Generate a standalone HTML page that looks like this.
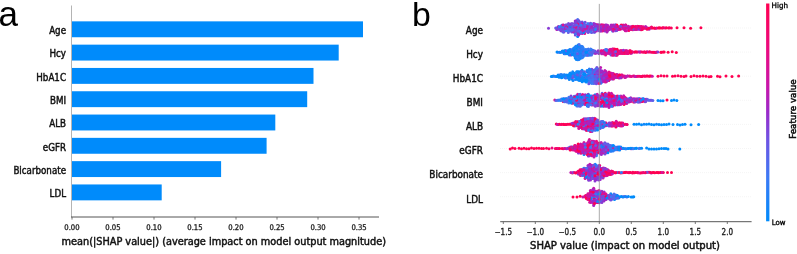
<!DOCTYPE html>
<html lang="en"><head><meta charset="utf-8"><title>SHAP summary plots</title>
<style>
html,body{margin:0;padding:0;background:#fff;}
body{width:797px;height:254px;overflow:hidden;}
svg{display:block;}
</style></head><body>
<svg width="797" height="254" viewBox="0 0 797 254" font-family="DejaVu Sans Condensed, DejaVu Sans, Liberation Sans, sans-serif">
<rect width="797" height="254" fill="#fff"/>
<text x="-1.5" y="26.2" font-size="35" font-family="Liberation Sans, Arial, sans-serif" fill="#000">a</text>
<text x="411.9" y="26.2" font-size="33.8" font-family="Liberation Sans, Arial, sans-serif" fill="#000">b</text>
<g fill="#008bfb">
<rect x="72.0" y="21.35" width="291.0" height="15.90"/>
<rect x="72.0" y="44.65" width="266.7" height="15.90"/>
<rect x="72.0" y="67.95" width="241.5" height="15.90"/>
<rect x="72.0" y="91.25" width="235.2" height="15.90"/>
<rect x="72.0" y="114.55" width="203.3" height="15.90"/>
<rect x="72.0" y="137.85" width="194.6" height="15.90"/>
<rect x="72.0" y="161.15" width="149.1" height="15.90"/>
<rect x="72.0" y="184.45" width="89.7" height="15.90"/>
</g>
<line x1="71.5" y1="5.5" x2="71.5" y2="217" stroke="#b4b4b4" stroke-width="1"/>
<line x1="71" y1="217.0" x2="379" y2="217.0" stroke="#555" stroke-width="1"/>
<line x1="72.0" y1="217.0" x2="72.0" y2="219.6" stroke="#555" stroke-width="0.8"/>
<text x="64.3" y="229.5" font-size="7.80" text-anchor="start" fill="#222" stroke="#222" stroke-width="0.30" textLength="15.3" lengthAdjust="spacingAndGlyphs" >0.00</text>
<line x1="113.0" y1="217.0" x2="113.0" y2="219.6" stroke="#555" stroke-width="0.8"/>
<text x="105.3" y="229.5" font-size="7.80" text-anchor="start" fill="#222" stroke="#222" stroke-width="0.30" textLength="15.3" lengthAdjust="spacingAndGlyphs" >0.05</text>
<line x1="154.0" y1="217.0" x2="154.0" y2="219.6" stroke="#555" stroke-width="0.8"/>
<text x="146.3" y="229.5" font-size="7.80" text-anchor="start" fill="#222" stroke="#222" stroke-width="0.30" textLength="15.3" lengthAdjust="spacingAndGlyphs" >0.10</text>
<line x1="195.0" y1="217.0" x2="195.0" y2="219.6" stroke="#555" stroke-width="0.8"/>
<text x="187.3" y="229.5" font-size="7.80" text-anchor="start" fill="#222" stroke="#222" stroke-width="0.30" textLength="15.3" lengthAdjust="spacingAndGlyphs" >0.15</text>
<line x1="236.0" y1="217.0" x2="236.0" y2="219.6" stroke="#555" stroke-width="0.8"/>
<text x="228.3" y="229.5" font-size="7.80" text-anchor="start" fill="#222" stroke="#222" stroke-width="0.30" textLength="15.3" lengthAdjust="spacingAndGlyphs" >0.20</text>
<line x1="277.0" y1="217.0" x2="277.0" y2="219.6" stroke="#555" stroke-width="0.8"/>
<text x="269.4" y="229.5" font-size="7.80" text-anchor="start" fill="#222" stroke="#222" stroke-width="0.30" textLength="15.3" lengthAdjust="spacingAndGlyphs" >0.25</text>
<line x1="318.0" y1="217.0" x2="318.0" y2="219.6" stroke="#555" stroke-width="0.8"/>
<text x="310.4" y="229.5" font-size="7.80" text-anchor="start" fill="#222" stroke="#222" stroke-width="0.30" textLength="15.3" lengthAdjust="spacingAndGlyphs" >0.30</text>
<line x1="359.0" y1="217.0" x2="359.0" y2="219.6" stroke="#555" stroke-width="0.8"/>
<text x="351.4" y="229.5" font-size="7.80" text-anchor="start" fill="#222" stroke="#222" stroke-width="0.30" textLength="15.3" lengthAdjust="spacingAndGlyphs" >0.35</text>
<text x="66.0" y="34.0" font-size="9.70" text-anchor="end" fill="#111" stroke="#111" stroke-width="0.42" >Age</text>
<text x="66.0" y="57.3" font-size="9.70" text-anchor="end" fill="#111" stroke="#111" stroke-width="0.42" >Hcy</text>
<text x="66.0" y="80.6" font-size="9.70" text-anchor="end" fill="#111" stroke="#111" stroke-width="0.42" >HbA1C</text>
<text x="66.0" y="103.9" font-size="9.70" text-anchor="end" fill="#111" stroke="#111" stroke-width="0.42" >BMI</text>
<text x="66.0" y="127.2" font-size="9.70" text-anchor="end" fill="#111" stroke="#111" stroke-width="0.42" >ALB</text>
<text x="66.0" y="150.5" font-size="9.70" text-anchor="end" fill="#111" stroke="#111" stroke-width="0.42" >eGFR</text>
<text x="66.0" y="173.8" font-size="9.70" text-anchor="end" fill="#111" stroke="#111" stroke-width="0.42" >Bicarbonate</text>
<text x="66.0" y="197.1" font-size="9.70" text-anchor="end" fill="#111" stroke="#111" stroke-width="0.42" >LDL</text>
<text x="61.5" y="244.7" font-size="10.50" text-anchor="start" fill="#111" stroke="#111" stroke-width="0.45" textLength="324.5" lengthAdjust="spacingAndGlyphs" >mean(|SHAP value|) (average impact on model output magnitude)</text>
<line x1="500" y1="28.0" x2="751.5" y2="28.0" stroke="#f2f2f2" stroke-width="0.8" stroke-dasharray="1,1"/>
<line x1="500" y1="52.1" x2="751.5" y2="52.1" stroke="#f2f2f2" stroke-width="0.8" stroke-dasharray="1,1"/>
<line x1="500" y1="76.2" x2="751.5" y2="76.2" stroke="#f2f2f2" stroke-width="0.8" stroke-dasharray="1,1"/>
<line x1="500" y1="100.3" x2="751.5" y2="100.3" stroke="#f2f2f2" stroke-width="0.8" stroke-dasharray="1,1"/>
<line x1="500" y1="124.4" x2="751.5" y2="124.4" stroke="#f2f2f2" stroke-width="0.8" stroke-dasharray="1,1"/>
<line x1="500" y1="148.5" x2="751.5" y2="148.5" stroke="#f2f2f2" stroke-width="0.8" stroke-dasharray="1,1"/>
<line x1="500" y1="172.6" x2="751.5" y2="172.6" stroke="#f2f2f2" stroke-width="0.8" stroke-dasharray="1,1"/>
<line x1="500" y1="196.7" x2="751.5" y2="196.7" stroke="#f2f2f2" stroke-width="0.8" stroke-dasharray="1,1"/>
<text x="483.0" y="33.8" font-size="9.90" text-anchor="end" fill="#111" stroke="#111" stroke-width="0.42" >Age</text>
<text x="483.0" y="57.9" font-size="9.90" text-anchor="end" fill="#111" stroke="#111" stroke-width="0.42" >Hcy</text>
<text x="483.0" y="82.0" font-size="9.90" text-anchor="end" fill="#111" stroke="#111" stroke-width="0.42" >HbA1C</text>
<text x="483.0" y="106.1" font-size="9.90" text-anchor="end" fill="#111" stroke="#111" stroke-width="0.42" >BMI</text>
<text x="483.0" y="130.2" font-size="9.90" text-anchor="end" fill="#111" stroke="#111" stroke-width="0.42" >ALB</text>
<text x="483.0" y="154.3" font-size="9.90" text-anchor="end" fill="#111" stroke="#111" stroke-width="0.42" >eGFR</text>
<text x="483.0" y="178.4" font-size="9.90" text-anchor="end" fill="#111" stroke="#111" stroke-width="0.42" >Bicarbonate</text>
<text x="483.0" y="202.5" font-size="9.90" text-anchor="end" fill="#111" stroke="#111" stroke-width="0.42" >LDL</text>
<g fill="#774bde">
<circle cx="597.3" cy="29.1" r="1.5"/>
<circle cx="582.1" cy="21.9" r="1.5"/>
</g>
<g fill="#2d7ef6">
<circle cx="612.6" cy="31.1" r="1.5"/>
</g>
<g fill="#c019af">
<circle cx="604.2" cy="30.8" r="1.5"/>
</g>
<g fill="#f10872">
<circle cx="602.3" cy="31.0" r="1.5"/>
</g>
<g fill="#774bde">
<circle cx="584.4" cy="30.7" r="1.5"/>
</g>
<g fill="#d81196">
<circle cx="635.5" cy="27.9" r="1.5"/>
<circle cx="636.3" cy="28.1" r="1.5"/>
</g>
<g fill="#5964ea">
<circle cx="582.5" cy="32.5" r="1.5"/>
</g>
<g fill="#ad22bd">
<circle cx="614.8" cy="29.2" r="1.5"/>
</g>
<g fill="#9a2aca">
<circle cx="600.0" cy="26.5" r="1.5"/>
</g>
<g fill="#0f87fa">
<circle cx="578.7" cy="29.2" r="1.5"/>
</g>
<g fill="#774bde">
<circle cx="557.2" cy="27.7" r="1.5"/>
</g>
<g fill="#ad22bd">
<circle cx="608.8" cy="29.7" r="1.5"/>
<circle cx="610.4" cy="26.7" r="1.5"/>
</g>
<g fill="#774bde">
<circle cx="588.2" cy="32.5" r="1.5"/>
</g>
<g fill="#d81196">
<circle cx="620.5" cy="29.2" r="1.5"/>
</g>
<g fill="#6759e5">
<circle cx="591.3" cy="30.6" r="1.5"/>
</g>
<g fill="#2d7ef6">
<circle cx="600.7" cy="26.4" r="1.5"/>
</g>
<g fill="#883bd4">
<circle cx="624.6" cy="29.3" r="1.5"/>
</g>
<g fill="#c019af">
<circle cx="613.3" cy="31.0" r="1.5"/>
</g>
<g fill="#ff0051">
<circle cx="656.9" cy="28.0" r="1.5"/>
</g>
<g fill="#ad22bd">
<circle cx="645.6" cy="26.6" r="1.5"/>
<circle cx="634.6" cy="26.8" r="1.5"/>
</g>
<g fill="#9a2aca">
<circle cx="598.5" cy="26.2" r="1.5"/>
</g>
<g fill="#ad22bd">
<circle cx="606.8" cy="26.2" r="1.5"/>
<circle cx="631.1" cy="26.8" r="1.5"/>
</g>
<g fill="#6759e5">
<circle cx="571.0" cy="30.8" r="1.5"/>
</g>
<g fill="#4a6ff0">
<circle cx="559.6" cy="29.2" r="1.5"/>
</g>
<g fill="#774bde">
<circle cx="568.5" cy="23.4" r="1.5"/>
</g>
<g fill="#4a6ff0">
<circle cx="592.8" cy="28.1" r="1.5"/>
</g>
<g fill="#774bde">
<circle cx="574.4" cy="27.8" r="1.5"/>
</g>
<g fill="#ff0051">
<circle cx="646.9" cy="27.9" r="1.5"/>
</g>
<g fill="#774bde">
<circle cx="587.1" cy="25.0" r="1.5"/>
<circle cx="568.7" cy="28.3" r="1.5"/>
</g>
<g fill="#c019af">
<circle cx="573.2" cy="26.8" r="1.5"/>
</g>
<g fill="#9a2aca">
<circle cx="592.6" cy="25.4" r="1.5"/>
<circle cx="558.2" cy="28.1" r="1.5"/>
</g>
<g fill="#c019af">
<circle cx="567.4" cy="25.3" r="1.5"/>
</g>
<g fill="#d81196">
<circle cx="651.4" cy="28.1" r="1.5"/>
</g>
<g fill="#883bd4">
<circle cx="576.5" cy="22.3" r="1.5"/>
</g>
<g fill="#ce14a2">
<circle cx="619.2" cy="26.7" r="1.5"/>
</g>
<g fill="#774bde">
<circle cx="567.7" cy="26.9" r="1.5"/>
</g>
<g fill="#883bd4">
<circle cx="594.1" cy="31.1" r="1.5"/>
</g>
<g fill="#c019af">
<circle cx="611.3" cy="28.3" r="1.5"/>
<circle cx="613.4" cy="25.0" r="1.5"/>
</g>
<g fill="#774bde">
<circle cx="585.1" cy="22.3" r="1.5"/>
</g>
<g fill="#9a2aca">
<circle cx="575.7" cy="32.1" r="1.5"/>
<circle cx="600.6" cy="27.9" r="1.5"/>
</g>
<g fill="#774bde">
<circle cx="583.3" cy="24.9" r="1.5"/>
<circle cx="580.0" cy="31.2" r="1.5"/>
</g>
<g fill="#fa035c">
<circle cx="641.1" cy="29.7" r="1.5"/>
</g>
<g fill="#774bde">
<circle cx="585.9" cy="31.2" r="1.5"/>
</g>
<g fill="#9a2aca">
<circle cx="612.5" cy="26.6" r="1.5"/>
</g>
<g fill="#774bde">
<circle cx="575.7" cy="25.4" r="1.5"/>
</g>
<g fill="#6759e5">
<circle cx="604.6" cy="26.6" r="1.5"/>
</g>
<g fill="#c019af">
<circle cx="556.8" cy="29.4" r="1.5"/>
</g>
<g fill="#774bde">
<circle cx="561.7" cy="26.9" r="1.5"/>
</g>
<g fill="#883bd4">
<circle cx="605.3" cy="30.9" r="1.5"/>
</g>
<g fill="#ad22bd">
<circle cx="585.8" cy="26.6" r="1.5"/>
</g>
<g fill="#f60567">
<circle cx="638.9" cy="28.1" r="1.5"/>
</g>
<g fill="#ce14a2">
<circle cx="612.0" cy="29.2" r="1.5"/>
</g>
<g fill="#ff0051">
<circle cx="666.5" cy="27.8" r="1.5"/>
</g>
<g fill="#774bde">
<circle cx="562.0" cy="28.3" r="1.5"/>
<circle cx="615.7" cy="30.8" r="1.5"/>
</g>
<g fill="#883bd4">
<circle cx="570.7" cy="23.9" r="1.5"/>
</g>
<g fill="#ad22bd">
<circle cx="601.9" cy="29.6" r="1.5"/>
<circle cx="562.5" cy="29.3" r="1.5"/>
</g>
<g fill="#1e82f8">
<circle cx="578.1" cy="25.4" r="1.5"/>
</g>
<g fill="#d81196">
<circle cx="623.1" cy="25.1" r="1.5"/>
</g>
<g fill="#774bde">
<circle cx="561.5" cy="31.1" r="1.5"/>
</g>
<g fill="#883bd4">
<circle cx="568.7" cy="26.5" r="1.5"/>
</g>
<g fill="#ec0a7d">
<circle cx="617.3" cy="29.5" r="1.5"/>
</g>
<g fill="#883bd4">
<circle cx="597.1" cy="24.8" r="1.5"/>
<circle cx="562.6" cy="27.8" r="1.5"/>
</g>
<g fill="#3c7af5">
<circle cx="575.6" cy="29.6" r="1.5"/>
</g>
<g fill="#5964ea">
<circle cx="567.4" cy="29.6" r="1.5"/>
</g>
<g fill="#774bde">
<circle cx="578.1" cy="21.9" r="1.5"/>
</g>
<g fill="#d81196">
<circle cx="637.7" cy="26.3" r="1.5"/>
</g>
<g fill="#774bde">
<circle cx="582.4" cy="29.8" r="1.5"/>
</g>
<g fill="#c019af">
<circle cx="580.3" cy="29.7" r="1.5"/>
</g>
<g fill="#883bd4">
<circle cx="584.8" cy="27.7" r="1.5"/>
</g>
<g fill="#ad22bd">
<circle cx="576.3" cy="20.8" r="1.5"/>
</g>
<g fill="#774bde">
<circle cx="577.6" cy="32.1" r="1.5"/>
<circle cx="573.3" cy="27.9" r="1.5"/>
</g>
<g fill="#9a2aca">
<circle cx="576.4" cy="23.6" r="1.5"/>
<circle cx="636.3" cy="29.5" r="1.5"/>
</g>
<g fill="#2d7ef6">
<circle cx="583.6" cy="23.3" r="1.5"/>
</g>
<g fill="#883bd4">
<circle cx="600.8" cy="29.2" r="1.5"/>
</g>
<g fill="#774bde">
<circle cx="588.3" cy="28.0" r="1.5"/>
</g>
<g fill="#c019af">
<circle cx="591.3" cy="27.7" r="1.5"/>
</g>
<g fill="#6759e5">
<circle cx="628.6" cy="27.7" r="1.5"/>
</g>
<g fill="#c019af">
<circle cx="632.7" cy="27.8" r="1.5"/>
</g>
<g fill="#ad22bd">
<circle cx="571.3" cy="24.9" r="1.5"/>
</g>
<g fill="#ff0051">
<circle cx="632.1" cy="29.5" r="1.5"/>
</g>
<g fill="#ad22bd">
<circle cx="586.8" cy="27.8" r="1.5"/>
</g>
<g fill="#3c7af5">
<circle cx="563.2" cy="32.0" r="1.5"/>
</g>
<g fill="#ec0a7d">
<circle cx="613.5" cy="28.3" r="1.5"/>
</g>
<g fill="#ad22bd">
<circle cx="607.5" cy="30.7" r="1.5"/>
</g>
<g fill="#774bde">
<circle cx="579.3" cy="25.4" r="1.5"/>
<circle cx="589.4" cy="25.1" r="1.5"/>
<circle cx="566.2" cy="24.8" r="1.5"/>
</g>
<g fill="#e20d8a">
<circle cx="639.8" cy="26.5" r="1.5"/>
</g>
<g fill="#883bd4">
<circle cx="580.0" cy="26.5" r="1.5"/>
</g>
<g fill="#5964ea">
<circle cx="563.3" cy="30.9" r="1.5"/>
</g>
<g fill="#774bde">
<circle cx="590.8" cy="27.8" r="1.5"/>
</g>
<g fill="#e20d8a">
<circle cx="632.8" cy="29.7" r="1.5"/>
</g>
<g fill="#5964ea">
<circle cx="595.9" cy="26.7" r="1.5"/>
</g>
<g fill="#008bfb">
<circle cx="582.2" cy="27.7" r="1.5"/>
</g>
<g fill="#ce14a2">
<circle cx="626.1" cy="27.8" r="1.5"/>
</g>
<g fill="#1e82f8">
<circle cx="594.1" cy="28.2" r="1.5"/>
</g>
<g fill="#e20d8a">
<circle cx="618.9" cy="28.0" r="1.5"/>
</g>
<g fill="#774bde">
<circle cx="558.0" cy="29.3" r="1.5"/>
<circle cx="563.9" cy="29.2" r="1.5"/>
<circle cx="588.4" cy="26.6" r="1.5"/>
</g>
<g fill="#f10872">
<circle cx="634.6" cy="27.9" r="1.5"/>
</g>
<g fill="#e20d8a">
<circle cx="637.4" cy="29.2" r="1.5"/>
</g>
<g fill="#ec0a7d">
<circle cx="604.3" cy="25.2" r="1.5"/>
</g>
<g fill="#774bde">
<circle cx="608.0" cy="28.3" r="1.5"/>
</g>
<g fill="#4a6ff0">
<circle cx="613.2" cy="26.2" r="1.5"/>
</g>
<g fill="#ce14a2">
<circle cx="655.8" cy="28.2" r="1.5"/>
</g>
<g fill="#774bde">
<circle cx="571.0" cy="28.0" r="1.5"/>
<circle cx="565.2" cy="26.9" r="1.5"/>
</g>
<g fill="#5964ea">
<circle cx="582.3" cy="25.2" r="1.5"/>
</g>
<g fill="#f60567">
<circle cx="659.3" cy="27.8" r="1.5"/>
</g>
<g fill="#d81196">
<circle cx="606.7" cy="27.9" r="1.5"/>
</g>
<g fill="#6759e5">
<circle cx="585.8" cy="25.2" r="1.5"/>
</g>
<g fill="#774bde">
<circle cx="580.1" cy="23.9" r="1.5"/>
</g>
<g fill="#ad22bd">
<circle cx="607.0" cy="32.0" r="1.5"/>
</g>
<g fill="#d81196">
<circle cx="631.5" cy="26.8" r="1.5"/>
</g>
<g fill="#fa035c">
<circle cx="635.7" cy="26.6" r="1.5"/>
</g>
<g fill="#c019af">
<circle cx="610.0" cy="28.0" r="1.5"/>
</g>
<g fill="#883bd4">
<circle cx="584.5" cy="29.4" r="1.5"/>
</g>
<g fill="#e20d8a">
<circle cx="607.5" cy="26.8" r="1.5"/>
</g>
<g fill="#4a6ff0">
<circle cx="574.7" cy="32.5" r="1.5"/>
</g>
<g fill="#883bd4">
<circle cx="594.9" cy="24.0" r="1.5"/>
</g>
<g fill="#e20d8a">
<circle cx="618.4" cy="26.8" r="1.5"/>
</g>
<g fill="#c019af">
<circle cx="614.3" cy="25.4" r="1.5"/>
</g>
<g fill="#3c7af5">
<circle cx="634.1" cy="29.3" r="1.5"/>
</g>
<g fill="#ad22bd">
<circle cx="649.1" cy="29.2" r="1.5"/>
</g>
<g fill="#774bde">
<circle cx="571.3" cy="26.5" r="1.5"/>
</g>
<g fill="#ce14a2">
<circle cx="615.5" cy="29.6" r="1.5"/>
</g>
<g fill="#774bde">
<circle cx="560.8" cy="26.8" r="1.5"/>
</g>
<g fill="#f10872">
<circle cx="629.6" cy="28.0" r="1.5"/>
</g>
<g fill="#008bfb">
<circle cx="573.4" cy="29.6" r="1.5"/>
</g>
<g fill="#ce14a2">
<circle cx="620.4" cy="27.9" r="1.5"/>
</g>
<g fill="#3c7af5">
<circle cx="588.0" cy="23.4" r="1.5"/>
</g>
<g fill="#883bd4">
<circle cx="598.3" cy="24.8" r="1.5"/>
<circle cx="564.9" cy="29.4" r="1.5"/>
</g>
<g fill="#6759e5">
<circle cx="555.7" cy="27.9" r="1.5"/>
</g>
<g fill="#883bd4">
<circle cx="593.7" cy="29.2" r="1.5"/>
</g>
<g fill="#6759e5">
<circle cx="585.1" cy="24.9" r="1.5"/>
</g>
<g fill="#774bde">
<circle cx="579.2" cy="32.0" r="1.5"/>
</g>
<g fill="#4a6ff0">
<circle cx="616.8" cy="28.1" r="1.5"/>
</g>
<g fill="#ad22bd">
<circle cx="612.6" cy="25.2" r="1.5"/>
</g>
<g fill="#ec0a7d">
<circle cx="641.9" cy="26.7" r="1.5"/>
</g>
<g fill="#ad22bd">
<circle cx="605.6" cy="24.9" r="1.5"/>
</g>
<g fill="#c019af">
<circle cx="628.5" cy="26.3" r="1.5"/>
</g>
<g fill="#774bde">
<circle cx="583.4" cy="30.7" r="1.5"/>
</g>
<g fill="#f60567">
<circle cx="595.5" cy="28.1" r="1.5"/>
</g>
<g fill="#9a2aca">
<circle cx="598.3" cy="29.3" r="1.5"/>
</g>
<g fill="#ff0051">
<circle cx="660.4" cy="28.0" r="1.5"/>
</g>
<g fill="#883bd4">
<circle cx="589.5" cy="29.8" r="1.5"/>
</g>
<g fill="#ff0051">
<circle cx="668.6" cy="28.1" r="1.5"/>
</g>
<g fill="#4a6ff0">
<circle cx="567.9" cy="30.6" r="1.5"/>
</g>
<g fill="#774bde">
<circle cx="575.7" cy="28.1" r="1.5"/>
</g>
<g fill="#f10872">
<circle cx="654.8" cy="28.3" r="1.5"/>
</g>
<g fill="#774bde">
<circle cx="615.4" cy="24.8" r="1.5"/>
</g>
<g fill="#5964ea">
<circle cx="568.5" cy="25.2" r="1.5"/>
</g>
<g fill="#9a2aca">
<circle cx="628.7" cy="29.1" r="1.5"/>
</g>
<g fill="#774bde">
<circle cx="590.4" cy="23.3" r="1.5"/>
</g>
<g fill="#883bd4">
<circle cx="595.9" cy="29.8" r="1.5"/>
</g>
<g fill="#ce14a2">
<circle cx="647.7" cy="27.9" r="1.5"/>
</g>
<g fill="#774bde">
<circle cx="572.0" cy="23.4" r="1.5"/>
</g>
<g fill="#fa035c">
<circle cx="638.6" cy="26.4" r="1.5"/>
</g>
<g fill="#f60567">
<circle cx="606.9" cy="29.8" r="1.5"/>
</g>
<g fill="#2d7ef6">
<circle cx="565.4" cy="30.7" r="1.5"/>
</g>
<g fill="#5964ea">
<circle cx="575.8" cy="23.9" r="1.5"/>
</g>
<g fill="#6759e5">
<circle cx="568.3" cy="32.5" r="1.5"/>
</g>
<g fill="#774bde">
<circle cx="563.9" cy="32.1" r="1.5"/>
</g>
<g fill="#d81196">
<circle cx="635.0" cy="29.5" r="1.5"/>
</g>
<g fill="#774bde">
<circle cx="576.3" cy="30.9" r="1.5"/>
</g>
<g fill="#9a2aca">
<circle cx="600.7" cy="24.9" r="1.5"/>
</g>
<g fill="#ce14a2">
<circle cx="625.3" cy="30.7" r="1.5"/>
</g>
<g fill="#ff0051">
<circle cx="628.8" cy="30.6" r="1.5"/>
</g>
<g fill="#e20d8a">
<circle cx="640.2" cy="29.3" r="1.5"/>
</g>
<g fill="#ce14a2">
<circle cx="627.3" cy="26.8" r="1.5"/>
</g>
<g fill="#ad22bd">
<circle cx="605.6" cy="28.2" r="1.5"/>
</g>
<g fill="#fa035c">
<circle cx="671.3" cy="28.0" r="1.5"/>
</g>
<g fill="#1e82f8">
<circle cx="578.7" cy="22.5" r="1.5"/>
</g>
<g fill="#774bde">
<circle cx="576.7" cy="29.7" r="1.5"/>
</g>
<g fill="#ce14a2">
<circle cx="623.1" cy="26.3" r="1.5"/>
</g>
<g fill="#ec0a7d">
<circle cx="601.9" cy="24.8" r="1.5"/>
</g>
<g fill="#ad22bd">
<circle cx="607.8" cy="29.6" r="1.5"/>
</g>
<g fill="#4a6ff0">
<circle cx="577.7" cy="19.6" r="1.5"/>
</g>
<g fill="#c019af">
<circle cx="605.6" cy="29.3" r="1.5"/>
</g>
<g fill="#774bde">
<circle cx="650.4" cy="27.7" r="1.5"/>
<circle cx="574.4" cy="31.0" r="1.5"/>
</g>
<g fill="#f10872">
<circle cx="625.9" cy="25.0" r="1.5"/>
</g>
<g fill="#e20d8a">
<circle cx="596.4" cy="24.8" r="1.5"/>
</g>
<g fill="#c019af">
<circle cx="586.7" cy="29.4" r="1.5"/>
</g>
<g fill="#d81196">
<circle cx="603.3" cy="25.0" r="1.5"/>
</g>
<g fill="#5964ea">
<circle cx="579.8" cy="27.8" r="1.5"/>
</g>
<g fill="#008bfb">
<circle cx="577.7" cy="36.5" r="1.5"/>
</g>
<g fill="#774bde">
<circle cx="576.5" cy="32.3" r="1.5"/>
</g>
<g fill="#9a2aca">
<circle cx="575.2" cy="20.9" r="1.5"/>
</g>
<g fill="#fa035c">
<circle cx="577.6" cy="33.8" r="1.5"/>
</g>
<g fill="#4a6ff0">
<circle cx="598.8" cy="30.6" r="1.5"/>
</g>
<g fill="#ff0051">
<circle cx="652.3" cy="28.0" r="1.5"/>
<circle cx="665.4" cy="28.1" r="1.5"/>
</g>
<g fill="#6759e5">
<circle cx="572.3" cy="26.2" r="1.5"/>
</g>
<g fill="#1e82f8">
<circle cx="603.1" cy="29.6" r="1.5"/>
</g>
<g fill="#9a2aca">
<circle cx="604.2" cy="28.1" r="1.5"/>
</g>
<g fill="#ff0051">
<circle cx="616.8" cy="25.1" r="1.5"/>
</g>
<g fill="#e20d8a">
<circle cx="663.9" cy="27.7" r="1.5"/>
</g>
<g fill="#d81196">
<circle cx="569.8" cy="28.0" r="1.5"/>
</g>
<g fill="#4a6ff0">
<circle cx="575.2" cy="26.5" r="1.5"/>
</g>
<g fill="#ce14a2">
<circle cx="630.8" cy="28.0" r="1.5"/>
</g>
<g fill="#c019af">
<circle cx="580.9" cy="30.9" r="1.5"/>
</g>
<g fill="#ad22bd">
<circle cx="610.3" cy="29.3" r="1.5"/>
<circle cx="576.9" cy="33.5" r="1.5"/>
</g>
<g fill="#3c7af5">
<circle cx="583.4" cy="29.7" r="1.5"/>
</g>
<g fill="#ff0051">
<circle cx="621.2" cy="25.1" r="1.5"/>
</g>
<g fill="#ec0a7d">
<circle cx="643.4" cy="26.8" r="1.5"/>
</g>
<g fill="#774bde">
<circle cx="589.7" cy="27.9" r="1.5"/>
</g>
<g fill="#008bfb">
<circle cx="569.8" cy="26.6" r="1.5"/>
</g>
<g fill="#774bde">
<circle cx="575.3" cy="35.0" r="1.5"/>
<circle cx="571.7" cy="32.1" r="1.5"/>
</g>
<g fill="#9a2aca">
<circle cx="600.0" cy="29.2" r="1.5"/>
</g>
<g fill="#ce14a2">
<circle cx="623.8" cy="29.2" r="1.5"/>
</g>
<g fill="#4a6ff0">
<circle cx="568.8" cy="30.9" r="1.5"/>
</g>
<g fill="#ad22bd">
<circle cx="590.5" cy="31.2" r="1.5"/>
</g>
<g fill="#e20d8a">
<circle cx="640.8" cy="28.2" r="1.5"/>
</g>
<g fill="#ff0051">
<circle cx="662.2" cy="27.9" r="1.5"/>
</g>
<g fill="#774bde">
<circle cx="577.7" cy="29.4" r="1.5"/>
</g>
<g fill="#ec0a7d">
<circle cx="629.9" cy="29.6" r="1.5"/>
</g>
<g fill="#fa035c">
<circle cx="619.3" cy="29.3" r="1.5"/>
</g>
<g fill="#883bd4">
<circle cx="567.8" cy="27.8" r="1.5"/>
</g>
<g fill="#ad22bd">
<circle cx="623.1" cy="28.1" r="1.5"/>
</g>
<g fill="#fa035c">
<circle cx="642.3" cy="29.6" r="1.5"/>
</g>
<g fill="#774bde">
<circle cx="589.5" cy="26.3" r="1.5"/>
<circle cx="559.1" cy="28.0" r="1.5"/>
</g>
<g fill="#f60567">
<circle cx="651.5" cy="26.9" r="1.5"/>
</g>
<g fill="#9a2aca">
<circle cx="595.0" cy="26.8" r="1.5"/>
</g>
<g fill="#ce14a2">
<circle cx="626.5" cy="30.8" r="1.5"/>
</g>
<g fill="#ad22bd">
<circle cx="611.2" cy="26.5" r="1.5"/>
</g>
<g fill="#774bde">
<circle cx="574.3" cy="29.2" r="1.5"/>
</g>
<g fill="#9a2aca">
<circle cx="599.8" cy="31.1" r="1.5"/>
</g>
<g fill="#774bde">
<circle cx="616.8" cy="30.6" r="1.5"/>
<circle cx="563.7" cy="27.8" r="1.5"/>
<circle cx="582.6" cy="23.5" r="1.5"/>
</g>
<g fill="#5964ea">
<circle cx="590.2" cy="25.3" r="1.5"/>
</g>
<g fill="#fa035c">
<circle cx="566.3" cy="26.9" r="1.5"/>
</g>
<g fill="#f60567">
<circle cx="614.8" cy="28.2" r="1.5"/>
</g>
<g fill="#e20d8a">
<circle cx="621.4" cy="26.6" r="1.5"/>
</g>
<g fill="#ad22bd">
<circle cx="573.5" cy="32.1" r="1.5"/>
</g>
<g fill="#c019af">
<circle cx="579.3" cy="27.9" r="1.5"/>
</g>
<g fill="#e20d8a">
<circle cx="625.8" cy="26.8" r="1.5"/>
</g>
<g fill="#ad22bd">
<circle cx="581.1" cy="27.7" r="1.5"/>
</g>
<g fill="#9a2aca">
<circle cx="615.7" cy="27.7" r="1.5"/>
</g>
<g fill="#883bd4">
<circle cx="643.6" cy="28.0" r="1.5"/>
</g>
<g fill="#774bde">
<circle cx="582.1" cy="26.4" r="1.5"/>
</g>
<g fill="#c019af">
<circle cx="574.3" cy="26.4" r="1.5"/>
</g>
<g fill="#9a2aca">
<circle cx="603.1" cy="28.1" r="1.5"/>
</g>
<g fill="#774bde">
<circle cx="580.3" cy="25.4" r="1.5"/>
<circle cx="578.9" cy="20.7" r="1.5"/>
</g>
<g fill="#ad22bd">
<circle cx="611.1" cy="25.1" r="1.5"/>
</g>
<g fill="#9a2aca">
<circle cx="606.4" cy="25.0" r="1.5"/>
</g>
<g fill="#e20d8a">
<circle cx="584.7" cy="33.5" r="1.5"/>
</g>
<g fill="#774bde">
<circle cx="578.8" cy="23.5" r="1.5"/>
</g>
<g fill="#3c7af5">
<circle cx="594.2" cy="32.3" r="1.5"/>
</g>
<g fill="#d81196">
<circle cx="597.3" cy="27.9" r="1.5"/>
</g>
<g fill="#3c7af5">
<circle cx="579.2" cy="31.2" r="1.5"/>
</g>
<g fill="#774bde">
<circle cx="591.8" cy="24.9" r="1.5"/>
</g>
<g fill="#9a2aca">
<circle cx="593.7" cy="23.4" r="1.5"/>
</g>
<g fill="#ec0a7d">
<circle cx="641.1" cy="26.6" r="1.5"/>
</g>
<g fill="#f60567">
<circle cx="642.4" cy="28.3" r="1.5"/>
</g>
<g fill="#ce14a2">
<circle cx="624.1" cy="26.3" r="1.5"/>
</g>
<g fill="#ad22bd">
<circle cx="602.3" cy="28.2" r="1.5"/>
</g>
<g fill="#774bde">
<circle cx="574.4" cy="23.5" r="1.5"/>
</g>
<g fill="#ec0a7d">
<circle cx="617.0" cy="26.4" r="1.5"/>
</g>
<g fill="#ad22bd">
<circle cx="582.2" cy="33.5" r="1.5"/>
</g>
<g fill="#5964ea">
<circle cx="577.7" cy="31.2" r="1.5"/>
</g>
<g fill="#883bd4">
<circle cx="569.8" cy="25.1" r="1.5"/>
</g>
<g fill="#774bde">
<circle cx="574.4" cy="25.4" r="1.5"/>
</g>
<g fill="#ce14a2">
<circle cx="581.6" cy="23.6" r="1.5"/>
</g>
<g fill="#774bde">
<circle cx="575.7" cy="30.6" r="1.5"/>
<circle cx="590.3" cy="26.3" r="1.5"/>
</g>
<g fill="#2d7ef6">
<circle cx="561.8" cy="25.2" r="1.5"/>
</g>
<g fill="#c019af">
<circle cx="583.9" cy="28.2" r="1.5"/>
</g>
<g fill="#2d7ef6">
<circle cx="562.8" cy="26.5" r="1.5"/>
</g>
<g fill="#9a2aca">
<circle cx="600.8" cy="31.1" r="1.5"/>
</g>
<g fill="#fa035c">
<circle cx="662.9" cy="27.7" r="1.5"/>
</g>
<g fill="#c019af">
<circle cx="590.7" cy="29.2" r="1.5"/>
</g>
<g fill="#008bfb">
<circle cx="583.5" cy="32.4" r="1.5"/>
</g>
<g fill="#ad22bd">
<circle cx="605.2" cy="26.5" r="1.5"/>
</g>
<g fill="#1e82f8">
<circle cx="577.5" cy="26.7" r="1.5"/>
</g>
<g fill="#883bd4">
<circle cx="595.2" cy="30.7" r="1.5"/>
</g>
<g fill="#774bde">
<circle cx="581.4" cy="26.2" r="1.5"/>
</g>
<g fill="#c019af">
<circle cx="618.3" cy="29.5" r="1.5"/>
</g>
<g fill="#4a6ff0">
<circle cx="591.5" cy="23.7" r="1.5"/>
</g>
<g fill="#9a2aca">
<circle cx="599.8" cy="28.2" r="1.5"/>
</g>
<g fill="#774bde">
<circle cx="573.0" cy="30.6" r="1.5"/>
</g>
<g fill="#ad22bd">
<circle cx="566.7" cy="29.5" r="1.5"/>
</g>
<g fill="#883bd4">
<circle cx="597.2" cy="26.2" r="1.5"/>
</g>
<g fill="#e20d8a">
<circle cx="637.5" cy="28.0" r="1.5"/>
</g>
<g fill="#ff0051">
<circle cx="649.0" cy="28.3" r="1.5"/>
</g>
<g fill="#c019af">
<circle cx="615.6" cy="26.3" r="1.5"/>
</g>
<g fill="#774bde">
<circle cx="589.7" cy="31.2" r="1.5"/>
</g>
<g fill="#4a6ff0">
<circle cx="572.1" cy="29.7" r="1.5"/>
</g>
<g fill="#774bde">
<circle cx="591.7" cy="32.4" r="1.5"/>
<circle cx="620.6" cy="26.3" r="1.5"/>
</g>
<g fill="#ce14a2">
<circle cx="645.8" cy="28.3" r="1.5"/>
</g>
<g fill="#4a6ff0">
<circle cx="585.0" cy="26.5" r="1.5"/>
</g>
<g fill="#9a2aca">
<circle cx="639.0" cy="29.2" r="1.5"/>
</g>
<g fill="#f10872">
<circle cx="577.6" cy="23.7" r="1.5"/>
</g>
<g fill="#883bd4">
<circle cx="595.5" cy="25.3" r="1.5"/>
</g>
<g fill="#774bde">
<circle cx="591.4" cy="29.7" r="1.5"/>
<circle cx="576.5" cy="26.5" r="1.5"/>
</g>
<g fill="#e20d8a">
<circle cx="640.0" cy="27.8" r="1.5"/>
</g>
<g fill="#6759e5">
<circle cx="568.3" cy="29.2" r="1.5"/>
</g>
<g fill="#ec0a7d">
<circle cx="636.8" cy="26.8" r="1.5"/>
</g>
<g fill="#883bd4">
<circle cx="560.7" cy="30.6" r="1.5"/>
</g>
<g fill="#ad22bd">
<circle cx="607.6" cy="25.3" r="1.5"/>
<circle cx="596.4" cy="31.1" r="1.5"/>
</g>
<g fill="#c019af">
<circle cx="587.4" cy="26.6" r="1.5"/>
</g>
<g fill="#9a2aca">
<circle cx="598.8" cy="27.9" r="1.5"/>
<circle cx="578.7" cy="35.0" r="1.5"/>
</g>
<g fill="#6759e5">
<circle cx="625.3" cy="26.3" r="1.5"/>
</g>
<g fill="#883bd4">
<circle cx="594.7" cy="32.1" r="1.5"/>
</g>
<g fill="#3c7af5">
<circle cx="581.0" cy="25.0" r="1.5"/>
<circle cx="566.5" cy="30.6" r="1.5"/>
</g>
<g fill="#ad22bd">
<circle cx="608.9" cy="28.2" r="1.5"/>
</g>
<g fill="#774bde">
<circle cx="581.1" cy="32.6" r="1.5"/>
</g>
<g fill="#ce14a2">
<circle cx="627.1" cy="28.3" r="1.5"/>
</g>
<g fill="#c019af">
<circle cx="599.5" cy="24.9" r="1.5"/>
</g>
<g fill="#d81196">
<circle cx="585.8" cy="29.7" r="1.5"/>
<circle cx="603.2" cy="30.6" r="1.5"/>
</g>
<g fill="#ad22bd">
<circle cx="558.4" cy="26.4" r="1.5"/>
</g>
<g fill="#5964ea">
<circle cx="586.8" cy="31.1" r="1.5"/>
</g>
<g fill="#f10872">
<circle cx="576.7" cy="27.7" r="1.5"/>
</g>
<g fill="#e20d8a">
<circle cx="624.9" cy="28.0" r="1.5"/>
</g>
<g fill="#4a6ff0">
<circle cx="575.5" cy="33.7" r="1.5"/>
</g>
<g fill="#fa035c">
<circle cx="669.5" cy="27.7" r="1.5"/>
</g>
<g fill="#6759e5">
<circle cx="579.8" cy="22.3" r="1.5"/>
</g>
<g fill="#883bd4">
<circle cx="581.7" cy="29.2" r="1.5"/>
</g>
<g fill="#774bde">
<circle cx="580.1" cy="33.6" r="1.5"/>
</g>
<g fill="#d81196">
<circle cx="630.5" cy="29.3" r="1.5"/>
</g>
<g fill="#fa035c">
<circle cx="647.1" cy="29.3" r="1.5"/>
</g>
<g fill="#774bde">
<circle cx="602.1" cy="26.6" r="1.5"/>
<circle cx="563.7" cy="25.0" r="1.5"/>
</g>
<g fill="#ff0051">
<circle cx="654.1" cy="28.1" r="1.5"/>
</g>
<g fill="#6759e5">
<circle cx="595.9" cy="28.3" r="1.5"/>
</g>
<g fill="#9a2aca">
<circle cx="578.8" cy="33.9" r="1.5"/>
</g>
<g fill="#c019af">
<circle cx="565.5" cy="28.3" r="1.5"/>
</g>
<g fill="#774bde">
<circle cx="560.8" cy="29.4" r="1.5"/>
</g>
<g fill="#2d7ef6">
<circle cx="595.4" cy="29.6" r="1.5"/>
</g>
<g fill="#f60567">
<circle cx="632.0" cy="27.7" r="1.5"/>
</g>
<g fill="#ce14a2">
<circle cx="603.0" cy="26.6" r="1.5"/>
</g>
<g fill="#774bde">
<circle cx="578.0" cy="28.2" r="1.5"/>
</g>
<g fill="#4a6ff0">
<circle cx="590.9" cy="32.1" r="1.5"/>
</g>
<g fill="#774bde">
<circle cx="566.1" cy="27.8" r="1.5"/>
</g>
<g fill="#ce14a2">
<circle cx="625.3" cy="24.9" r="1.5"/>
</g>
<g fill="#5964ea">
<circle cx="569.8" cy="29.3" r="1.5"/>
</g>
<g fill="#fa035c">
<circle cx="633.0" cy="26.3" r="1.5"/>
</g>
<g fill="#c019af">
<circle cx="582.7" cy="30.7" r="1.5"/>
</g>
<g fill="#d81196">
<circle cx="562.9" cy="25.1" r="1.5"/>
</g>
<g fill="#5964ea">
<circle cx="576.7" cy="24.8" r="1.5"/>
</g>
<g fill="#774bde">
<circle cx="583.6" cy="26.7" r="1.5"/>
</g>
<g fill="#ad22bd">
<circle cx="591.7" cy="26.9" r="1.5"/>
</g>
<g fill="#4a6ff0">
<circle cx="580.5" cy="32.2" r="1.5"/>
</g>
<g fill="#ff0051">
<circle cx="658.6" cy="28.1" r="1.5"/>
</g>
<g fill="#883bd4">
<circle cx="575.7" cy="22.3" r="1.5"/>
</g>
<g fill="#774bde">
<circle cx="588.2" cy="31.0" r="1.5"/>
</g>
<g fill="#ce14a2">
<circle cx="623.5" cy="28.2" r="1.5"/>
</g>
<g fill="#f10872">
<circle cx="644.2" cy="28.3" r="1.5"/>
</g>
<g fill="#2d7ef6">
<circle cx="559.2" cy="26.8" r="1.5"/>
</g>
<g fill="#883bd4">
<circle cx="548.5" cy="28.2" r="1.5"/>
</g>
<g fill="#ff0051">
<circle cx="677.0" cy="27.8" r="1.5"/>
<circle cx="684.0" cy="27.7" r="1.5"/>
<circle cx="690.6" cy="28.3" r="1.5"/>
<circle cx="700.9" cy="27.8" r="1.5"/>
</g>
<g fill="#008bfb">
<circle cx="574.1" cy="49.0" r="1.5"/>
</g>
<g fill="#1e82f8">
<circle cx="571.0" cy="50.4" r="1.5"/>
</g>
<g fill="#d81196">
<circle cx="611.2" cy="50.8" r="1.5"/>
</g>
<g fill="#5964ea">
<circle cx="557.9" cy="52.3" r="1.5"/>
</g>
<g fill="#0f87fa">
<circle cx="564.2" cy="53.7" r="1.5"/>
</g>
<g fill="#1e82f8">
<circle cx="580.9" cy="49.0" r="1.5"/>
<circle cx="580.0" cy="54.9" r="1.5"/>
</g>
<g fill="#883bd4">
<circle cx="638.9" cy="51.8" r="1.5"/>
</g>
<g fill="#ff0051">
<circle cx="629.6" cy="50.7" r="1.5"/>
</g>
<g fill="#ad22bd">
<circle cx="590.6" cy="53.3" r="1.5"/>
</g>
<g fill="#2d7ef6">
<circle cx="587.1" cy="50.9" r="1.5"/>
<circle cx="582.6" cy="50.9" r="1.5"/>
</g>
<g fill="#008bfb">
<circle cx="580.9" cy="57.9" r="1.5"/>
</g>
<g fill="#ce14a2">
<circle cx="600.6" cy="52.3" r="1.5"/>
</g>
<g fill="#6759e5">
<circle cx="583.3" cy="52.2" r="1.5"/>
</g>
<g fill="#e20d8a">
<circle cx="651.3" cy="52.2" r="1.5"/>
<circle cx="623.4" cy="51.8" r="1.5"/>
</g>
<g fill="#fa035c">
<circle cx="637.2" cy="52.1" r="1.5"/>
</g>
<g fill="#1e82f8">
<circle cx="590.5" cy="52.1" r="1.5"/>
</g>
<g fill="#6759e5">
<circle cx="580.0" cy="50.5" r="1.5"/>
</g>
<g fill="#3c7af5">
<circle cx="588.3" cy="49.0" r="1.5"/>
</g>
<g fill="#1e82f8">
<circle cx="576.9" cy="46.5" r="1.5"/>
<circle cx="575.1" cy="47.6" r="1.5"/>
</g>
<g fill="#ad22bd">
<circle cx="599.7" cy="52.3" r="1.5"/>
</g>
<g fill="#1e82f8">
<circle cx="574.6" cy="51.0" r="1.5"/>
<circle cx="579.7" cy="53.4" r="1.5"/>
</g>
<g fill="#6759e5">
<circle cx="594.2" cy="51.9" r="1.5"/>
</g>
<g fill="#9a2aca">
<circle cx="601.6" cy="51.8" r="1.5"/>
</g>
<g fill="#f10872">
<circle cx="621.4" cy="52.3" r="1.5"/>
</g>
<g fill="#ff0051">
<circle cx="619.0" cy="53.6" r="1.5"/>
</g>
<g fill="#fa035c">
<circle cx="656.9" cy="51.9" r="1.5"/>
</g>
<g fill="#f60567">
<circle cx="646.9" cy="51.8" r="1.5"/>
</g>
<g fill="#e20d8a">
<circle cx="622.2" cy="52.3" r="1.5"/>
</g>
<g fill="#5964ea">
<circle cx="592.7" cy="50.3" r="1.5"/>
</g>
<g fill="#c019af">
<circle cx="626.2" cy="50.6" r="1.5"/>
</g>
<g fill="#0f87fa">
<circle cx="562.4" cy="51.0" r="1.5"/>
</g>
<g fill="#d81196">
<circle cx="611.0" cy="53.2" r="1.5"/>
</g>
<g fill="#ce14a2">
<circle cx="607.7" cy="53.3" r="1.5"/>
</g>
<g fill="#1e82f8">
<circle cx="568.5" cy="53.5" r="1.5"/>
</g>
<g fill="#d81196">
<circle cx="640.6" cy="51.8" r="1.5"/>
</g>
<g fill="#0f87fa">
<circle cx="565.1" cy="50.6" r="1.5"/>
</g>
<g fill="#f10872">
<circle cx="634.4" cy="52.2" r="1.5"/>
</g>
<g fill="#1e82f8">
<circle cx="579.0" cy="58.2" r="1.5"/>
</g>
<g fill="#6759e5">
<circle cx="577.9" cy="56.2" r="1.5"/>
</g>
<g fill="#3c7af5">
<circle cx="582.5" cy="53.4" r="1.5"/>
</g>
<g fill="#e20d8a">
<circle cx="624.9" cy="50.7" r="1.5"/>
</g>
<g fill="#2d7ef6">
<circle cx="592.3" cy="53.6" r="1.5"/>
</g>
<g fill="#0f87fa">
<circle cx="579.1" cy="47.6" r="1.5"/>
</g>
<g fill="#6759e5">
<circle cx="598.3" cy="51.8" r="1.5"/>
</g>
<g fill="#2d7ef6">
<circle cx="574.5" cy="52.3" r="1.5"/>
</g>
<g fill="#008bfb">
<circle cx="581.4" cy="53.7" r="1.5"/>
</g>
<g fill="#c019af">
<circle cx="647.7" cy="52.0" r="1.5"/>
</g>
<g fill="#4a6ff0">
<circle cx="590.2" cy="55.0" r="1.5"/>
<circle cx="591.5" cy="54.9" r="1.5"/>
</g>
<g fill="#774bde">
<circle cx="594.9" cy="50.9" r="1.5"/>
</g>
<g fill="#2d7ef6">
<circle cx="589.6" cy="50.8" r="1.5"/>
</g>
<g fill="#0f87fa">
<circle cx="561.8" cy="51.8" r="1.5"/>
</g>
<g fill="#ce14a2">
<circle cx="605.6" cy="53.4" r="1.5"/>
</g>
<g fill="#9a2aca">
<circle cx="573.0" cy="53.3" r="1.5"/>
</g>
<g fill="#ff0051">
<circle cx="624.5" cy="51.9" r="1.5"/>
</g>
<g fill="#2d7ef6">
<circle cx="577.3" cy="46.0" r="1.5"/>
</g>
<g fill="#4a6ff0">
<circle cx="591.2" cy="50.4" r="1.5"/>
<circle cx="603.0" cy="52.3" r="1.5"/>
</g>
<g fill="#ff0051">
<circle cx="624.1" cy="53.5" r="1.5"/>
</g>
<g fill="#3c7af5">
<circle cx="589.5" cy="53.2" r="1.5"/>
</g>
<g fill="#008bfb">
<circle cx="573.0" cy="50.9" r="1.5"/>
</g>
<g fill="#6759e5">
<circle cx="563.8" cy="52.0" r="1.5"/>
</g>
<g fill="#ce14a2">
<circle cx="607.9" cy="50.5" r="1.5"/>
</g>
<g fill="#1e82f8">
<circle cx="579.7" cy="46.3" r="1.5"/>
</g>
<g fill="#ff0051">
<circle cx="660.8" cy="52.3" r="1.5"/>
</g>
<g fill="#d81196">
<circle cx="603.4" cy="50.5" r="1.5"/>
</g>
<g fill="#ff0051">
<circle cx="630.4" cy="53.2" r="1.5"/>
</g>
<g fill="#1e82f8">
<circle cx="571.6" cy="50.3" r="1.5"/>
</g>
<g fill="#ff0051">
<circle cx="655.6" cy="52.4" r="1.5"/>
</g>
<g fill="#1e82f8">
<circle cx="577.4" cy="50.7" r="1.5"/>
</g>
<g fill="#9a2aca">
<circle cx="598.7" cy="53.4" r="1.5"/>
</g>
<g fill="#f60567">
<circle cx="649.1" cy="51.9" r="1.5"/>
</g>
<g fill="#3c7af5">
<circle cx="576.7" cy="48.0" r="1.5"/>
</g>
<g fill="#5964ea">
<circle cx="597.2" cy="52.4" r="1.5"/>
</g>
<g fill="#774bde">
<circle cx="612.5" cy="50.7" r="1.5"/>
</g>
<g fill="#e20d8a">
<circle cx="615.5" cy="49.4" r="1.5"/>
</g>
<g fill="#008bfb">
<circle cx="578.1" cy="45.0" r="1.5"/>
</g>
<g fill="#2d7ef6">
<circle cx="583.4" cy="54.9" r="1.5"/>
<circle cx="586.8" cy="53.6" r="1.5"/>
</g>
<g fill="#f60567">
<circle cx="643.5" cy="52.3" r="1.5"/>
</g>
<g fill="#008bfb">
<circle cx="576.6" cy="57.9" r="1.5"/>
</g>
<g fill="#9a2aca">
<circle cx="583.2" cy="50.9" r="1.5"/>
</g>
<g fill="#2d7ef6">
<circle cx="584.6" cy="50.7" r="1.5"/>
</g>
<g fill="#ce14a2">
<circle cx="609.7" cy="49.4" r="1.5"/>
</g>
<g fill="#f10872">
<circle cx="603.9" cy="53.7" r="1.5"/>
</g>
<g fill="#2d7ef6">
<circle cx="588.0" cy="55.2" r="1.5"/>
</g>
<g fill="#008bfb">
<circle cx="584.7" cy="53.8" r="1.5"/>
</g>
<g fill="#ad22bd">
<circle cx="616.5" cy="50.9" r="1.5"/>
</g>
<g fill="#4a6ff0">
<circle cx="565.3" cy="53.8" r="1.5"/>
</g>
<g fill="#1e82f8">
<circle cx="562.4" cy="52.3" r="1.5"/>
</g>
<g fill="#008bfb">
<circle cx="557.0" cy="52.0" r="1.5"/>
</g>
<g fill="#ad22bd">
<circle cx="614.6" cy="53.4" r="1.5"/>
</g>
<g fill="#1e82f8">
<circle cx="577.4" cy="48.9" r="1.5"/>
</g>
<g fill="#9a2aca">
<circle cx="605.0" cy="52.4" r="1.5"/>
</g>
<g fill="#ec0a7d">
<circle cx="625.9" cy="53.6" r="1.5"/>
</g>
<g fill="#1e82f8">
<circle cx="587.7" cy="53.8" r="1.5"/>
</g>
<g fill="#008bfb">
<circle cx="575.2" cy="58.0" r="1.5"/>
</g>
<g fill="#5964ea">
<circle cx="584.6" cy="52.0" r="1.5"/>
</g>
<g fill="#008bfb">
<circle cx="583.3" cy="56.6" r="1.5"/>
</g>
<g fill="#9a2aca">
<circle cx="594.9" cy="53.3" r="1.5"/>
</g>
<g fill="#008bfb">
<circle cx="580.2" cy="58.2" r="1.5"/>
</g>
<g fill="#e20d8a">
<circle cx="610.8" cy="52.4" r="1.5"/>
</g>
<g fill="#f10872">
<circle cx="636.6" cy="51.9" r="1.5"/>
</g>
<g fill="#ec0a7d">
<circle cx="626.8" cy="52.1" r="1.5"/>
</g>
<g fill="#e20d8a">
<circle cx="615.9" cy="55.2" r="1.5"/>
</g>
<g fill="#883bd4">
<circle cx="582.2" cy="54.7" r="1.5"/>
</g>
<g fill="#ad22bd">
<circle cx="595.9" cy="53.3" r="1.5"/>
</g>
<g fill="#008bfb">
<circle cx="588.1" cy="50.9" r="1.5"/>
</g>
<g fill="#ff0051">
<circle cx="645.6" cy="52.4" r="1.5"/>
</g>
<g fill="#1e82f8">
<circle cx="572.1" cy="53.6" r="1.5"/>
</g>
<g fill="#008bfb">
<circle cx="585.7" cy="52.2" r="1.5"/>
</g>
<g fill="#883bd4">
<circle cx="594.9" cy="51.8" r="1.5"/>
</g>
<g fill="#1e82f8">
<circle cx="581.1" cy="46.2" r="1.5"/>
</g>
<g fill="#e20d8a">
<circle cx="617.0" cy="55.3" r="1.5"/>
</g>
<g fill="#0f87fa">
<circle cx="569.7" cy="49.5" r="1.5"/>
</g>
<g fill="#9a2aca">
<circle cx="598.2" cy="50.8" r="1.5"/>
</g>
<g fill="#1e82f8">
<circle cx="589.1" cy="55.1" r="1.5"/>
</g>
<g fill="#d81196">
<circle cx="655.0" cy="52.2" r="1.5"/>
</g>
<g fill="#3c7af5">
<circle cx="582.0" cy="49.0" r="1.5"/>
</g>
<g fill="#ff0051">
<circle cx="629.6" cy="51.8" r="1.5"/>
</g>
<g fill="#5964ea">
<circle cx="575.7" cy="54.9" r="1.5"/>
</g>
<g fill="#f10872">
<circle cx="613.2" cy="48.9" r="1.5"/>
</g>
<g fill="#d81196">
<circle cx="608.8" cy="53.3" r="1.5"/>
</g>
<g fill="#2d7ef6">
<circle cx="582.3" cy="47.8" r="1.5"/>
</g>
<g fill="#1e82f8">
<circle cx="581.2" cy="56.4" r="1.5"/>
</g>
<g fill="#008bfb">
<circle cx="573.4" cy="49.0" r="1.5"/>
<circle cx="578.6" cy="46.6" r="1.5"/>
</g>
<g fill="#ff0051">
<circle cx="617.1" cy="49.2" r="1.5"/>
</g>
<g fill="#1e82f8">
<circle cx="579.0" cy="59.6" r="1.5"/>
</g>
<g fill="#883bd4">
<circle cx="657.9" cy="52.0" r="1.5"/>
</g>
<g fill="#008bfb">
<circle cx="566.3" cy="53.5" r="1.5"/>
</g>
<g fill="#e20d8a">
<circle cx="616.6" cy="53.3" r="1.5"/>
</g>
<g fill="#f10872">
<circle cx="601.1" cy="50.7" r="1.5"/>
</g>
<g fill="#ec0a7d">
<circle cx="608.8" cy="50.9" r="1.5"/>
</g>
<g fill="#2d7ef6">
<circle cx="582.5" cy="56.7" r="1.5"/>
</g>
<g fill="#3c7af5">
<circle cx="566.3" cy="52.0" r="1.5"/>
</g>
<g fill="#d81196">
<circle cx="611.0" cy="49.2" r="1.5"/>
</g>
<g fill="#3c7af5">
<circle cx="589.5" cy="51.9" r="1.5"/>
</g>
<g fill="#ec0a7d">
<circle cx="628.2" cy="52.4" r="1.5"/>
</g>
<g fill="#008bfb">
<circle cx="564.7" cy="51.9" r="1.5"/>
<circle cx="575.8" cy="53.6" r="1.5"/>
</g>
<g fill="#4a6ff0">
<circle cx="579.1" cy="44.6" r="1.5"/>
</g>
<g fill="#1e82f8">
<circle cx="580.4" cy="51.9" r="1.5"/>
</g>
<g fill="#008bfb">
<circle cx="574.5" cy="53.4" r="1.5"/>
</g>
<g fill="#ad22bd">
<circle cx="631.4" cy="53.2" r="1.5"/>
</g>
<g fill="#ec0a7d">
<circle cx="612.2" cy="51.8" r="1.5"/>
</g>
<g fill="#1e82f8">
<circle cx="575.0" cy="56.3" r="1.5"/>
<circle cx="559.5" cy="52.3" r="1.5"/>
</g>
<g fill="#008bfb">
<circle cx="578.9" cy="50.6" r="1.5"/>
</g>
<g fill="#4a6ff0">
<circle cx="581.2" cy="47.4" r="1.5"/>
</g>
<g fill="#1e82f8">
<circle cx="581.3" cy="55.1" r="1.5"/>
</g>
<g fill="#fa035c">
<circle cx="618.9" cy="50.9" r="1.5"/>
</g>
<g fill="#3c7af5">
<circle cx="571.1" cy="52.2" r="1.5"/>
</g>
<g fill="#008bfb">
<circle cx="576.4" cy="59.5" r="1.5"/>
</g>
<g fill="#2d7ef6">
<circle cx="582.3" cy="57.8" r="1.5"/>
</g>
<g fill="#e20d8a">
<circle cx="620.3" cy="50.7" r="1.5"/>
</g>
<g fill="#008bfb">
<circle cx="576.7" cy="49.1" r="1.5"/>
</g>
<g fill="#ff0051">
<circle cx="664.2" cy="52.0" r="1.5"/>
</g>
<g fill="#e20d8a">
<circle cx="621.2" cy="50.5" r="1.5"/>
</g>
<g fill="#6759e5">
<circle cx="586.9" cy="55.3" r="1.5"/>
</g>
<g fill="#1e82f8">
<circle cx="569.4" cy="55.1" r="1.5"/>
</g>
<g fill="#3c7af5">
<circle cx="586.9" cy="49.5" r="1.5"/>
</g>
<g fill="#008bfb">
<circle cx="575.2" cy="50.5" r="1.5"/>
</g>
<g fill="#ce14a2">
<circle cx="639.8" cy="52.3" r="1.5"/>
</g>
<g fill="#2d7ef6">
<circle cx="583.3" cy="49.0" r="1.5"/>
</g>
<g fill="#f60567">
<circle cx="622.9" cy="50.8" r="1.5"/>
</g>
<g fill="#d81196">
<circle cx="620.0" cy="53.5" r="1.5"/>
</g>
<g fill="#4a6ff0">
<circle cx="570.9" cy="49.5" r="1.5"/>
</g>
<g fill="#ec0a7d">
<circle cx="626.3" cy="52.3" r="1.5"/>
</g>
<g fill="#008bfb">
<circle cx="586.5" cy="51.9" r="1.5"/>
</g>
<g fill="#3c7af5">
<circle cx="578.8" cy="49.1" r="1.5"/>
</g>
<g fill="#e20d8a">
<circle cx="619.3" cy="51.8" r="1.5"/>
</g>
<g fill="#008bfb">
<circle cx="591.2" cy="49.5" r="1.5"/>
</g>
<g fill="#fa035c">
<circle cx="632.0" cy="52.0" r="1.5"/>
</g>
<g fill="#3c7af5">
<circle cx="590.6" cy="49.0" r="1.5"/>
</g>
<g fill="#883bd4">
<circle cx="571.0" cy="55.0" r="1.5"/>
</g>
<g fill="#774bde">
<circle cx="596.0" cy="51.9" r="1.5"/>
</g>
<g fill="#e20d8a">
<circle cx="615.7" cy="53.7" r="1.5"/>
</g>
<g fill="#883bd4">
<circle cx="613.3" cy="53.7" r="1.5"/>
</g>
<g fill="#2d7ef6">
<circle cx="582.3" cy="46.5" r="1.5"/>
</g>
<g fill="#ff0051">
<circle cx="661.5" cy="52.3" r="1.5"/>
</g>
<g fill="#f10872">
<circle cx="628.0" cy="53.6" r="1.5"/>
</g>
<g fill="#f60567">
<circle cx="644.5" cy="51.8" r="1.5"/>
</g>
<g fill="#6759e5">
<circle cx="614.7" cy="55.1" r="1.5"/>
</g>
<g fill="#d81196">
<circle cx="611.8" cy="53.4" r="1.5"/>
</g>
<g fill="#0f87fa">
<circle cx="567.3" cy="52.2" r="1.5"/>
<circle cx="568.8" cy="51.8" r="1.5"/>
</g>
<g fill="#1e82f8">
<circle cx="580.0" cy="47.5" r="1.5"/>
</g>
<g fill="#ec0a7d">
<circle cx="621.6" cy="53.3" r="1.5"/>
</g>
<g fill="#ad22bd">
<circle cx="610.0" cy="53.7" r="1.5"/>
</g>
<g fill="#e20d8a">
<circle cx="615.7" cy="50.7" r="1.5"/>
</g>
<g fill="#ad22bd">
<circle cx="601.6" cy="53.7" r="1.5"/>
</g>
<g fill="#008bfb">
<circle cx="567.2" cy="53.7" r="1.5"/>
</g>
<g fill="#ff0051">
<circle cx="616.6" cy="52.2" r="1.5"/>
</g>
<g fill="#1e82f8">
<circle cx="573.9" cy="48.1" r="1.5"/>
</g>
<g fill="#e20d8a">
<circle cx="601.5" cy="50.9" r="1.5"/>
</g>
<g fill="#f10872">
<circle cx="613.2" cy="51.0" r="1.5"/>
</g>
<g fill="#e20d8a">
<circle cx="618.1" cy="53.4" r="1.5"/>
</g>
<g fill="#ce14a2">
<circle cx="606.7" cy="53.3" r="1.5"/>
</g>
<g fill="#ec0a7d">
<circle cx="604.5" cy="51.9" r="1.5"/>
<circle cx="627.5" cy="53.6" r="1.5"/>
</g>
<g fill="#e20d8a">
<circle cx="605.6" cy="55.0" r="1.5"/>
</g>
<g fill="#ff0051">
<circle cx="663.1" cy="51.9" r="1.5"/>
</g>
<g fill="#9a2aca">
<circle cx="623.4" cy="50.3" r="1.5"/>
</g>
<g fill="#008bfb">
<circle cx="570.0" cy="51.9" r="1.5"/>
<circle cx="563.8" cy="50.9" r="1.5"/>
</g>
<g fill="#3c7af5">
<circle cx="577.8" cy="57.6" r="1.5"/>
</g>
<g fill="#1e82f8">
<circle cx="581.5" cy="50.8" r="1.5"/>
<circle cx="577.7" cy="55.2" r="1.5"/>
</g>
<g fill="#2d7ef6">
<circle cx="583.1" cy="47.8" r="1.5"/>
</g>
<g fill="#c019af">
<circle cx="613.7" cy="54.9" r="1.5"/>
</g>
<g fill="#1e82f8">
<circle cx="578.7" cy="52.4" r="1.5"/>
</g>
<g fill="#d81196">
<circle cx="613.6" cy="52.2" r="1.5"/>
</g>
<g fill="#f60567">
<circle cx="642.0" cy="52.0" r="1.5"/>
</g>
<g fill="#1e82f8">
<circle cx="575.8" cy="46.2" r="1.5"/>
</g>
<g fill="#e20d8a">
<circle cx="609.8" cy="50.7" r="1.5"/>
</g>
<g fill="#c019af">
<circle cx="604.4" cy="50.9" r="1.5"/>
</g>
<g fill="#2d7ef6">
<circle cx="585.6" cy="55.3" r="1.5"/>
</g>
<g fill="#c019af">
<circle cx="603.1" cy="53.7" r="1.5"/>
</g>
<g fill="#1e82f8">
<circle cx="575.3" cy="52.4" r="1.5"/>
<circle cx="571.9" cy="52.2" r="1.5"/>
</g>
<g fill="#d81196">
<circle cx="612.6" cy="49.1" r="1.5"/>
</g>
<g fill="#2d7ef6">
<circle cx="585.4" cy="49.4" r="1.5"/>
</g>
<g fill="#1e82f8">
<circle cx="577.8" cy="59.7" r="1.5"/>
</g>
<g fill="#774bde">
<circle cx="611.1" cy="54.9" r="1.5"/>
</g>
<g fill="#0f87fa">
<circle cx="560.4" cy="52.4" r="1.5"/>
</g>
<g fill="#e20d8a">
<circle cx="627.4" cy="50.9" r="1.5"/>
</g>
<g fill="#ff0051">
<circle cx="614.7" cy="49.0" r="1.5"/>
</g>
<g fill="#1e82f8">
<circle cx="579.0" cy="56.2" r="1.5"/>
</g>
<g fill="#2d7ef6">
<circle cx="576.2" cy="56.6" r="1.5"/>
</g>
<g fill="#f60567">
<circle cx="649.8" cy="51.8" r="1.5"/>
</g>
<g fill="#883bd4">
<circle cx="606.7" cy="49.4" r="1.5"/>
</g>
<g fill="#0f87fa">
<circle cx="570.0" cy="50.4" r="1.5"/>
</g>
<g fill="#e20d8a">
<circle cx="605.5" cy="50.9" r="1.5"/>
</g>
<g fill="#6759e5">
<circle cx="615.6" cy="51.8" r="1.5"/>
</g>
<g fill="#ad22bd">
<circle cx="609.6" cy="52.2" r="1.5"/>
</g>
<g fill="#5964ea">
<circle cx="591.3" cy="52.3" r="1.5"/>
</g>
<g fill="#f60567">
<circle cx="630.4" cy="50.8" r="1.5"/>
</g>
<g fill="#ec0a7d">
<circle cx="632.5" cy="51.8" r="1.5"/>
</g>
<g fill="#3c7af5">
<circle cx="583.4" cy="53.4" r="1.5"/>
</g>
<g fill="#ff0051">
<circle cx="652.8" cy="52.2" r="1.5"/>
<circle cx="635.4" cy="51.8" r="1.5"/>
</g>
<g fill="#fa035c">
<circle cx="653.9" cy="52.3" r="1.5"/>
</g>
<g fill="#5964ea">
<circle cx="593.7" cy="50.7" r="1.5"/>
</g>
<g fill="#ad22bd">
<circle cx="607.6" cy="52.2" r="1.5"/>
</g>
<g fill="#3c7af5">
<circle cx="606.6" cy="50.4" r="1.5"/>
</g>
<g fill="#6759e5">
<circle cx="566.4" cy="50.7" r="1.5"/>
</g>
<g fill="#5964ea">
<circle cx="592.9" cy="52.1" r="1.5"/>
</g>
<g fill="#1e82f8">
<circle cx="576.7" cy="55.1" r="1.5"/>
<circle cx="574.1" cy="55.1" r="1.5"/>
</g>
<g fill="#ff0051">
<circle cx="630.6" cy="52.2" r="1.5"/>
</g>
<g fill="#6759e5">
<circle cx="577.5" cy="53.7" r="1.5"/>
</g>
<g fill="#008bfb">
<circle cx="572.0" cy="54.8" r="1.5"/>
</g>
<g fill="#ec0a7d">
<circle cx="612.6" cy="55.3" r="1.5"/>
</g>
<g fill="#d81196">
<circle cx="609.1" cy="52.1" r="1.5"/>
</g>
<g fill="#ec0a7d">
<circle cx="622.4" cy="53.6" r="1.5"/>
</g>
<g fill="#3c7af5">
<circle cx="605.5" cy="49.4" r="1.5"/>
</g>
<g fill="#008bfb">
<circle cx="568.2" cy="50.4" r="1.5"/>
</g>
<g fill="#1e82f8">
<circle cx="576.5" cy="50.3" r="1.5"/>
<circle cx="580.0" cy="56.5" r="1.5"/>
</g>
<g fill="#ff0051">
<circle cx="668.1" cy="52.3" r="1.5"/>
<circle cx="672.2" cy="51.7" r="1.5"/>
<circle cx="676.3" cy="52.4" r="1.5"/>
</g>
<g fill="#4a6ff0">
<circle cx="583.0" cy="76.3" r="1.5"/>
</g>
<g fill="#2d7ef6">
<circle cx="584.4" cy="77.5" r="1.5"/>
</g>
<g fill="#c019af">
<circle cx="600.6" cy="67.6" r="1.5"/>
</g>
<g fill="#6759e5">
<circle cx="602.7" cy="80.4" r="1.5"/>
<circle cx="591.1" cy="78.0" r="1.5"/>
</g>
<g fill="#ce14a2">
<circle cx="610.8" cy="73.1" r="1.5"/>
</g>
<g fill="#2d7ef6">
<circle cx="589.3" cy="69.0" r="1.5"/>
</g>
<g fill="#9a2aca">
<circle cx="612.9" cy="74.7" r="1.5"/>
</g>
<g fill="#774bde">
<circle cx="607.2" cy="76.2" r="1.5"/>
</g>
<g fill="#c019af">
<circle cx="606.5" cy="77.7" r="1.5"/>
</g>
<g fill="#e20d8a">
<circle cx="606.0" cy="79.3" r="1.5"/>
</g>
<g fill="#008bfb">
<circle cx="578.6" cy="71.8" r="1.5"/>
</g>
<g fill="#2d7ef6">
<circle cx="595.8" cy="68.9" r="1.5"/>
</g>
<g fill="#e20d8a">
<circle cx="622.1" cy="76.5" r="1.5"/>
</g>
<g fill="#3c7af5">
<circle cx="589.3" cy="82.1" r="1.5"/>
</g>
<g fill="#ce14a2">
<circle cx="599.4" cy="74.5" r="1.5"/>
</g>
<g fill="#ad22bd">
<circle cx="617.0" cy="77.6" r="1.5"/>
</g>
<g fill="#6759e5">
<circle cx="595.9" cy="81.9" r="1.5"/>
</g>
<g fill="#008bfb">
<circle cx="561.8" cy="76.3" r="1.5"/>
<circle cx="591.3" cy="78.9" r="1.5"/>
</g>
<g fill="#c019af">
<circle cx="607.3" cy="79.1" r="1.5"/>
</g>
<g fill="#6759e5">
<circle cx="587.2" cy="71.8" r="1.5"/>
</g>
<g fill="#ce14a2">
<circle cx="585.4" cy="78.9" r="1.5"/>
</g>
<g fill="#6759e5">
<circle cx="592.3" cy="73.5" r="1.5"/>
</g>
<g fill="#3c7af5">
<circle cx="577.5" cy="73.6" r="1.5"/>
</g>
<g fill="#ff0051">
<circle cx="608.8" cy="80.5" r="1.5"/>
</g>
<g fill="#6759e5">
<circle cx="596.0" cy="70.6" r="1.5"/>
</g>
<g fill="#ad22bd">
<circle cx="598.2" cy="79.0" r="1.5"/>
</g>
<g fill="#5964ea">
<circle cx="596.9" cy="75.0" r="1.5"/>
</g>
<g fill="#774bde">
<circle cx="604.4" cy="74.5" r="1.5"/>
</g>
<g fill="#5964ea">
<circle cx="555.7" cy="76.5" r="1.5"/>
</g>
<g fill="#0f87fa">
<circle cx="582.0" cy="80.3" r="1.5"/>
</g>
<g fill="#008bfb">
<circle cx="584.4" cy="76.0" r="1.5"/>
</g>
<g fill="#9a2aca">
<circle cx="600.4" cy="79.3" r="1.5"/>
</g>
<g fill="#e20d8a">
<circle cx="612.3" cy="75.9" r="1.5"/>
</g>
<g fill="#f60567">
<circle cx="644.5" cy="75.9" r="1.5"/>
</g>
<g fill="#008bfb">
<circle cx="588.8" cy="80.5" r="1.5"/>
<circle cx="558.1" cy="75.1" r="1.5"/>
</g>
<g fill="#0f87fa">
<circle cx="575.0" cy="74.4" r="1.5"/>
<circle cx="577.9" cy="76.4" r="1.5"/>
</g>
<g fill="#e20d8a">
<circle cx="610.7" cy="74.9" r="1.5"/>
</g>
<g fill="#f10872">
<circle cx="602.7" cy="72.2" r="1.5"/>
</g>
<g fill="#c019af">
<circle cx="606.4" cy="81.8" r="1.5"/>
</g>
<g fill="#0f87fa">
<circle cx="569.9" cy="73.5" r="1.5"/>
</g>
<g fill="#4a6ff0">
<circle cx="599.6" cy="76.1" r="1.5"/>
</g>
<g fill="#fa035c">
<circle cx="646.6" cy="76.1" r="1.5"/>
</g>
<g fill="#0f87fa">
<circle cx="577.5" cy="71.8" r="1.5"/>
</g>
<g fill="#ce14a2">
<circle cx="613.3" cy="73.5" r="1.5"/>
</g>
<g fill="#008bfb">
<circle cx="567.6" cy="77.7" r="1.5"/>
</g>
<g fill="#ce14a2">
<circle cx="610.6" cy="77.6" r="1.5"/>
</g>
<g fill="#f60567">
<circle cx="641.1" cy="76.4" r="1.5"/>
</g>
<g fill="#883bd4">
<circle cx="598.3" cy="71.8" r="1.5"/>
</g>
<g fill="#0f87fa">
<circle cx="574.2" cy="75.1" r="1.5"/>
</g>
<g fill="#2d7ef6">
<circle cx="575.3" cy="79.4" r="1.5"/>
</g>
<g fill="#0f87fa">
<circle cx="579.7" cy="80.3" r="1.5"/>
</g>
<g fill="#ce14a2">
<circle cx="625.7" cy="77.3" r="1.5"/>
</g>
<g fill="#9a2aca">
<circle cx="601.5" cy="80.6" r="1.5"/>
</g>
<g fill="#774bde">
<circle cx="599.4" cy="77.5" r="1.5"/>
<circle cx="592.3" cy="72.1" r="1.5"/>
</g>
<g fill="#4a6ff0">
<circle cx="587.8" cy="77.8" r="1.5"/>
</g>
<g fill="#008bfb">
<circle cx="556.7" cy="76.5" r="1.5"/>
</g>
<g fill="#883bd4">
<circle cx="602.0" cy="77.9" r="1.5"/>
</g>
<g fill="#1e82f8">
<circle cx="578.9" cy="75.9" r="1.5"/>
</g>
<g fill="#774bde">
<circle cx="591.3" cy="71.5" r="1.5"/>
</g>
<g fill="#2d7ef6">
<circle cx="562.9" cy="74.9" r="1.5"/>
</g>
<g fill="#5964ea">
<circle cx="594.0" cy="75.1" r="1.5"/>
</g>
<g fill="#ad22bd">
<circle cx="607.4" cy="73.6" r="1.5"/>
</g>
<g fill="#2d7ef6">
<circle cx="585.4" cy="75.9" r="1.5"/>
</g>
<g fill="#f60567">
<circle cx="645.1" cy="76.3" r="1.5"/>
</g>
<g fill="#c019af">
<circle cx="604.8" cy="78.0" r="1.5"/>
</g>
<g fill="#ce14a2">
<circle cx="600.9" cy="72.1" r="1.5"/>
</g>
<g fill="#d81196">
<circle cx="620.0" cy="76.1" r="1.5"/>
<circle cx="629.5" cy="76.1" r="1.5"/>
</g>
<g fill="#9a2aca">
<circle cx="601.7" cy="70.7" r="1.5"/>
</g>
<g fill="#6759e5">
<circle cx="595.8" cy="74.9" r="1.5"/>
</g>
<g fill="#0f87fa">
<circle cx="587.9" cy="75.0" r="1.5"/>
</g>
<g fill="#6759e5">
<circle cx="595.0" cy="70.1" r="1.5"/>
</g>
<g fill="#774bde">
<circle cx="596.9" cy="77.4" r="1.5"/>
</g>
<g fill="#0f87fa">
<circle cx="569.3" cy="79.4" r="1.5"/>
</g>
<g fill="#ad22bd">
<circle cx="603.1" cy="73.1" r="1.5"/>
</g>
<g fill="#4a6ff0">
<circle cx="592.4" cy="75.9" r="1.5"/>
</g>
<g fill="#3c7af5">
<circle cx="571.5" cy="77.8" r="1.5"/>
</g>
<g fill="#0f87fa">
<circle cx="568.6" cy="77.4" r="1.5"/>
</g>
<g fill="#008bfb">
<circle cx="572.0" cy="79.0" r="1.5"/>
</g>
<g fill="#d81196">
<circle cx="616.4" cy="75.9" r="1.5"/>
</g>
<g fill="#0f87fa">
<circle cx="552.0" cy="76.5" r="1.5"/>
<circle cx="580.7" cy="80.5" r="1.5"/>
</g>
<g fill="#3c7af5">
<circle cx="591.5" cy="80.6" r="1.5"/>
</g>
<g fill="#774bde">
<circle cx="597.1" cy="83.1" r="1.5"/>
<circle cx="598.0" cy="77.6" r="1.5"/>
</g>
<g fill="#1e82f8">
<circle cx="594.5" cy="73.0" r="1.5"/>
</g>
<g fill="#0f87fa">
<circle cx="582.3" cy="71.6" r="1.5"/>
</g>
<g fill="#5964ea">
<circle cx="586.0" cy="77.6" r="1.5"/>
</g>
<g fill="#ec0a7d">
<circle cx="608.7" cy="73.5" r="1.5"/>
</g>
<g fill="#008bfb">
<circle cx="580.8" cy="77.7" r="1.5"/>
</g>
<g fill="#774bde">
<circle cx="597.1" cy="70.1" r="1.5"/>
</g>
<g fill="#9a2aca">
<circle cx="599.5" cy="80.3" r="1.5"/>
</g>
<g fill="#e20d8a">
<circle cx="621.4" cy="75.0" r="1.5"/>
</g>
<g fill="#9a2aca">
<circle cx="600.8" cy="81.7" r="1.5"/>
</g>
<g fill="#ff0051">
<circle cx="651.0" cy="76.1" r="1.5"/>
</g>
<g fill="#0f87fa">
<circle cx="572.1" cy="73.4" r="1.5"/>
<circle cx="587.2" cy="80.8" r="1.5"/>
</g>
<g fill="#ec0a7d">
<circle cx="608.3" cy="77.8" r="1.5"/>
</g>
<g fill="#2d7ef6">
<circle cx="580.2" cy="76.2" r="1.5"/>
</g>
<g fill="#6759e5">
<circle cx="592.3" cy="70.3" r="1.5"/>
</g>
<g fill="#f60567">
<circle cx="642.8" cy="76.0" r="1.5"/>
</g>
<g fill="#0f87fa">
<circle cx="561.5" cy="77.7" r="1.5"/>
</g>
<g fill="#9a2aca">
<circle cx="600.3" cy="70.5" r="1.5"/>
</g>
<g fill="#ce14a2">
<circle cx="598.1" cy="75.0" r="1.5"/>
</g>
<g fill="#2d7ef6">
<circle cx="589.4" cy="74.5" r="1.5"/>
</g>
<g fill="#4a6ff0">
<circle cx="565.2" cy="77.8" r="1.5"/>
</g>
<g fill="#2d7ef6">
<circle cx="564.1" cy="74.8" r="1.5"/>
</g>
<g fill="#008bfb">
<circle cx="580.2" cy="71.8" r="1.5"/>
</g>
<g fill="#1e82f8">
<circle cx="566.5" cy="76.2" r="1.5"/>
</g>
<g fill="#c019af">
<circle cx="607.3" cy="77.7" r="1.5"/>
</g>
<g fill="#9a2aca">
<circle cx="602.0" cy="74.4" r="1.5"/>
</g>
<g fill="#3c7af5">
<circle cx="570.3" cy="77.7" r="1.5"/>
</g>
<g fill="#d81196">
<circle cx="615.8" cy="76.4" r="1.5"/>
</g>
<g fill="#3c7af5">
<circle cx="591.3" cy="82.0" r="1.5"/>
</g>
<g fill="#ff0051">
<circle cx="624.8" cy="76.1" r="1.5"/>
</g>
<g fill="#ad22bd">
<circle cx="574.0" cy="76.3" r="1.5"/>
</g>
<g fill="#d81196">
<circle cx="617.8" cy="77.6" r="1.5"/>
</g>
<g fill="#ad22bd">
<circle cx="594.6" cy="80.7" r="1.5"/>
</g>
<g fill="#ff0051">
<circle cx="608.3" cy="74.8" r="1.5"/>
</g>
<g fill="#0f87fa">
<circle cx="583.3" cy="74.9" r="1.5"/>
</g>
<g fill="#9a2aca">
<circle cx="625.6" cy="76.4" r="1.5"/>
</g>
<g fill="#c019af">
<circle cx="606.0" cy="71.6" r="1.5"/>
<circle cx="605.6" cy="80.4" r="1.5"/>
</g>
<g fill="#008bfb">
<circle cx="578.8" cy="80.3" r="1.5"/>
</g>
<g fill="#fa035c">
<circle cx="642.0" cy="76.4" r="1.5"/>
</g>
<g fill="#4a6ff0">
<circle cx="593.3" cy="81.9" r="1.5"/>
</g>
<g fill="#ec0a7d">
<circle cx="608.3" cy="79.2" r="1.5"/>
</g>
<g fill="#0f87fa">
<circle cx="580.1" cy="73.6" r="1.5"/>
</g>
<g fill="#3c7af5">
<circle cx="577.9" cy="79.0" r="1.5"/>
</g>
<g fill="#008bfb">
<circle cx="551.4" cy="76.4" r="1.5"/>
</g>
<g fill="#5964ea">
<circle cx="590.6" cy="73.2" r="1.5"/>
</g>
<g fill="#9a2aca">
<circle cx="599.6" cy="72.0" r="1.5"/>
</g>
<g fill="#ad22bd">
<circle cx="604.4" cy="73.2" r="1.5"/>
</g>
<g fill="#008bfb">
<circle cx="588.3" cy="71.9" r="1.5"/>
<circle cx="559.1" cy="77.3" r="1.5"/>
</g>
<g fill="#4a6ff0">
<circle cx="588.2" cy="80.5" r="1.5"/>
</g>
<g fill="#3c7af5">
<circle cx="591.0" cy="70.1" r="1.5"/>
</g>
<g fill="#ec0a7d">
<circle cx="615.9" cy="74.7" r="1.5"/>
</g>
<g fill="#0f87fa">
<circle cx="587.1" cy="70.4" r="1.5"/>
</g>
<g fill="#5964ea">
<circle cx="592.3" cy="80.5" r="1.5"/>
<circle cx="593.9" cy="73.2" r="1.5"/>
</g>
<g fill="#f10872">
<circle cx="637.2" cy="76.2" r="1.5"/>
</g>
<g fill="#008bfb">
<circle cx="584.4" cy="73.6" r="1.5"/>
</g>
<g fill="#1e82f8">
<circle cx="589.9" cy="76.0" r="1.5"/>
</g>
<g fill="#008bfb">
<circle cx="557.8" cy="76.4" r="1.5"/>
</g>
<g fill="#d81196">
<circle cx="619.2" cy="76.5" r="1.5"/>
</g>
<g fill="#9a2aca">
<circle cx="601.7" cy="73.4" r="1.5"/>
</g>
<g fill="#3c7af5">
<circle cx="565.1" cy="75.9" r="1.5"/>
</g>
<g fill="#0f87fa">
<circle cx="583.5" cy="79.1" r="1.5"/>
</g>
<g fill="#008bfb">
<circle cx="582.2" cy="81.8" r="1.5"/>
</g>
<g fill="#5964ea">
<circle cx="593.6" cy="70.2" r="1.5"/>
</g>
<g fill="#ad22bd">
<circle cx="607.2" cy="74.5" r="1.5"/>
</g>
<g fill="#ce14a2">
<circle cx="614.1" cy="78.0" r="1.5"/>
</g>
<g fill="#0f87fa">
<circle cx="582.1" cy="78.9" r="1.5"/>
</g>
<g fill="#9a2aca">
<circle cx="602.0" cy="71.7" r="1.5"/>
</g>
<g fill="#ec0a7d">
<circle cx="631.4" cy="76.4" r="1.5"/>
</g>
<g fill="#0f87fa">
<circle cx="576.7" cy="73.0" r="1.5"/>
</g>
<g fill="#5964ea">
<circle cx="591.2" cy="75.1" r="1.5"/>
</g>
<g fill="#ce14a2">
<circle cx="595.1" cy="75.0" r="1.5"/>
</g>
<g fill="#ad22bd">
<circle cx="602.7" cy="81.7" r="1.5"/>
</g>
<g fill="#1e82f8">
<circle cx="596.4" cy="75.9" r="1.5"/>
</g>
<g fill="#883bd4">
<circle cx="598.4" cy="76.1" r="1.5"/>
</g>
<g fill="#d81196">
<circle cx="606.7" cy="74.7" r="1.5"/>
</g>
<g fill="#0f87fa">
<circle cx="585.7" cy="81.7" r="1.5"/>
</g>
<g fill="#ad22bd">
<circle cx="602.6" cy="77.8" r="1.5"/>
</g>
<g fill="#008bfb">
<circle cx="553.2" cy="75.9" r="1.5"/>
</g>
<g fill="#d81196">
<circle cx="633.1" cy="75.9" r="1.5"/>
</g>
<g fill="#f60567">
<circle cx="639.8" cy="76.3" r="1.5"/>
</g>
<g fill="#fa035c">
<circle cx="649.9" cy="76.1" r="1.5"/>
</g>
<g fill="#ad22bd">
<circle cx="598.7" cy="73.3" r="1.5"/>
</g>
<g fill="#5964ea">
<circle cx="584.5" cy="71.7" r="1.5"/>
</g>
<g fill="#008bfb">
<circle cx="582.0" cy="70.2" r="1.5"/>
</g>
<g fill="#3c7af5">
<circle cx="590.3" cy="81.7" r="1.5"/>
<circle cx="565.9" cy="77.9" r="1.5"/>
</g>
<g fill="#6759e5">
<circle cx="593.5" cy="71.7" r="1.5"/>
</g>
<g fill="#ad22bd">
<circle cx="604.3" cy="72.0" r="1.5"/>
</g>
<g fill="#9a2aca">
<circle cx="601.5" cy="81.9" r="1.5"/>
</g>
<g fill="#4a6ff0">
<circle cx="578.6" cy="78.0" r="1.5"/>
</g>
<g fill="#2d7ef6">
<circle cx="594.5" cy="72.0" r="1.5"/>
</g>
<g fill="#ec0a7d">
<circle cx="600.4" cy="73.5" r="1.5"/>
</g>
<g fill="#6759e5">
<circle cx="600.9" cy="74.5" r="1.5"/>
</g>
<g fill="#0f87fa">
<circle cx="574.3" cy="73.3" r="1.5"/>
</g>
<g fill="#883bd4">
<circle cx="601.8" cy="76.2" r="1.5"/>
</g>
<g fill="#774bde">
<circle cx="591.8" cy="69.2" r="1.5"/>
</g>
<g fill="#6759e5">
<circle cx="612.3" cy="78.9" r="1.5"/>
</g>
<g fill="#9a2aca">
<circle cx="599.6" cy="82.3" r="1.5"/>
</g>
<g fill="#4a6ff0">
<circle cx="595.9" cy="71.7" r="1.5"/>
</g>
<g fill="#2d7ef6">
<circle cx="591.5" cy="83.2" r="1.5"/>
</g>
<g fill="#0f87fa">
<circle cx="570.3" cy="73.1" r="1.5"/>
</g>
<g fill="#883bd4">
<circle cx="597.3" cy="71.7" r="1.5"/>
</g>
<g fill="#4a6ff0">
<circle cx="617.5" cy="74.8" r="1.5"/>
</g>
<g fill="#774bde">
<circle cx="595.8" cy="73.1" r="1.5"/>
</g>
<g fill="#008bfb">
<circle cx="587.1" cy="78.9" r="1.5"/>
</g>
<g fill="#e20d8a">
<circle cx="630.2" cy="76.2" r="1.5"/>
</g>
<g fill="#0f87fa">
<circle cx="572.0" cy="75.9" r="1.5"/>
</g>
<g fill="#774bde">
<circle cx="572.7" cy="77.4" r="1.5"/>
</g>
<g fill="#1e82f8">
<circle cx="587.6" cy="70.7" r="1.5"/>
</g>
<g fill="#ce14a2">
<circle cx="612.1" cy="77.4" r="1.5"/>
</g>
<g fill="#0f87fa">
<circle cx="578.5" cy="73.6" r="1.5"/>
<circle cx="576.7" cy="77.6" r="1.5"/>
</g>
<g fill="#1e82f8">
<circle cx="586.9" cy="76.3" r="1.5"/>
</g>
<g fill="#008bfb">
<circle cx="583.3" cy="77.9" r="1.5"/>
</g>
<g fill="#f60567">
<circle cx="617.9" cy="76.0" r="1.5"/>
</g>
<g fill="#6759e5">
<circle cx="595.9" cy="77.5" r="1.5"/>
</g>
<g fill="#4a6ff0">
<circle cx="592.7" cy="81.8" r="1.5"/>
</g>
<g fill="#ce14a2">
<circle cx="610.9" cy="76.0" r="1.5"/>
</g>
<g fill="#9a2aca">
<circle cx="596.3" cy="80.8" r="1.5"/>
</g>
<g fill="#d81196">
<circle cx="616.8" cy="74.6" r="1.5"/>
</g>
<g fill="#ce14a2">
<circle cx="609.8" cy="77.9" r="1.5"/>
</g>
<g fill="#008bfb">
<circle cx="588.3" cy="79.4" r="1.5"/>
</g>
<g fill="#e20d8a">
<circle cx="621.5" cy="76.2" r="1.5"/>
</g>
<g fill="#008bfb">
<circle cx="560.5" cy="76.2" r="1.5"/>
</g>
<g fill="#0f87fa">
<circle cx="569.7" cy="76.0" r="1.5"/>
</g>
<g fill="#2d7ef6">
<circle cx="576.4" cy="74.6" r="1.5"/>
</g>
<g fill="#e20d8a">
<circle cx="613.4" cy="78.9" r="1.5"/>
</g>
<g fill="#1e82f8">
<circle cx="594.0" cy="78.0" r="1.5"/>
</g>
<g fill="#0f87fa">
<circle cx="581.1" cy="79.0" r="1.5"/>
</g>
<g fill="#1e82f8">
<circle cx="590.5" cy="79.1" r="1.5"/>
</g>
<g fill="#0f87fa">
<circle cx="570.7" cy="76.1" r="1.5"/>
</g>
<g fill="#008bfb">
<circle cx="562.3" cy="77.4" r="1.5"/>
<circle cx="583.7" cy="73.4" r="1.5"/>
<circle cx="579.8" cy="79.1" r="1.5"/>
</g>
<g fill="#ff0051">
<circle cx="614.3" cy="74.7" r="1.5"/>
</g>
<g fill="#883bd4">
<circle cx="598.2" cy="80.5" r="1.5"/>
</g>
<g fill="#6759e5">
<circle cx="588.8" cy="83.7" r="1.5"/>
</g>
<g fill="#0f87fa">
<circle cx="571.6" cy="74.8" r="1.5"/>
</g>
<g fill="#f10872">
<circle cx="634.2" cy="75.9" r="1.5"/>
</g>
<g fill="#0f87fa">
<circle cx="566.3" cy="75.1" r="1.5"/>
</g>
<g fill="#4a6ff0">
<circle cx="594.7" cy="77.6" r="1.5"/>
</g>
<g fill="#2d7ef6">
<circle cx="575.7" cy="77.5" r="1.5"/>
</g>
<g fill="#5964ea">
<circle cx="593.9" cy="83.4" r="1.5"/>
</g>
<g fill="#0f87fa">
<circle cx="573.2" cy="73.5" r="1.5"/>
</g>
<g fill="#008bfb">
<circle cx="562.3" cy="76.1" r="1.5"/>
</g>
<g fill="#fa035c">
<circle cx="610.0" cy="76.4" r="1.5"/>
</g>
<g fill="#f60567">
<circle cx="613.6" cy="76.3" r="1.5"/>
</g>
<g fill="#e20d8a">
<circle cx="636.1" cy="76.5" r="1.5"/>
</g>
<g fill="#0f87fa">
<circle cx="590.2" cy="70.1" r="1.5"/>
<circle cx="584.1" cy="80.4" r="1.5"/>
</g>
<g fill="#3c7af5">
<circle cx="590.3" cy="72.0" r="1.5"/>
</g>
<g fill="#ce14a2">
<circle cx="652.3" cy="76.3" r="1.5"/>
<circle cx="612.4" cy="75.1" r="1.5"/>
</g>
<g fill="#f60567">
<circle cx="619.1" cy="75.0" r="1.5"/>
</g>
<g fill="#ff0051">
<circle cx="609.8" cy="75.1" r="1.5"/>
</g>
<g fill="#2d7ef6">
<circle cx="589.4" cy="72.1" r="1.5"/>
</g>
<g fill="#008bfb">
<circle cx="576.8" cy="79.2" r="1.5"/>
</g>
<g fill="#ec0a7d">
<circle cx="609.8" cy="73.3" r="1.5"/>
</g>
<g fill="#fa035c">
<circle cx="649.1" cy="76.2" r="1.5"/>
</g>
<g fill="#0f87fa">
<circle cx="564.8" cy="74.9" r="1.5"/>
</g>
<g fill="#d81196">
<circle cx="623.4" cy="76.1" r="1.5"/>
</g>
<g fill="#1e82f8">
<circle cx="580.1" cy="77.5" r="1.5"/>
</g>
<g fill="#5964ea">
<circle cx="594.6" cy="79.2" r="1.5"/>
</g>
<g fill="#008bfb">
<circle cx="568.7" cy="76.4" r="1.5"/>
</g>
<g fill="#774bde">
<circle cx="581.4" cy="76.2" r="1.5"/>
</g>
<g fill="#008bfb">
<circle cx="568.1" cy="74.9" r="1.5"/>
<circle cx="585.3" cy="74.5" r="1.5"/>
</g>
<g fill="#c019af">
<circle cx="604.9" cy="70.4" r="1.5"/>
</g>
<g fill="#0f87fa">
<circle cx="563.5" cy="76.2" r="1.5"/>
</g>
<g fill="#e20d8a">
<circle cx="609.0" cy="72.1" r="1.5"/>
</g>
<g fill="#ad22bd">
<circle cx="604.0" cy="76.4" r="1.5"/>
</g>
<g fill="#3c7af5">
<circle cx="592.2" cy="83.3" r="1.5"/>
</g>
<g fill="#5964ea">
<circle cx="596.8" cy="76.1" r="1.5"/>
</g>
<g fill="#2d7ef6">
<circle cx="589.3" cy="73.3" r="1.5"/>
<circle cx="593.4" cy="79.1" r="1.5"/>
</g>
<g fill="#ce14a2">
<circle cx="613.5" cy="77.6" r="1.5"/>
</g>
<g fill="#c019af">
<circle cx="605.1" cy="79.1" r="1.5"/>
</g>
<g fill="#5964ea">
<circle cx="588.1" cy="76.4" r="1.5"/>
</g>
<g fill="#3c7af5">
<circle cx="582.3" cy="76.4" r="1.5"/>
</g>
<g fill="#9a2aca">
<circle cx="599.5" cy="73.0" r="1.5"/>
</g>
<g fill="#6759e5">
<circle cx="595.0" cy="82.2" r="1.5"/>
</g>
<g fill="#c019af">
<circle cx="615.5" cy="77.6" r="1.5"/>
</g>
<g fill="#ff0051">
<circle cx="619.9" cy="75.0" r="1.5"/>
</g>
<g fill="#0f87fa">
<circle cx="576.6" cy="76.0" r="1.5"/>
</g>
<g fill="#9a2aca">
<circle cx="606.3" cy="75.9" r="1.5"/>
</g>
<g fill="#e20d8a">
<circle cx="622.1" cy="75.1" r="1.5"/>
</g>
<g fill="#008bfb">
<circle cx="570.8" cy="74.5" r="1.5"/>
</g>
<g fill="#1e82f8">
<circle cx="587.2" cy="78.0" r="1.5"/>
</g>
<g fill="#0f87fa">
<circle cx="576.6" cy="71.8" r="1.5"/>
</g>
<g fill="#883bd4">
<circle cx="597.5" cy="79.0" r="1.5"/>
</g>
<g fill="#5964ea">
<circle cx="596.0" cy="79.3" r="1.5"/>
</g>
<g fill="#c019af">
<circle cx="635.0" cy="76.5" r="1.5"/>
</g>
<g fill="#2d7ef6">
<circle cx="600.8" cy="83.3" r="1.5"/>
</g>
<g fill="#774bde">
<circle cx="596.3" cy="83.7" r="1.5"/>
</g>
<g fill="#9a2aca">
<circle cx="599.6" cy="70.5" r="1.5"/>
</g>
<g fill="#1e82f8">
<circle cx="584.1" cy="79.2" r="1.5"/>
</g>
<g fill="#ec0a7d">
<circle cx="627.9" cy="76.1" r="1.5"/>
</g>
<g fill="#3c7af5">
<circle cx="592.4" cy="79.0" r="1.5"/>
</g>
<g fill="#1e82f8">
<circle cx="587.0" cy="75.0" r="1.5"/>
</g>
<g fill="#5964ea">
<circle cx="573.0" cy="75.9" r="1.5"/>
</g>
<g fill="#0f87fa">
<circle cx="573.0" cy="80.5" r="1.5"/>
</g>
<g fill="#008bfb">
<circle cx="584.4" cy="74.6" r="1.5"/>
</g>
<g fill="#c019af">
<circle cx="621.3" cy="77.7" r="1.5"/>
</g>
<g fill="#ce14a2">
<circle cx="619.1" cy="77.9" r="1.5"/>
</g>
<g fill="#5964ea">
<circle cx="560.2" cy="74.8" r="1.5"/>
</g>
<g fill="#ff0051">
<circle cx="647.5" cy="76.1" r="1.5"/>
</g>
<g fill="#008bfb">
<circle cx="585.4" cy="80.3" r="1.5"/>
</g>
<g fill="#774bde">
<circle cx="596.9" cy="67.4" r="1.5"/>
</g>
<g fill="#c019af">
<circle cx="604.4" cy="80.5" r="1.5"/>
</g>
<g fill="#9a2aca">
<circle cx="607.7" cy="80.6" r="1.5"/>
</g>
<g fill="#883bd4">
<circle cx="590.1" cy="77.8" r="1.5"/>
</g>
<g fill="#1e82f8">
<circle cx="561.2" cy="74.5" r="1.5"/>
</g>
<g fill="#883bd4">
<circle cx="599.1" cy="69.1" r="1.5"/>
</g>
<g fill="#008bfb">
<circle cx="559.1" cy="76.1" r="1.5"/>
</g>
<g fill="#774bde">
<circle cx="605.1" cy="73.3" r="1.5"/>
</g>
<g fill="#6759e5">
<circle cx="589.0" cy="76.2" r="1.5"/>
</g>
<g fill="#0f87fa">
<circle cx="582.4" cy="77.5" r="1.5"/>
<circle cx="579.1" cy="79.1" r="1.5"/>
</g>
<g fill="#ad22bd">
<circle cx="603.1" cy="76.3" r="1.5"/>
</g>
<g fill="#ce14a2">
<circle cx="614.5" cy="76.4" r="1.5"/>
</g>
<g fill="#9a2aca">
<circle cx="620.5" cy="77.7" r="1.5"/>
<circle cx="601.9" cy="79.1" r="1.5"/>
<circle cx="601.0" cy="77.4" r="1.5"/>
</g>
<g fill="#2d7ef6">
<circle cx="593.5" cy="76.2" r="1.5"/>
</g>
<g fill="#3c7af5">
<circle cx="591.8" cy="76.1" r="1.5"/>
</g>
<g fill="#0f87fa">
<circle cx="577.9" cy="77.6" r="1.5"/>
</g>
<g fill="#c019af">
<circle cx="606.2" cy="73.5" r="1.5"/>
</g>
<g fill="#6759e5">
<circle cx="598.3" cy="82.1" r="1.5"/>
</g>
<g fill="#4a6ff0">
<circle cx="592.4" cy="77.6" r="1.5"/>
</g>
<g fill="#5964ea">
<circle cx="581.4" cy="71.6" r="1.5"/>
</g>
<g fill="#774bde">
<circle cx="597.4" cy="82.2" r="1.5"/>
</g>
<g fill="#0f87fa">
<circle cx="572.7" cy="71.7" r="1.5"/>
</g>
<g fill="#ce14a2">
<circle cx="624.8" cy="77.5" r="1.5"/>
<circle cx="610.1" cy="79.3" r="1.5"/>
</g>
<g fill="#6759e5">
<circle cx="577.4" cy="74.9" r="1.5"/>
</g>
<g fill="#f10872">
<circle cx="638.3" cy="76.2" r="1.5"/>
</g>
<g fill="#4a6ff0">
<circle cx="597.1" cy="68.9" r="1.5"/>
</g>
<g fill="#6759e5">
<circle cx="595.0" cy="76.5" r="1.5"/>
</g>
<g fill="#774bde">
<circle cx="597.3" cy="73.0" r="1.5"/>
</g>
<g fill="#ad22bd">
<circle cx="602.7" cy="78.8" r="1.5"/>
</g>
<g fill="#1e82f8">
<circle cx="554.3" cy="76.2" r="1.5"/>
</g>
<g fill="#008bfb">
<circle cx="583.6" cy="80.8" r="1.5"/>
</g>
<g fill="#ec0a7d">
<circle cx="599.1" cy="83.5" r="1.5"/>
</g>
<g fill="#d81196">
<circle cx="605.3" cy="81.9" r="1.5"/>
</g>
<g fill="#4a6ff0">
<circle cx="580.8" cy="73.5" r="1.5"/>
</g>
<g fill="#c019af">
<circle cx="627.3" cy="76.0" r="1.5"/>
<circle cx="605.3" cy="74.5" r="1.5"/>
</g>
<g fill="#008bfb">
<circle cx="586.5" cy="82.1" r="1.5"/>
</g>
<g fill="#0f87fa">
<circle cx="575.2" cy="76.4" r="1.5"/>
</g>
<g fill="#883bd4">
<circle cx="598.1" cy="70.4" r="1.5"/>
</g>
<g fill="#3c7af5">
<circle cx="589.5" cy="79.2" r="1.5"/>
</g>
<g fill="#883bd4">
<circle cx="604.0" cy="77.9" r="1.5"/>
</g>
<g fill="#2d7ef6">
<circle cx="589.4" cy="77.5" r="1.5"/>
</g>
<g fill="#008bfb">
<circle cx="599.3" cy="79.3" r="1.5"/>
</g>
<g fill="#883bd4">
<circle cx="600.3" cy="76.5" r="1.5"/>
</g>
<g fill="#ce14a2">
<circle cx="612.1" cy="73.4" r="1.5"/>
</g>
<g fill="#0f87fa">
<circle cx="569.2" cy="78.0" r="1.5"/>
</g>
<g fill="#6759e5">
<circle cx="600.5" cy="80.9" r="1.5"/>
</g>
<g fill="#ff0051">
<circle cx="658.0" cy="76.2" r="1.5"/>
</g>
<g fill="#fa035c">
<circle cx="661.0" cy="75.8" r="1.5"/>
</g>
<g fill="#ff0051">
<circle cx="664.0" cy="76.1" r="1.5"/>
</g>
<g fill="#fa035c">
<circle cx="667.0" cy="76.0" r="1.5"/>
</g>
<g fill="#ff0051">
<circle cx="672.5" cy="76.3" r="1.5"/>
<circle cx="675.0" cy="76.0" r="1.5"/>
</g>
<g fill="#fa035c">
<circle cx="678.0" cy="75.8" r="1.5"/>
</g>
<g fill="#ff0051">
<circle cx="681.0" cy="76.2" r="1.5"/>
<circle cx="684.0" cy="76.5" r="1.5"/>
</g>
<g fill="#fa035c">
<circle cx="686.0" cy="75.9" r="1.5"/>
</g>
<g fill="#ff0051">
<circle cx="691.0" cy="76.5" r="1.5"/>
<circle cx="694.0" cy="75.7" r="1.5"/>
</g>
<g fill="#fa035c">
<circle cx="697.0" cy="76.2" r="1.5"/>
</g>
<g fill="#ff0051">
<circle cx="700.0" cy="76.2" r="1.5"/>
<circle cx="703.0" cy="75.9" r="1.5"/>
<circle cx="706.0" cy="76.2" r="1.5"/>
</g>
<g fill="#fa035c">
<circle cx="709.0" cy="76.7" r="1.5"/>
</g>
<g fill="#ff0051">
<circle cx="711.0" cy="76.4" r="1.5"/>
<circle cx="717.5" cy="76.2" r="1.5"/>
<circle cx="720.0" cy="76.7" r="1.5"/>
<circle cx="726.0" cy="75.9" r="1.5"/>
<circle cx="732.0" cy="76.5" r="1.5"/>
<circle cx="738.6" cy="76.0" r="1.5"/>
</g>
<g fill="#008bfb">
<circle cx="583.9" cy="100.4" r="1.5"/>
</g>
<g fill="#9a2aca">
<circle cx="600.7" cy="106.2" r="1.5"/>
</g>
<g fill="#774bde">
<circle cx="588.3" cy="100.1" r="1.5"/>
</g>
<g fill="#c019af">
<circle cx="618.3" cy="103.3" r="1.5"/>
</g>
<g fill="#6759e5">
<circle cx="588.1" cy="99.1" r="1.5"/>
</g>
<g fill="#774bde">
<circle cx="646.2" cy="99.2" r="1.5"/>
</g>
<g fill="#fa035c">
<circle cx="638.7" cy="100.3" r="1.5"/>
</g>
<g fill="#e20d8a">
<circle cx="628.3" cy="100.5" r="1.5"/>
</g>
<g fill="#c019af">
<circle cx="623.7" cy="101.9" r="1.5"/>
</g>
<g fill="#883bd4">
<circle cx="596.1" cy="101.6" r="1.5"/>
</g>
<g fill="#008bfb">
<circle cx="593.0" cy="104.6" r="1.5"/>
</g>
<g fill="#774bde">
<circle cx="636.7" cy="101.5" r="1.5"/>
</g>
<g fill="#9a2aca">
<circle cx="602.2" cy="100.1" r="1.5"/>
</g>
<g fill="#3c7af5">
<circle cx="597.7" cy="103.1" r="1.5"/>
</g>
<g fill="#9a2aca">
<circle cx="641.5" cy="101.5" r="1.5"/>
</g>
<g fill="#008bfb">
<circle cx="595.1" cy="94.8" r="1.5"/>
</g>
<g fill="#1e82f8">
<circle cx="619.2" cy="104.8" r="1.5"/>
</g>
<g fill="#008bfb">
<circle cx="596.2" cy="103.5" r="1.5"/>
</g>
<g fill="#c019af">
<circle cx="642.3" cy="100.4" r="1.5"/>
</g>
<g fill="#6759e5">
<circle cx="588.1" cy="95.6" r="1.5"/>
</g>
<g fill="#c019af">
<circle cx="618.6" cy="96.2" r="1.5"/>
</g>
<g fill="#008bfb">
<circle cx="578.1" cy="101.8" r="1.5"/>
<circle cx="564.6" cy="100.3" r="1.5"/>
</g>
<g fill="#f60567">
<circle cx="634.6" cy="98.9" r="1.5"/>
</g>
<g fill="#ff0051">
<circle cx="582.4" cy="100.3" r="1.5"/>
</g>
<g fill="#5964ea">
<circle cx="604.6" cy="101.5" r="1.5"/>
</g>
<g fill="#008bfb">
<circle cx="567.4" cy="100.3" r="1.5"/>
</g>
<g fill="#ce14a2">
<circle cx="619.5" cy="97.6" r="1.5"/>
<circle cx="608.9" cy="93.1" r="1.5"/>
</g>
<g fill="#4a6ff0">
<circle cx="578.3" cy="104.3" r="1.5"/>
</g>
<g fill="#2d7ef6">
<circle cx="568.9" cy="101.6" r="1.5"/>
</g>
<g fill="#ad22bd">
<circle cx="600.9" cy="98.6" r="1.5"/>
</g>
<g fill="#883bd4">
<circle cx="605.3" cy="100.3" r="1.5"/>
</g>
<g fill="#008bfb">
<circle cx="558.3" cy="100.3" r="1.5"/>
</g>
<g fill="#0f87fa">
<circle cx="583.4" cy="103.0" r="1.5"/>
</g>
<g fill="#ce14a2">
<circle cx="607.9" cy="100.4" r="1.5"/>
</g>
<g fill="#008bfb">
<circle cx="589.5" cy="103.0" r="1.5"/>
</g>
<g fill="#3c7af5">
<circle cx="567.8" cy="101.5" r="1.5"/>
</g>
<g fill="#1e82f8">
<circle cx="581.7" cy="102.0" r="1.5"/>
</g>
<g fill="#ff0051">
<circle cx="600.7" cy="97.7" r="1.5"/>
</g>
<g fill="#883bd4">
<circle cx="611.2" cy="103.5" r="1.5"/>
</g>
<g fill="#1e82f8">
<circle cx="590.4" cy="100.0" r="1.5"/>
</g>
<g fill="#774bde">
<circle cx="594.4" cy="102.1" r="1.5"/>
</g>
<g fill="#ff0051">
<circle cx="603.7" cy="95.7" r="1.5"/>
</g>
<g fill="#4a6ff0">
<circle cx="574.2" cy="96.3" r="1.5"/>
</g>
<g fill="#fa035c">
<circle cx="624.2" cy="100.0" r="1.5"/>
</g>
<g fill="#9a2aca">
<circle cx="650.4" cy="100.2" r="1.5"/>
</g>
<g fill="#5964ea">
<circle cx="589.9" cy="101.5" r="1.5"/>
<circle cx="586.2" cy="104.3" r="1.5"/>
</g>
<g fill="#4a6ff0">
<circle cx="574.8" cy="103.2" r="1.5"/>
</g>
<g fill="#c019af">
<circle cx="624.2" cy="99.1" r="1.5"/>
<circle cx="612.5" cy="102.0" r="1.5"/>
</g>
<g fill="#ad22bd">
<circle cx="603.6" cy="106.2" r="1.5"/>
</g>
<g fill="#c019af">
<circle cx="615.8" cy="101.5" r="1.5"/>
</g>
<g fill="#d81196">
<circle cx="615.1" cy="105.0" r="1.5"/>
</g>
<g fill="#c019af">
<circle cx="617.2" cy="101.5" r="1.5"/>
</g>
<g fill="#f10872">
<circle cx="640.2" cy="100.5" r="1.5"/>
</g>
<g fill="#774bde">
<circle cx="612.7" cy="100.0" r="1.5"/>
</g>
<g fill="#ad22bd">
<circle cx="607.7" cy="106.1" r="1.5"/>
<circle cx="603.3" cy="98.7" r="1.5"/>
</g>
<g fill="#ce14a2">
<circle cx="577.7" cy="94.2" r="1.5"/>
</g>
<g fill="#9a2aca">
<circle cx="597.8" cy="105.8" r="1.5"/>
</g>
<g fill="#883bd4">
<circle cx="572.1" cy="98.8" r="1.5"/>
</g>
<g fill="#ad22bd">
<circle cx="630.7" cy="97.7" r="1.5"/>
</g>
<g fill="#6759e5">
<circle cx="646.9" cy="100.1" r="1.5"/>
</g>
<g fill="#774bde">
<circle cx="580.6" cy="103.1" r="1.5"/>
</g>
<g fill="#ce14a2">
<circle cx="611.3" cy="95.8" r="1.5"/>
</g>
<g fill="#ad22bd">
<circle cx="588.2" cy="97.7" r="1.5"/>
</g>
<g fill="#c019af">
<circle cx="585.0" cy="103.1" r="1.5"/>
</g>
<g fill="#774bde">
<circle cx="616.0" cy="103.2" r="1.5"/>
</g>
<g fill="#008bfb">
<circle cx="588.4" cy="94.3" r="1.5"/>
</g>
<g fill="#3c7af5">
<circle cx="568.9" cy="97.2" r="1.5"/>
</g>
<g fill="#ff0051">
<circle cx="633.6" cy="102.1" r="1.5"/>
</g>
<g fill="#883bd4">
<circle cx="596.3" cy="104.5" r="1.5"/>
</g>
<g fill="#008bfb">
<circle cx="608.8" cy="98.9" r="1.5"/>
</g>
<g fill="#d81196">
<circle cx="576.9" cy="99.2" r="1.5"/>
</g>
<g fill="#3c7af5">
<circle cx="587.5" cy="101.8" r="1.5"/>
</g>
<g fill="#c019af">
<circle cx="611.6" cy="99.0" r="1.5"/>
</g>
<g fill="#ff0051">
<circle cx="577.6" cy="95.8" r="1.5"/>
</g>
<g fill="#ec0a7d">
<circle cx="613.9" cy="104.7" r="1.5"/>
</g>
<g fill="#4a6ff0">
<circle cx="576.9" cy="106.1" r="1.5"/>
</g>
<g fill="#774bde">
<circle cx="592.9" cy="100.6" r="1.5"/>
</g>
<g fill="#c019af">
<circle cx="623.7" cy="95.7" r="1.5"/>
</g>
<g fill="#5964ea">
<circle cx="566.8" cy="101.9" r="1.5"/>
<circle cx="582.6" cy="102.0" r="1.5"/>
</g>
<g fill="#ce14a2">
<circle cx="607.8" cy="95.8" r="1.5"/>
</g>
<g fill="#6759e5">
<circle cx="565.2" cy="100.6" r="1.5"/>
</g>
<g fill="#c019af">
<circle cx="605.8" cy="102.0" r="1.5"/>
</g>
<g fill="#4a6ff0">
<circle cx="575.6" cy="100.0" r="1.5"/>
</g>
<g fill="#c019af">
<circle cx="624.1" cy="97.1" r="1.5"/>
</g>
<g fill="#008bfb">
<circle cx="600.8" cy="105.0" r="1.5"/>
</g>
<g fill="#ad22bd">
<circle cx="576.1" cy="97.6" r="1.5"/>
</g>
<g fill="#774bde">
<circle cx="594.1" cy="103.3" r="1.5"/>
</g>
<g fill="#c019af">
<circle cx="597.2" cy="94.2" r="1.5"/>
</g>
<g fill="#3c7af5">
<circle cx="632.9" cy="100.1" r="1.5"/>
</g>
<g fill="#ad22bd">
<circle cx="629.8" cy="101.8" r="1.5"/>
</g>
<g fill="#0f87fa">
<circle cx="629.4" cy="98.6" r="1.5"/>
</g>
<g fill="#6759e5">
<circle cx="591.6" cy="100.6" r="1.5"/>
</g>
<g fill="#c019af">
<circle cx="611.0" cy="102.0" r="1.5"/>
</g>
<g fill="#ce14a2">
<circle cx="604.5" cy="102.9" r="1.5"/>
</g>
<g fill="#6759e5">
<circle cx="589.8" cy="97.4" r="1.5"/>
</g>
<g fill="#c019af">
<circle cx="623.2" cy="99.0" r="1.5"/>
<circle cx="614.6" cy="97.7" r="1.5"/>
</g>
<g fill="#4a6ff0">
<circle cx="575.8" cy="103.1" r="1.5"/>
<circle cx="573.5" cy="102.9" r="1.5"/>
</g>
<g fill="#ff0051">
<circle cx="603.1" cy="94.6" r="1.5"/>
</g>
<g fill="#2d7ef6">
<circle cx="639.2" cy="98.6" r="1.5"/>
</g>
<g fill="#3c7af5">
<circle cx="609.9" cy="106.2" r="1.5"/>
</g>
<g fill="#f60567">
<circle cx="591.4" cy="103.5" r="1.5"/>
</g>
<g fill="#f10872">
<circle cx="581.8" cy="96.1" r="1.5"/>
</g>
<g fill="#008bfb">
<circle cx="590.5" cy="96.0" r="1.5"/>
</g>
<g fill="#ad22bd">
<circle cx="586.1" cy="98.8" r="1.5"/>
</g>
<g fill="#c019af">
<circle cx="612.5" cy="106.3" r="1.5"/>
</g>
<g fill="#9a2aca">
<circle cx="603.4" cy="103.4" r="1.5"/>
</g>
<g fill="#ad22bd">
<circle cx="604.5" cy="94.4" r="1.5"/>
</g>
<g fill="#008bfb">
<circle cx="615.2" cy="99.0" r="1.5"/>
</g>
<g fill="#3c7af5">
<circle cx="568.8" cy="102.9" r="1.5"/>
</g>
<g fill="#6759e5">
<circle cx="648.3" cy="100.0" r="1.5"/>
<circle cx="638.1" cy="99.0" r="1.5"/>
</g>
<g fill="#9a2aca">
<circle cx="598.4" cy="97.6" r="1.5"/>
<circle cx="576.9" cy="103.4" r="1.5"/>
</g>
<g fill="#883bd4">
<circle cx="604.6" cy="97.2" r="1.5"/>
</g>
<g fill="#008bfb">
<circle cx="585.8" cy="97.1" r="1.5"/>
</g>
<g fill="#9a2aca">
<circle cx="582.9" cy="96.0" r="1.5"/>
</g>
<g fill="#3c7af5">
<circle cx="618.3" cy="97.7" r="1.5"/>
</g>
<g fill="#4a6ff0">
<circle cx="576.5" cy="104.8" r="1.5"/>
</g>
<g fill="#c019af">
<circle cx="598.9" cy="100.2" r="1.5"/>
</g>
<g fill="#ad22bd">
<circle cx="605.8" cy="106.2" r="1.5"/>
</g>
<g fill="#6759e5">
<circle cx="580.2" cy="94.2" r="1.5"/>
</g>
<g fill="#c019af">
<circle cx="612.5" cy="97.1" r="1.5"/>
<circle cx="593.0" cy="96.0" r="1.5"/>
</g>
<g fill="#4a6ff0">
<circle cx="573.5" cy="99.1" r="1.5"/>
</g>
<g fill="#ce14a2">
<circle cx="586.9" cy="97.5" r="1.5"/>
</g>
<g fill="#6759e5">
<circle cx="589.8" cy="104.6" r="1.5"/>
</g>
<g fill="#ec0a7d">
<circle cx="632.4" cy="99.1" r="1.5"/>
</g>
<g fill="#6759e5">
<circle cx="586.8" cy="100.6" r="1.5"/>
</g>
<g fill="#c019af">
<circle cx="626.7" cy="103.5" r="1.5"/>
</g>
<g fill="#ad22bd">
<circle cx="609.0" cy="101.8" r="1.5"/>
</g>
<g fill="#ff0051">
<circle cx="599.6" cy="97.1" r="1.5"/>
</g>
<g fill="#774bde">
<circle cx="603.1" cy="97.3" r="1.5"/>
</g>
<g fill="#c019af">
<circle cx="620.6" cy="99.0" r="1.5"/>
</g>
<g fill="#ad22bd">
<circle cx="608.2" cy="102.9" r="1.5"/>
<circle cx="637.0" cy="98.8" r="1.5"/>
</g>
<g fill="#0f87fa">
<circle cx="641.1" cy="99.0" r="1.5"/>
</g>
<g fill="#4a6ff0">
<circle cx="572.4" cy="101.7" r="1.5"/>
</g>
<g fill="#ff0051">
<circle cx="600.8" cy="103.4" r="1.5"/>
</g>
<g fill="#1e82f8">
<circle cx="581.7" cy="98.8" r="1.5"/>
</g>
<g fill="#9a2aca">
<circle cx="599.8" cy="103.1" r="1.5"/>
</g>
<g fill="#2d7ef6">
<circle cx="588.2" cy="101.4" r="1.5"/>
</g>
<g fill="#5964ea">
<circle cx="580.2" cy="106.3" r="1.5"/>
</g>
<g fill="#ce14a2">
<circle cx="624.8" cy="103.2" r="1.5"/>
</g>
<g fill="#c019af">
<circle cx="613.3" cy="97.3" r="1.5"/>
<circle cx="582.8" cy="103.4" r="1.5"/>
<circle cx="613.4" cy="101.6" r="1.5"/>
</g>
<g fill="#ad22bd">
<circle cx="610.1" cy="102.9" r="1.5"/>
</g>
<g fill="#c019af">
<circle cx="606.6" cy="97.5" r="1.5"/>
</g>
<g fill="#5964ea">
<circle cx="581.2" cy="103.1" r="1.5"/>
<circle cx="584.9" cy="97.4" r="1.5"/>
</g>
<g fill="#2d7ef6">
<circle cx="577.6" cy="100.2" r="1.5"/>
</g>
<g fill="#3c7af5">
<circle cx="583.7" cy="97.3" r="1.5"/>
<circle cx="568.6" cy="100.0" r="1.5"/>
</g>
<g fill="#883bd4">
<circle cx="595.3" cy="95.9" r="1.5"/>
</g>
<g fill="#f60567">
<circle cx="611.3" cy="97.1" r="1.5"/>
</g>
<g fill="#9a2aca">
<circle cx="636.5" cy="100.2" r="1.5"/>
</g>
<g fill="#008bfb">
<circle cx="602.5" cy="105.9" r="1.5"/>
</g>
<g fill="#c019af">
<circle cx="615.6" cy="100.2" r="1.5"/>
<circle cx="609.4" cy="96.1" r="1.5"/>
</g>
<g fill="#1e82f8">
<circle cx="591.5" cy="95.9" r="1.5"/>
</g>
<g fill="#ec0a7d">
<circle cx="585.2" cy="99.1" r="1.5"/>
</g>
<g fill="#883bd4">
<circle cx="575.9" cy="96.1" r="1.5"/>
</g>
<g fill="#c019af">
<circle cx="623.1" cy="97.2" r="1.5"/>
</g>
<g fill="#883bd4">
<circle cx="595.3" cy="104.6" r="1.5"/>
</g>
<g fill="#ce14a2">
<circle cx="610.4" cy="101.7" r="1.5"/>
</g>
<g fill="#774bde">
<circle cx="614.8" cy="100.3" r="1.5"/>
</g>
<g fill="#c019af">
<circle cx="620.9" cy="95.9" r="1.5"/>
</g>
<g fill="#f60567">
<circle cx="605.4" cy="97.1" r="1.5"/>
</g>
<g fill="#6759e5">
<circle cx="602.1" cy="93.2" r="1.5"/>
</g>
<g fill="#883bd4">
<circle cx="597.6" cy="97.7" r="1.5"/>
</g>
<g fill="#0f87fa">
<circle cx="597.3" cy="99.1" r="1.5"/>
</g>
<g fill="#3c7af5">
<circle cx="568.4" cy="98.8" r="1.5"/>
</g>
<g fill="#008bfb">
<circle cx="579.4" cy="97.2" r="1.5"/>
</g>
<g fill="#e20d8a">
<circle cx="554.8" cy="100.1" r="1.5"/>
</g>
<g fill="#f10872">
<circle cx="580.6" cy="96.0" r="1.5"/>
</g>
<g fill="#008bfb">
<circle cx="580.3" cy="97.4" r="1.5"/>
</g>
<g fill="#4a6ff0">
<circle cx="579.2" cy="100.2" r="1.5"/>
</g>
<g fill="#774bde">
<circle cx="570.2" cy="99.0" r="1.5"/>
</g>
<g fill="#c019af">
<circle cx="616.8" cy="100.3" r="1.5"/>
</g>
<g fill="#9a2aca">
<circle cx="626.6" cy="98.6" r="1.5"/>
</g>
<g fill="#ad22bd">
<circle cx="607.1" cy="95.7" r="1.5"/>
</g>
<g fill="#1e82f8">
<circle cx="617.1" cy="104.7" r="1.5"/>
</g>
<g fill="#3c7af5">
<circle cx="566.3" cy="98.6" r="1.5"/>
</g>
<g fill="#774bde">
<circle cx="627.8" cy="100.5" r="1.5"/>
</g>
<g fill="#883bd4">
<circle cx="596.7" cy="95.8" r="1.5"/>
</g>
<g fill="#5964ea">
<circle cx="649.0" cy="100.2" r="1.5"/>
</g>
<g fill="#774bde">
<circle cx="610.4" cy="104.4" r="1.5"/>
</g>
<g fill="#ad22bd">
<circle cx="612.2" cy="98.7" r="1.5"/>
</g>
<g fill="#f10872">
<circle cx="604.7" cy="96.2" r="1.5"/>
</g>
<g fill="#2d7ef6">
<circle cx="560.5" cy="100.4" r="1.5"/>
</g>
<g fill="#fa035c">
<circle cx="572.1" cy="100.6" r="1.5"/>
</g>
<g fill="#ce14a2">
<circle cx="592.0" cy="105.0" r="1.5"/>
<circle cx="587.6" cy="94.8" r="1.5"/>
</g>
<g fill="#fa035c">
<circle cx="605.3" cy="93.3" r="1.5"/>
</g>
<g fill="#883bd4">
<circle cx="619.6" cy="102.9" r="1.5"/>
</g>
<g fill="#ff0051">
<circle cx="596.7" cy="97.5" r="1.5"/>
</g>
<g fill="#9a2aca">
<circle cx="585.2" cy="94.8" r="1.5"/>
</g>
<g fill="#883bd4">
<circle cx="637.6" cy="100.5" r="1.5"/>
</g>
<g fill="#d81196">
<circle cx="594.9" cy="101.6" r="1.5"/>
</g>
<g fill="#1e82f8">
<circle cx="596.3" cy="100.0" r="1.5"/>
</g>
<g fill="#9a2aca">
<circle cx="597.2" cy="96.1" r="1.5"/>
</g>
<g fill="#3c7af5">
<circle cx="623.0" cy="101.8" r="1.5"/>
</g>
<g fill="#d81196">
<circle cx="604.3" cy="105.8" r="1.5"/>
</g>
<g fill="#c019af">
<circle cx="621.4" cy="103.5" r="1.5"/>
</g>
<g fill="#774bde">
<circle cx="645.5" cy="100.6" r="1.5"/>
</g>
<g fill="#1e82f8">
<circle cx="572.0" cy="97.7" r="1.5"/>
</g>
<g fill="#4a6ff0">
<circle cx="571.5" cy="101.9" r="1.5"/>
</g>
<g fill="#008bfb">
<circle cx="587.5" cy="99.0" r="1.5"/>
</g>
<g fill="#2d7ef6">
<circle cx="616.0" cy="96.3" r="1.5"/>
</g>
<g fill="#e20d8a">
<circle cx="584.7" cy="102.1" r="1.5"/>
</g>
<g fill="#f10872">
<circle cx="620.7" cy="100.2" r="1.5"/>
</g>
<g fill="#774bde">
<circle cx="645.1" cy="101.7" r="1.5"/>
</g>
<g fill="#3c7af5">
<circle cx="561.5" cy="99.1" r="1.5"/>
</g>
<g fill="#883bd4">
<circle cx="595.5" cy="100.0" r="1.5"/>
</g>
<g fill="#c019af">
<circle cx="615.7" cy="98.9" r="1.5"/>
</g>
<g fill="#9a2aca">
<circle cx="588.0" cy="102.9" r="1.5"/>
<circle cx="633.6" cy="98.8" r="1.5"/>
</g>
<g fill="#774bde">
<circle cx="613.5" cy="99.2" r="1.5"/>
</g>
<g fill="#ad22bd">
<circle cx="607.1" cy="94.8" r="1.5"/>
</g>
<g fill="#f10872">
<circle cx="602.0" cy="102.0" r="1.5"/>
</g>
<g fill="#c019af">
<circle cx="622.6" cy="100.0" r="1.5"/>
</g>
<g fill="#008bfb">
<circle cx="587.3" cy="105.9" r="1.5"/>
</g>
<g fill="#2d7ef6">
<circle cx="573.7" cy="102.1" r="1.5"/>
</g>
<g fill="#5964ea">
<circle cx="582.6" cy="98.9" r="1.5"/>
</g>
<g fill="#008bfb">
<circle cx="576.7" cy="97.2" r="1.5"/>
</g>
<g fill="#e20d8a">
<circle cx="582.7" cy="94.6" r="1.5"/>
</g>
<g fill="#008bfb">
<circle cx="570.7" cy="100.4" r="1.5"/>
</g>
<g fill="#774bde">
<circle cx="583.8" cy="96.3" r="1.5"/>
</g>
<g fill="#ec0a7d">
<circle cx="572.2" cy="103.3" r="1.5"/>
</g>
<g fill="#5964ea">
<circle cx="634.5" cy="100.3" r="1.5"/>
<circle cx="582.4" cy="97.1" r="1.5"/>
</g>
<g fill="#9a2aca">
<circle cx="564.1" cy="98.8" r="1.5"/>
</g>
<g fill="#883bd4">
<circle cx="591.0" cy="98.6" r="1.5"/>
</g>
<g fill="#c019af">
<circle cx="625.1" cy="100.1" r="1.5"/>
</g>
<g fill="#ff0051">
<circle cx="624.9" cy="102.0" r="1.5"/>
</g>
<g fill="#008bfb">
<circle cx="587.3" cy="95.6" r="1.5"/>
</g>
<g fill="#774bde">
<circle cx="645.7" cy="101.4" r="1.5"/>
</g>
<g fill="#9a2aca">
<circle cx="635.5" cy="101.7" r="1.5"/>
</g>
<g fill="#4a6ff0">
<circle cx="605.8" cy="99.0" r="1.5"/>
</g>
<g fill="#2d7ef6">
<circle cx="582.4" cy="104.8" r="1.5"/>
</g>
<g fill="#c019af">
<circle cx="611.2" cy="100.5" r="1.5"/>
</g>
<g fill="#e20d8a">
<circle cx="612.2" cy="94.4" r="1.5"/>
</g>
<g fill="#c019af">
<circle cx="613.3" cy="103.0" r="1.5"/>
<circle cx="609.2" cy="97.6" r="1.5"/>
</g>
<g fill="#774bde">
<circle cx="592.8" cy="101.7" r="1.5"/>
</g>
<g fill="#008bfb">
<circle cx="576.0" cy="101.8" r="1.5"/>
</g>
<g fill="#883bd4">
<circle cx="595.4" cy="106.3" r="1.5"/>
</g>
<g fill="#9a2aca">
<circle cx="605.3" cy="96.0" r="1.5"/>
</g>
<g fill="#883bd4">
<circle cx="634.6" cy="102.0" r="1.5"/>
</g>
<g fill="#008bfb">
<circle cx="575.4" cy="104.7" r="1.5"/>
</g>
<g fill="#883bd4">
<circle cx="597.3" cy="101.6" r="1.5"/>
</g>
<g fill="#ad22bd">
<circle cx="607.8" cy="98.7" r="1.5"/>
</g>
<g fill="#f10872">
<circle cx="604.7" cy="104.4" r="1.5"/>
</g>
<g fill="#5964ea">
<circle cx="604.7" cy="98.8" r="1.5"/>
<circle cx="580.6" cy="100.3" r="1.5"/>
</g>
<g fill="#d81196">
<circle cx="607.8" cy="97.2" r="1.5"/>
</g>
<g fill="#4a6ff0">
<circle cx="557.4" cy="100.2" r="1.5"/>
</g>
<g fill="#ad22bd">
<circle cx="608.3" cy="94.8" r="1.5"/>
</g>
<g fill="#c019af">
<circle cx="614.6" cy="103.4" r="1.5"/>
</g>
<g fill="#f60567">
<circle cx="563.2" cy="101.4" r="1.5"/>
</g>
<g fill="#883bd4">
<circle cx="596.2" cy="98.5" r="1.5"/>
</g>
<g fill="#f10872">
<circle cx="614.0" cy="100.6" r="1.5"/>
</g>
<g fill="#774bde">
<circle cx="592.7" cy="98.7" r="1.5"/>
</g>
<g fill="#e20d8a">
<circle cx="625.2" cy="97.6" r="1.5"/>
<circle cx="602.4" cy="99.1" r="1.5"/>
</g>
<g fill="#4a6ff0">
<circle cx="573.2" cy="100.2" r="1.5"/>
</g>
<g fill="#774bde">
<circle cx="643.2" cy="100.4" r="1.5"/>
</g>
<g fill="#6759e5">
<circle cx="647.0" cy="99.2" r="1.5"/>
</g>
<g fill="#ad22bd">
<circle cx="609.3" cy="104.4" r="1.5"/>
</g>
<g fill="#c019af">
<circle cx="621.5" cy="99.0" r="1.5"/>
</g>
<g fill="#ad22bd">
<circle cx="594.2" cy="100.2" r="1.5"/>
</g>
<g fill="#f60567">
<circle cx="617.3" cy="96.0" r="1.5"/>
</g>
<g fill="#008bfb">
<circle cx="578.3" cy="102.9" r="1.5"/>
</g>
<g fill="#c019af">
<circle cx="644.9" cy="99.2" r="1.5"/>
</g>
<g fill="#9a2aca">
<circle cx="626.6" cy="101.5" r="1.5"/>
</g>
<g fill="#774bde">
<circle cx="645.1" cy="100.4" r="1.5"/>
</g>
<g fill="#5964ea">
<circle cx="579.5" cy="98.9" r="1.5"/>
<circle cx="652.8" cy="100.5" r="1.5"/>
</g>
<g fill="#ad22bd">
<circle cx="586.9" cy="103.4" r="1.5"/>
</g>
<g fill="#ff0051">
<circle cx="624.0" cy="104.5" r="1.5"/>
</g>
<g fill="#008bfb">
<circle cx="565.3" cy="99.0" r="1.5"/>
</g>
<g fill="#c019af">
<circle cx="618.5" cy="101.5" r="1.5"/>
</g>
<g fill="#774bde">
<circle cx="642.8" cy="98.7" r="1.5"/>
</g>
<g fill="#5964ea">
<circle cx="583.4" cy="102.1" r="1.5"/>
</g>
<g fill="#6759e5">
<circle cx="590.8" cy="101.8" r="1.5"/>
</g>
<g fill="#fa035c">
<circle cx="574.6" cy="97.4" r="1.5"/>
</g>
<g fill="#c019af">
<circle cx="617.9" cy="104.8" r="1.5"/>
</g>
<g fill="#774bde">
<circle cx="598.7" cy="103.3" r="1.5"/>
</g>
<g fill="#6759e5">
<circle cx="588.0" cy="104.9" r="1.5"/>
</g>
<g fill="#3c7af5">
<circle cx="564.5" cy="101.8" r="1.5"/>
</g>
<g fill="#ff0051">
<circle cx="602.4" cy="94.4" r="1.5"/>
</g>
<g fill="#fa035c">
<circle cx="635.7" cy="100.1" r="1.5"/>
</g>
<g fill="#4a6ff0">
<circle cx="574.8" cy="101.8" r="1.5"/>
</g>
<g fill="#ff0051">
<circle cx="608.1" cy="105.0" r="1.5"/>
</g>
<g fill="#5964ea">
<circle cx="586.2" cy="101.5" r="1.5"/>
</g>
<g fill="#3c7af5">
<circle cx="619.2" cy="96.2" r="1.5"/>
</g>
<g fill="#6759e5">
<circle cx="651.5" cy="100.2" r="1.5"/>
</g>
<g fill="#f60567">
<circle cx="605.6" cy="103.4" r="1.5"/>
</g>
<g fill="#ad22bd">
<circle cx="620.7" cy="101.8" r="1.5"/>
</g>
<g fill="#fa035c">
<circle cx="599.7" cy="102.0" r="1.5"/>
</g>
<g fill="#008bfb">
<circle cx="590.3" cy="97.5" r="1.5"/>
</g>
<g fill="#2d7ef6">
<circle cx="627.7" cy="101.8" r="1.5"/>
</g>
<g fill="#4a6ff0">
<circle cx="618.3" cy="100.6" r="1.5"/>
</g>
<g fill="#3c7af5">
<circle cx="606.6" cy="98.8" r="1.5"/>
</g>
<g fill="#9a2aca">
<circle cx="638.7" cy="101.9" r="1.5"/>
</g>
<g fill="#6759e5">
<circle cx="580.2" cy="98.8" r="1.5"/>
</g>
<g fill="#883bd4">
<circle cx="597.4" cy="100.0" r="1.5"/>
</g>
<g fill="#3c7af5">
<circle cx="561.9" cy="100.3" r="1.5"/>
</g>
<g fill="#9a2aca">
<circle cx="591.5" cy="99.0" r="1.5"/>
</g>
<g fill="#883bd4">
<circle cx="598.3" cy="98.9" r="1.5"/>
</g>
<g fill="#d81196">
<circle cx="593.8" cy="95.9" r="1.5"/>
</g>
<g fill="#c019af">
<circle cx="617.4" cy="97.6" r="1.5"/>
<circle cx="613.8" cy="95.8" r="1.5"/>
</g>
<g fill="#3c7af5">
<circle cx="595.5" cy="102.9" r="1.5"/>
</g>
<g fill="#5964ea">
<circle cx="565.6" cy="101.5" r="1.5"/>
</g>
<g fill="#c019af">
<circle cx="612.3" cy="102.9" r="1.5"/>
</g>
<g fill="#6759e5">
<circle cx="611.1" cy="94.3" r="1.5"/>
</g>
<g fill="#883bd4">
<circle cx="640.1" cy="101.9" r="1.5"/>
</g>
<g fill="#3c7af5">
<circle cx="569.9" cy="102.0" r="1.5"/>
</g>
<g fill="#c019af">
<circle cx="619.4" cy="101.7" r="1.5"/>
<circle cx="585.2" cy="104.6" r="1.5"/>
<circle cx="610.2" cy="95.7" r="1.5"/>
</g>
<g fill="#008bfb">
<circle cx="569.7" cy="100.6" r="1.5"/>
</g>
<g fill="#9a2aca">
<circle cx="599.7" cy="98.7" r="1.5"/>
</g>
<g fill="#4a6ff0">
<circle cx="602.2" cy="97.6" r="1.5"/>
<circle cx="588.4" cy="106.4" r="1.5"/>
</g>
<g fill="#2d7ef6">
<circle cx="594.0" cy="97.2" r="1.5"/>
</g>
<g fill="#4a6ff0">
<circle cx="576.7" cy="101.5" r="1.5"/>
</g>
<g fill="#ce14a2">
<circle cx="579.0" cy="103.3" r="1.5"/>
</g>
<g fill="#fa035c">
<circle cx="576.6" cy="100.2" r="1.5"/>
</g>
<g fill="#6759e5">
<circle cx="603.4" cy="100.6" r="1.5"/>
</g>
<g fill="#5964ea">
<circle cx="579.3" cy="95.8" r="1.5"/>
</g>
<g fill="#c019af">
<circle cx="620.9" cy="97.5" r="1.5"/>
</g>
<g fill="#ff0051">
<circle cx="586.4" cy="103.0" r="1.5"/>
</g>
<g fill="#ce14a2">
<circle cx="611.4" cy="93.2" r="1.5"/>
</g>
<g fill="#f10872">
<circle cx="595.4" cy="97.2" r="1.5"/>
</g>
<g fill="#ff0051">
<circle cx="609.2" cy="94.8" r="1.5"/>
</g>
<g fill="#883bd4">
<circle cx="628.3" cy="99.2" r="1.5"/>
</g>
<g fill="#3c7af5">
<circle cx="621.7" cy="100.4" r="1.5"/>
</g>
<g fill="#ad22bd">
<circle cx="601.4" cy="95.6" r="1.5"/>
</g>
<g fill="#008bfb">
<circle cx="571.2" cy="102.9" r="1.5"/>
</g>
<g fill="#9a2aca">
<circle cx="616.9" cy="99.1" r="1.5"/>
</g>
<g fill="#c019af">
<circle cx="606.5" cy="100.5" r="1.5"/>
</g>
<g fill="#5964ea">
<circle cx="566.5" cy="100.0" r="1.5"/>
</g>
<g fill="#008bfb">
<circle cx="606.7" cy="102.9" r="1.5"/>
</g>
<g fill="#5964ea">
<circle cx="556.0" cy="100.4" r="1.5"/>
</g>
<g fill="#ad22bd">
<circle cx="605.9" cy="104.9" r="1.5"/>
</g>
<g fill="#9a2aca">
<circle cx="635.4" cy="99.1" r="1.5"/>
</g>
<g fill="#6759e5">
<circle cx="586.4" cy="100.6" r="1.5"/>
</g>
<g fill="#5964ea">
<circle cx="580.4" cy="104.7" r="1.5"/>
</g>
<g fill="#c019af">
<circle cx="609.0" cy="107.6" r="1.5"/>
</g>
<g fill="#008bfb">
<circle cx="589.4" cy="96.0" r="1.5"/>
</g>
<g fill="#2d7ef6">
<circle cx="611.6" cy="106.2" r="1.5"/>
<circle cx="587.3" cy="104.7" r="1.5"/>
</g>
<g fill="#3c7af5">
<circle cx="563.0" cy="100.1" r="1.5"/>
</g>
<g fill="#5964ea">
<circle cx="637.8" cy="102.0" r="1.5"/>
<circle cx="579.4" cy="94.6" r="1.5"/>
</g>
<g fill="#008bfb">
<circle cx="563.1" cy="98.8" r="1.5"/>
<circle cx="604.7" cy="100.1" r="1.5"/>
</g>
<g fill="#ce14a2">
<circle cx="599.9" cy="104.4" r="1.5"/>
</g>
<g fill="#3c7af5">
<circle cx="574.2" cy="99.0" r="1.5"/>
</g>
<g fill="#c019af">
<circle cx="626.5" cy="100.4" r="1.5"/>
</g>
<g fill="#774bde">
<circle cx="630.7" cy="99.0" r="1.5"/>
</g>
<g fill="#ff0051">
<circle cx="612.1" cy="96.0" r="1.5"/>
</g>
<g fill="#008bfb">
<circle cx="619.6" cy="98.6" r="1.5"/>
</g>
<g fill="#883bd4">
<circle cx="571.0" cy="95.9" r="1.5"/>
</g>
<g fill="#4a6ff0">
<circle cx="575.8" cy="98.7" r="1.5"/>
<circle cx="591.0" cy="104.7" r="1.5"/>
</g>
<g fill="#c019af">
<circle cx="609.0" cy="105.8" r="1.5"/>
</g>
<g fill="#f10872">
<circle cx="610.3" cy="97.5" r="1.5"/>
</g>
<g fill="#5964ea">
<circle cx="579.1" cy="101.4" r="1.5"/>
</g>
<g fill="#883bd4">
<circle cx="610.0" cy="98.9" r="1.5"/>
</g>
<g fill="#5964ea">
<circle cx="621.9" cy="101.7" r="1.5"/>
</g>
<g fill="#9a2aca">
<circle cx="599.0" cy="95.7" r="1.5"/>
</g>
<g fill="#e20d8a">
<circle cx="621.7" cy="97.3" r="1.5"/>
</g>
<g fill="#1e82f8">
<circle cx="589.8" cy="98.7" r="1.5"/>
</g>
<g fill="#ff0051">
<circle cx="602.9" cy="101.6" r="1.5"/>
</g>
<g fill="#008bfb">
<circle cx="577.9" cy="97.1" r="1.5"/>
</g>
<g fill="#ad22bd">
<circle cx="606.7" cy="105.8" r="1.5"/>
</g>
<g fill="#4a6ff0">
<circle cx="578.3" cy="105.9" r="1.5"/>
</g>
<g fill="#ce14a2">
<circle cx="630.8" cy="101.6" r="1.5"/>
</g>
<g fill="#ec0a7d">
<circle cx="640.4" cy="99.2" r="1.5"/>
</g>
<g fill="#c019af">
<circle cx="620.7" cy="104.6" r="1.5"/>
</g>
<g fill="#4a6ff0">
<circle cx="593.8" cy="98.9" r="1.5"/>
</g>
<g fill="#ad22bd">
<circle cx="628.7" cy="102.1" r="1.5"/>
</g>
<g fill="#9a2aca">
<circle cx="630.6" cy="100.0" r="1.5"/>
</g>
<g fill="#883bd4">
<circle cx="571.2" cy="98.8" r="1.5"/>
<circle cx="605.6" cy="94.3" r="1.5"/>
</g>
<g fill="#774bde">
<circle cx="593.9" cy="104.9" r="1.5"/>
</g>
<g fill="#5964ea">
<circle cx="579.3" cy="105.0" r="1.5"/>
</g>
<g fill="#f60567">
<circle cx="642.6" cy="101.6" r="1.5"/>
</g>
<g fill="#008bfb">
<circle cx="589.7" cy="100.4" r="1.5"/>
</g>
<g fill="#883bd4">
<circle cx="625.1" cy="99.0" r="1.5"/>
</g>
<g fill="#008bfb">
<circle cx="581.5" cy="97.3" r="1.5"/>
</g>
<g fill="#2d7ef6">
<circle cx="559.3" cy="100.1" r="1.5"/>
</g>
<g fill="#5964ea">
<circle cx="583.9" cy="98.6" r="1.5"/>
</g>
<g fill="#c019af">
<circle cx="584.6" cy="100.2" r="1.5"/>
<circle cx="623.2" cy="103.4" r="1.5"/>
</g>
<g fill="#ad22bd">
<circle cx="629.8" cy="100.5" r="1.5"/>
</g>
<g fill="#1e82f8">
<circle cx="641.1" cy="100.3" r="1.5"/>
</g>
<g fill="#9a2aca">
<circle cx="591.5" cy="97.4" r="1.5"/>
<circle cx="598.3" cy="104.6" r="1.5"/>
</g>
<g fill="#4a6ff0">
<circle cx="571.0" cy="97.7" r="1.5"/>
</g>
<g fill="#0f87fa">
<circle cx="643.3" cy="98.8" r="1.5"/>
</g>
<g fill="#f60567">
<circle cx="595.5" cy="98.8" r="1.5"/>
</g>
<g fill="#008bfb">
<circle cx="658.0" cy="100.4" r="1.5"/>
<circle cx="660.5" cy="100.8" r="1.5"/>
<circle cx="663.0" cy="100.7" r="1.5"/>
</g>
<g fill="#ff0051">
<circle cx="667.0" cy="100.0" r="1.5"/>
</g>
<g fill="#008bfb">
<circle cx="671.5" cy="100.4" r="1.5"/>
<circle cx="674.0" cy="100.0" r="1.5"/>
<circle cx="676.8" cy="100.4" r="1.5"/>
</g>
<g fill="#ff0051">
<circle cx="563.9" cy="124.4" r="1.5"/>
</g>
<g fill="#ce14a2">
<circle cx="614.8" cy="124.7" r="1.5"/>
<circle cx="582.5" cy="122.6" r="1.5"/>
</g>
<g fill="#ff0051">
<circle cx="556.3" cy="124.1" r="1.5"/>
</g>
<g fill="#e20d8a">
<circle cx="618.6" cy="125.5" r="1.5"/>
</g>
<g fill="#ff0051">
<circle cx="581.7" cy="121.7" r="1.5"/>
</g>
<g fill="#fa035c">
<circle cx="617.9" cy="124.4" r="1.5"/>
</g>
<g fill="#ff0051">
<circle cx="621.9" cy="124.5" r="1.5"/>
</g>
<g fill="#d81196">
<circle cx="580.3" cy="126.2" r="1.5"/>
</g>
<g fill="#883bd4">
<circle cx="594.4" cy="127.3" r="1.5"/>
</g>
<g fill="#ff0051">
<circle cx="582.7" cy="125.6" r="1.5"/>
</g>
<g fill="#5964ea">
<circle cx="602.3" cy="124.5" r="1.5"/>
</g>
<g fill="#d81196">
<circle cx="596.8" cy="125.8" r="1.5"/>
</g>
<g fill="#ff0051">
<circle cx="619.3" cy="122.7" r="1.5"/>
</g>
<g fill="#c019af">
<circle cx="586.2" cy="126.0" r="1.5"/>
</g>
<g fill="#2d7ef6">
<circle cx="602.3" cy="125.6" r="1.5"/>
</g>
<g fill="#ec0a7d">
<circle cx="561.0" cy="124.6" r="1.5"/>
</g>
<g fill="#4a6ff0">
<circle cx="579.3" cy="123.2" r="1.5"/>
</g>
<g fill="#3c7af5">
<circle cx="600.6" cy="127.1" r="1.5"/>
</g>
<g fill="#ec0a7d">
<circle cx="593.9" cy="128.8" r="1.5"/>
</g>
<g fill="#ad22bd">
<circle cx="589.4" cy="120.2" r="1.5"/>
</g>
<g fill="#fa035c">
<circle cx="597.3" cy="121.4" r="1.5"/>
</g>
<g fill="#c019af">
<circle cx="587.2" cy="118.8" r="1.5"/>
</g>
<g fill="#883bd4">
<circle cx="592.0" cy="131.4" r="1.5"/>
</g>
<g fill="#fa035c">
<circle cx="594.1" cy="121.5" r="1.5"/>
</g>
<g fill="#6759e5">
<circle cx="601.2" cy="121.5" r="1.5"/>
</g>
<g fill="#ff0051">
<circle cx="559.3" cy="124.3" r="1.5"/>
</g>
<g fill="#d81196">
<circle cx="611.4" cy="125.9" r="1.5"/>
</g>
<g fill="#6759e5">
<circle cx="599.5" cy="125.5" r="1.5"/>
</g>
<g fill="#ad22bd">
<circle cx="584.0" cy="118.8" r="1.5"/>
</g>
<g fill="#774bde">
<circle cx="577.1" cy="121.8" r="1.5"/>
</g>
<g fill="#5964ea">
<circle cx="616.7" cy="125.9" r="1.5"/>
</g>
<g fill="#4a6ff0">
<circle cx="589.4" cy="118.6" r="1.5"/>
</g>
<g fill="#f60567">
<circle cx="612.6" cy="122.6" r="1.5"/>
</g>
<g fill="#5964ea">
<circle cx="602.3" cy="127.5" r="1.5"/>
</g>
<g fill="#774bde">
<circle cx="596.7" cy="128.9" r="1.5"/>
</g>
<g fill="#4a6ff0">
<circle cx="586.0" cy="120.3" r="1.5"/>
</g>
<g fill="#3c7af5">
<circle cx="587.5" cy="125.6" r="1.5"/>
</g>
<g fill="#008bfb">
<circle cx="593.7" cy="120.0" r="1.5"/>
</g>
<g fill="#ec0a7d">
<circle cx="625.5" cy="124.2" r="1.5"/>
</g>
<g fill="#6759e5">
<circle cx="590.9" cy="127.6" r="1.5"/>
</g>
<g fill="#c019af">
<circle cx="619.6" cy="124.4" r="1.5"/>
</g>
<g fill="#f10872">
<circle cx="592.2" cy="121.5" r="1.5"/>
</g>
<g fill="#883bd4">
<circle cx="600.7" cy="124.7" r="1.5"/>
</g>
<g fill="#774bde">
<circle cx="609.0" cy="126.0" r="1.5"/>
</g>
<g fill="#ff0051">
<circle cx="592.8" cy="125.5" r="1.5"/>
</g>
<g fill="#774bde">
<circle cx="592.7" cy="127.0" r="1.5"/>
</g>
<g fill="#ce14a2">
<circle cx="570.3" cy="124.1" r="1.5"/>
</g>
<g fill="#c019af">
<circle cx="587.0" cy="123.0" r="1.5"/>
</g>
<g fill="#5964ea">
<circle cx="587.1" cy="121.3" r="1.5"/>
</g>
<g fill="#e20d8a">
<circle cx="620.6" cy="124.3" r="1.5"/>
</g>
<g fill="#c019af">
<circle cx="585.8" cy="127.6" r="1.5"/>
</g>
<g fill="#ce14a2">
<circle cx="613.9" cy="124.4" r="1.5"/>
</g>
<g fill="#2d7ef6">
<circle cx="603.2" cy="127.3" r="1.5"/>
</g>
<g fill="#008bfb">
<circle cx="598.4" cy="125.7" r="1.5"/>
</g>
<g fill="#3c7af5">
<circle cx="595.1" cy="127.0" r="1.5"/>
</g>
<g fill="#fa035c">
<circle cx="627.1" cy="124.4" r="1.5"/>
</g>
<g fill="#883bd4">
<circle cx="595.3" cy="124.4" r="1.5"/>
</g>
<g fill="#ff0051">
<circle cx="574.9" cy="123.0" r="1.5"/>
<circle cx="623.8" cy="124.6" r="1.5"/>
</g>
<g fill="#e20d8a">
<circle cx="576.9" cy="122.7" r="1.5"/>
</g>
<g fill="#6759e5">
<circle cx="599.9" cy="124.1" r="1.5"/>
</g>
<g fill="#1e82f8">
<circle cx="595.4" cy="130.2" r="1.5"/>
</g>
<g fill="#6759e5">
<circle cx="600.8" cy="123.0" r="1.5"/>
</g>
<g fill="#883bd4">
<circle cx="595.3" cy="125.6" r="1.5"/>
</g>
<g fill="#ad22bd">
<circle cx="589.5" cy="121.5" r="1.5"/>
</g>
<g fill="#ff0051">
<circle cx="612.4" cy="126.0" r="1.5"/>
</g>
<g fill="#0f87fa">
<circle cx="592.8" cy="130.0" r="1.5"/>
</g>
<g fill="#774bde">
<circle cx="598.6" cy="127.1" r="1.5"/>
</g>
<g fill="#ec0a7d">
<circle cx="586.4" cy="121.7" r="1.5"/>
</g>
<g fill="#6759e5">
<circle cx="600.1" cy="128.6" r="1.5"/>
</g>
<g fill="#883bd4">
<circle cx="595.5" cy="128.8" r="1.5"/>
</g>
<g fill="#ad22bd">
<circle cx="589.8" cy="130.4" r="1.5"/>
</g>
<g fill="#4a6ff0">
<circle cx="606.8" cy="125.6" r="1.5"/>
</g>
<g fill="#ad22bd">
<circle cx="605.9" cy="125.8" r="1.5"/>
</g>
<g fill="#ff0051">
<circle cx="578.1" cy="121.7" r="1.5"/>
</g>
<g fill="#9a2aca">
<circle cx="592.0" cy="127.3" r="1.5"/>
</g>
<g fill="#774bde">
<circle cx="598.3" cy="121.4" r="1.5"/>
</g>
<g fill="#ec0a7d">
<circle cx="584.8" cy="121.3" r="1.5"/>
</g>
<g fill="#9a2aca">
<circle cx="592.6" cy="118.3" r="1.5"/>
<circle cx="592.2" cy="128.7" r="1.5"/>
</g>
<g fill="#883bd4">
<circle cx="598.6" cy="124.1" r="1.5"/>
</g>
<g fill="#ff0051">
<circle cx="575.6" cy="123.0" r="1.5"/>
</g>
<g fill="#ce14a2">
<circle cx="620.4" cy="125.7" r="1.5"/>
<circle cx="586.2" cy="130.2" r="1.5"/>
</g>
<g fill="#ff0051">
<circle cx="583.8" cy="120.2" r="1.5"/>
</g>
<g fill="#ce14a2">
<circle cx="592.9" cy="121.4" r="1.5"/>
</g>
<g fill="#d81196">
<circle cx="616.2" cy="121.3" r="1.5"/>
</g>
<g fill="#008bfb">
<circle cx="589.9" cy="122.8" r="1.5"/>
</g>
<g fill="#ad22bd">
<circle cx="580.6" cy="127.6" r="1.5"/>
</g>
<g fill="#9a2aca">
<circle cx="610.0" cy="122.9" r="1.5"/>
</g>
<g fill="#008bfb">
<circle cx="597.6" cy="130.0" r="1.5"/>
</g>
<g fill="#c019af">
<circle cx="612.7" cy="124.3" r="1.5"/>
</g>
<g fill="#1e82f8">
<circle cx="581.5" cy="125.7" r="1.5"/>
</g>
<g fill="#ff0051">
<circle cx="577.7" cy="123.1" r="1.5"/>
</g>
<g fill="#9a2aca">
<circle cx="592.9" cy="123.2" r="1.5"/>
</g>
<g fill="#f10872">
<circle cx="573.5" cy="123.1" r="1.5"/>
</g>
<g fill="#5964ea">
<circle cx="591.6" cy="120.0" r="1.5"/>
</g>
<g fill="#ce14a2">
<circle cx="613.4" cy="125.8" r="1.5"/>
</g>
<g fill="#e20d8a">
<circle cx="622.7" cy="124.1" r="1.5"/>
</g>
<g fill="#ad22bd">
<circle cx="583.7" cy="122.6" r="1.5"/>
</g>
<g fill="#5964ea">
<circle cx="601.0" cy="125.9" r="1.5"/>
</g>
<g fill="#c019af">
<circle cx="587.0" cy="127.2" r="1.5"/>
</g>
<g fill="#ad22bd">
<circle cx="589.3" cy="124.4" r="1.5"/>
</g>
<g fill="#ec0a7d">
<circle cx="603.2" cy="124.7" r="1.5"/>
</g>
<g fill="#c019af">
<circle cx="596.2" cy="122.9" r="1.5"/>
</g>
<g fill="#008bfb">
<circle cx="597.4" cy="124.2" r="1.5"/>
</g>
<g fill="#ce14a2">
<circle cx="619.7" cy="125.8" r="1.5"/>
</g>
<g fill="#d81196">
<circle cx="615.9" cy="124.4" r="1.5"/>
</g>
<g fill="#ff0051">
<circle cx="580.0" cy="121.7" r="1.5"/>
<circle cx="587.0" cy="130.3" r="1.5"/>
</g>
<g fill="#d81196">
<circle cx="617.0" cy="122.6" r="1.5"/>
</g>
<g fill="#4a6ff0">
<circle cx="599.6" cy="123.0" r="1.5"/>
</g>
<g fill="#e20d8a">
<circle cx="575.9" cy="124.2" r="1.5"/>
</g>
<g fill="#5964ea">
<circle cx="594.3" cy="130.1" r="1.5"/>
</g>
<g fill="#e20d8a">
<circle cx="577.6" cy="126.1" r="1.5"/>
</g>
<g fill="#ff0051">
<circle cx="576.5" cy="124.7" r="1.5"/>
</g>
<g fill="#883bd4">
<circle cx="610.6" cy="124.5" r="1.5"/>
</g>
<g fill="#ff0051">
<circle cx="588.4" cy="127.3" r="1.5"/>
<circle cx="582.8" cy="119.7" r="1.5"/>
</g>
<g fill="#ce14a2">
<circle cx="584.8" cy="127.0" r="1.5"/>
</g>
<g fill="#9a2aca">
<circle cx="596.5" cy="120.1" r="1.5"/>
</g>
<g fill="#3c7af5">
<circle cx="607.6" cy="124.6" r="1.5"/>
</g>
<g fill="#6759e5">
<circle cx="606.7" cy="124.1" r="1.5"/>
</g>
<g fill="#f10872">
<circle cx="617.1" cy="124.6" r="1.5"/>
</g>
<g fill="#9a2aca">
<circle cx="593.3" cy="120.1" r="1.5"/>
</g>
<g fill="#f10872">
<circle cx="572.1" cy="124.3" r="1.5"/>
</g>
<g fill="#9a2aca">
<circle cx="591.9" cy="122.8" r="1.5"/>
</g>
<g fill="#e20d8a">
<circle cx="620.8" cy="122.9" r="1.5"/>
</g>
<g fill="#883bd4">
<circle cx="594.2" cy="118.3" r="1.5"/>
</g>
<g fill="#1e82f8">
<circle cx="598.6" cy="122.9" r="1.5"/>
</g>
<g fill="#9a2aca">
<circle cx="591.9" cy="124.4" r="1.5"/>
</g>
<g fill="#6759e5">
<circle cx="588.3" cy="128.6" r="1.5"/>
</g>
<g fill="#ce14a2">
<circle cx="614.8" cy="122.9" r="1.5"/>
</g>
<g fill="#d81196">
<circle cx="587.0" cy="128.6" r="1.5"/>
</g>
<g fill="#c019af">
<circle cx="582.8" cy="127.3" r="1.5"/>
<circle cx="616.2" cy="125.8" r="1.5"/>
<circle cx="590.4" cy="118.4" r="1.5"/>
</g>
<g fill="#774bde">
<circle cx="597.8" cy="127.1" r="1.5"/>
</g>
<g fill="#e20d8a">
<circle cx="577.0" cy="125.5" r="1.5"/>
</g>
<g fill="#f60567">
<circle cx="583.7" cy="127.5" r="1.5"/>
</g>
<g fill="#2d7ef6">
<circle cx="577.9" cy="124.3" r="1.5"/>
</g>
<g fill="#ff0051">
<circle cx="558.3" cy="124.5" r="1.5"/>
</g>
<g fill="#ce14a2">
<circle cx="578.8" cy="128.6" r="1.5"/>
</g>
<g fill="#ff0051">
<circle cx="621.7" cy="122.9" r="1.5"/>
</g>
<g fill="#1e82f8">
<circle cx="584.8" cy="124.4" r="1.5"/>
</g>
<g fill="#c019af">
<circle cx="587.5" cy="120.0" r="1.5"/>
</g>
<g fill="#9a2aca">
<circle cx="610.4" cy="125.8" r="1.5"/>
</g>
<g fill="#ec0a7d">
<circle cx="581.3" cy="120.3" r="1.5"/>
</g>
<g fill="#f10872">
<circle cx="573.5" cy="124.1" r="1.5"/>
</g>
<g fill="#e20d8a">
<circle cx="616.1" cy="123.2" r="1.5"/>
</g>
<g fill="#ff0051">
<circle cx="583.9" cy="121.2" r="1.5"/>
</g>
<g fill="#ec0a7d">
<circle cx="590.4" cy="131.6" r="1.5"/>
</g>
<g fill="#2d7ef6">
<circle cx="596.6" cy="127.3" r="1.5"/>
</g>
<g fill="#6759e5">
<circle cx="584.1" cy="129.1" r="1.5"/>
</g>
<g fill="#774bde">
<circle cx="586.8" cy="124.1" r="1.5"/>
</g>
<g fill="#ff0051">
<circle cx="581.7" cy="127.2" r="1.5"/>
</g>
<g fill="#e20d8a">
<circle cx="622.8" cy="123.1" r="1.5"/>
</g>
<g fill="#d81196">
<circle cx="594.2" cy="125.9" r="1.5"/>
</g>
<g fill="#883bd4">
<circle cx="595.3" cy="123.3" r="1.5"/>
</g>
<g fill="#fa035c">
<circle cx="615.9" cy="127.0" r="1.5"/>
</g>
<g fill="#883bd4">
<circle cx="609.0" cy="124.6" r="1.5"/>
</g>
<g fill="#ff0051">
<circle cx="565.2" cy="124.4" r="1.5"/>
</g>
<g fill="#ec0a7d">
<circle cx="582.4" cy="121.8" r="1.5"/>
</g>
<g fill="#008bfb">
<circle cx="606.0" cy="124.5" r="1.5"/>
</g>
<g fill="#774bde">
<circle cx="589.8" cy="125.6" r="1.5"/>
</g>
<g fill="#883bd4">
<circle cx="595.3" cy="120.3" r="1.5"/>
</g>
<g fill="#9a2aca">
<circle cx="604.4" cy="126.0" r="1.5"/>
</g>
<g fill="#fa035c">
<circle cx="567.4" cy="124.2" r="1.5"/>
</g>
<g fill="#883bd4">
<circle cx="609.0" cy="123.0" r="1.5"/>
</g>
<g fill="#ff0051">
<circle cx="588.2" cy="126.1" r="1.5"/>
</g>
<g fill="#d81196">
<circle cx="592.6" cy="128.5" r="1.5"/>
</g>
<g fill="#ad22bd">
<circle cx="590.5" cy="122.9" r="1.5"/>
</g>
<g fill="#ce14a2">
<circle cx="586.4" cy="129.0" r="1.5"/>
</g>
<g fill="#f10872">
<circle cx="590.8" cy="126.0" r="1.5"/>
<circle cx="575.7" cy="121.6" r="1.5"/>
</g>
<g fill="#5964ea">
<circle cx="583.7" cy="125.9" r="1.5"/>
</g>
<g fill="#ff0051">
<circle cx="595.1" cy="121.4" r="1.5"/>
</g>
<g fill="#e20d8a">
<circle cx="605.8" cy="122.8" r="1.5"/>
</g>
<g fill="#d81196">
<circle cx="582.3" cy="128.7" r="1.5"/>
</g>
<g fill="#ce14a2">
<circle cx="574.9" cy="124.2" r="1.5"/>
</g>
<g fill="#ff0051">
<circle cx="563.3" cy="124.3" r="1.5"/>
</g>
<g fill="#d81196">
<circle cx="581.5" cy="122.8" r="1.5"/>
</g>
<g fill="#ad22bd">
<circle cx="590.9" cy="119.8" r="1.5"/>
</g>
<g fill="#774bde">
<circle cx="585.7" cy="118.7" r="1.5"/>
<circle cx="585.2" cy="120.0" r="1.5"/>
</g>
<g fill="#d81196">
<circle cx="590.6" cy="124.7" r="1.5"/>
</g>
<g fill="#ce14a2">
<circle cx="557.4" cy="124.6" r="1.5"/>
</g>
<g fill="#774bde">
<circle cx="591.9" cy="118.5" r="1.5"/>
</g>
<g fill="#f10872">
<circle cx="626.6" cy="124.5" r="1.5"/>
</g>
<g fill="#d81196">
<circle cx="583.5" cy="124.4" r="1.5"/>
</g>
<g fill="#c019af">
<circle cx="585.7" cy="123.0" r="1.5"/>
</g>
<g fill="#4a6ff0">
<circle cx="588.3" cy="118.7" r="1.5"/>
</g>
<g fill="#5964ea">
<circle cx="574.7" cy="126.0" r="1.5"/>
</g>
<g fill="#ad22bd">
<circle cx="588.1" cy="123.1" r="1.5"/>
<circle cx="590.8" cy="121.3" r="1.5"/>
</g>
<g fill="#774bde">
<circle cx="597.4" cy="122.7" r="1.5"/>
</g>
<g fill="#9a2aca">
<circle cx="622.7" cy="125.8" r="1.5"/>
</g>
<g fill="#5964ea">
<circle cx="603.0" cy="121.4" r="1.5"/>
</g>
<g fill="#1e82f8">
<circle cx="599.5" cy="127.4" r="1.5"/>
</g>
<g fill="#fa035c">
<circle cx="595.3" cy="118.7" r="1.5"/>
</g>
<g fill="#4a6ff0">
<circle cx="579.5" cy="121.5" r="1.5"/>
</g>
<g fill="#ad22bd">
<circle cx="588.6" cy="124.2" r="1.5"/>
</g>
<g fill="#ce14a2">
<circle cx="585.2" cy="128.5" r="1.5"/>
</g>
<g fill="#008bfb">
<circle cx="603.5" cy="125.7" r="1.5"/>
</g>
<g fill="#3c7af5">
<circle cx="591.6" cy="130.3" r="1.5"/>
<circle cx="596.3" cy="124.1" r="1.5"/>
</g>
<g fill="#008bfb">
<circle cx="604.3" cy="122.8" r="1.5"/>
</g>
<g fill="#2d7ef6">
<circle cx="588.6" cy="130.2" r="1.5"/>
</g>
<g fill="#6759e5">
<circle cx="596.3" cy="121.5" r="1.5"/>
</g>
<g fill="#883bd4">
<circle cx="594.3" cy="124.7" r="1.5"/>
</g>
<g fill="#d81196">
<circle cx="615.0" cy="125.7" r="1.5"/>
</g>
<g fill="#ff0051">
<circle cx="571.1" cy="124.3" r="1.5"/>
</g>
<g fill="#e20d8a">
<circle cx="579.2" cy="127.1" r="1.5"/>
</g>
<g fill="#ff0051">
<circle cx="569.0" cy="124.3" r="1.5"/>
</g>
<g fill="#c019af">
<circle cx="597.6" cy="125.5" r="1.5"/>
</g>
<g fill="#ff0051">
<circle cx="573.5" cy="125.7" r="1.5"/>
</g>
<g fill="#774bde">
<circle cx="597.6" cy="119.9" r="1.5"/>
</g>
<g fill="#fa035c">
<circle cx="561.7" cy="124.2" r="1.5"/>
</g>
<g fill="#ad22bd">
<circle cx="590.9" cy="128.5" r="1.5"/>
</g>
<g fill="#9a2aca">
<circle cx="593.8" cy="123.1" r="1.5"/>
</g>
<g fill="#4a6ff0">
<circle cx="602.3" cy="121.5" r="1.5"/>
</g>
<g fill="#e20d8a">
<circle cx="621.5" cy="125.9" r="1.5"/>
</g>
<g fill="#fa035c">
<circle cx="592.8" cy="124.1" r="1.5"/>
</g>
<g fill="#d81196">
<circle cx="581.1" cy="124.3" r="1.5"/>
</g>
<g fill="#fa035c">
<circle cx="566.2" cy="124.4" r="1.5"/>
</g>
<g fill="#9a2aca">
<circle cx="572.3" cy="123.2" r="1.5"/>
</g>
<g fill="#ad22bd">
<circle cx="584.8" cy="122.7" r="1.5"/>
<circle cx="611.4" cy="122.9" r="1.5"/>
</g>
<g fill="#d81196">
<circle cx="582.2" cy="124.2" r="1.5"/>
</g>
<g fill="#c019af">
<circle cx="611.6" cy="124.2" r="1.5"/>
</g>
<g fill="#5964ea">
<circle cx="604.4" cy="124.3" r="1.5"/>
</g>
<g fill="#fa035c">
<circle cx="614.0" cy="123.3" r="1.5"/>
</g>
<g fill="#008bfb">
<circle cx="634.0" cy="124.3" r="1.5"/>
<circle cx="636.5" cy="124.2" r="1.5"/>
<circle cx="639.0" cy="123.9" r="1.5"/>
<circle cx="641.5" cy="124.7" r="1.5"/>
</g>
<g fill="#0f87fa">
<circle cx="644.0" cy="124.3" r="1.5"/>
</g>
<g fill="#008bfb">
<circle cx="646.5" cy="124.3" r="1.5"/>
<circle cx="649.0" cy="124.0" r="1.5"/>
<circle cx="651.5" cy="124.4" r="1.5"/>
<circle cx="654.0" cy="124.8" r="1.5"/>
</g>
<g fill="#0f87fa">
<circle cx="656.5" cy="124.2" r="1.5"/>
</g>
<g fill="#008bfb">
<circle cx="659.0" cy="124.6" r="1.5"/>
<circle cx="661.5" cy="124.7" r="1.5"/>
<circle cx="664.0" cy="124.6" r="1.5"/>
<circle cx="666.5" cy="124.5" r="1.5"/>
<circle cx="669.0" cy="124.1" r="1.5"/>
<circle cx="673.0" cy="124.6" r="1.5"/>
<circle cx="677.5" cy="124.5" r="1.5"/>
<circle cx="680.0" cy="124.9" r="1.5"/>
<circle cx="682.5" cy="124.4" r="1.5"/>
<circle cx="685.0" cy="124.3" r="1.5"/>
<circle cx="691.0" cy="124.8" r="1.5"/>
<circle cx="698.6" cy="124.5" r="1.5"/>
</g>
<g fill="#ff0051">
<circle cx="588.6" cy="151.1" r="1.5"/>
<circle cx="582.8" cy="149.8" r="1.5"/>
</g>
<g fill="#d81196">
<circle cx="598.0" cy="151.6" r="1.5"/>
</g>
<g fill="#c019af">
<circle cx="593.1" cy="141.3" r="1.5"/>
</g>
<g fill="#3c7af5">
<circle cx="616.9" cy="148.5" r="1.5"/>
</g>
<g fill="#1e82f8">
<circle cx="586.2" cy="147.1" r="1.5"/>
</g>
<g fill="#e20d8a">
<circle cx="571.2" cy="148.6" r="1.5"/>
</g>
<g fill="#008bfb">
<circle cx="613.5" cy="145.7" r="1.5"/>
</g>
<g fill="#ce14a2">
<circle cx="580.8" cy="153.2" r="1.5"/>
</g>
<g fill="#c019af">
<circle cx="591.7" cy="145.7" r="1.5"/>
</g>
<g fill="#ce14a2">
<circle cx="587.5" cy="146.7" r="1.5"/>
<circle cx="589.4" cy="148.5" r="1.5"/>
</g>
<g fill="#ff0051">
<circle cx="593.9" cy="149.9" r="1.5"/>
</g>
<g fill="#883bd4">
<circle cx="590.7" cy="145.6" r="1.5"/>
</g>
<g fill="#ff0051">
<circle cx="581.6" cy="145.3" r="1.5"/>
</g>
<g fill="#f60567">
<circle cx="594.2" cy="144.2" r="1.5"/>
</g>
<g fill="#c019af">
<circle cx="594.5" cy="141.6" r="1.5"/>
</g>
<g fill="#5964ea">
<circle cx="593.5" cy="150.1" r="1.5"/>
</g>
<g fill="#ce14a2">
<circle cx="586.5" cy="151.2" r="1.5"/>
</g>
<g fill="#ad22bd">
<circle cx="596.7" cy="143.0" r="1.5"/>
</g>
<g fill="#d81196">
<circle cx="602.2" cy="151.3" r="1.5"/>
</g>
<g fill="#ff0051">
<circle cx="581.3" cy="148.8" r="1.5"/>
</g>
<g fill="#008bfb">
<circle cx="619.5" cy="147.0" r="1.5"/>
</g>
<g fill="#883bd4">
<circle cx="607.3" cy="145.4" r="1.5"/>
</g>
<g fill="#2d7ef6">
<circle cx="613.7" cy="147.0" r="1.5"/>
</g>
<g fill="#008bfb">
<circle cx="586.5" cy="153.1" r="1.5"/>
</g>
<g fill="#6759e5">
<circle cx="596.4" cy="154.6" r="1.5"/>
</g>
<g fill="#f60567">
<circle cx="574.7" cy="145.5" r="1.5"/>
</g>
<g fill="#ce14a2">
<circle cx="590.5" cy="149.7" r="1.5"/>
</g>
<g fill="#ec0a7d">
<circle cx="587.0" cy="150.1" r="1.5"/>
</g>
<g fill="#008bfb">
<circle cx="636.5" cy="148.2" r="1.5"/>
</g>
<g fill="#3c7af5">
<circle cx="592.9" cy="145.4" r="1.5"/>
<circle cx="612.3" cy="148.2" r="1.5"/>
</g>
<g fill="#c019af">
<circle cx="595.3" cy="148.3" r="1.5"/>
</g>
<g fill="#ce14a2">
<circle cx="584.8" cy="151.1" r="1.5"/>
</g>
<g fill="#e20d8a">
<circle cx="589.7" cy="149.8" r="1.5"/>
<circle cx="576.8" cy="146.8" r="1.5"/>
</g>
<g fill="#008bfb">
<circle cx="584.0" cy="154.4" r="1.5"/>
</g>
<g fill="#ff0051">
<circle cx="592.9" cy="148.4" r="1.5"/>
</g>
<g fill="#008bfb">
<circle cx="616.1" cy="147.4" r="1.5"/>
</g>
<g fill="#ad22bd">
<circle cx="598.5" cy="151.2" r="1.5"/>
</g>
<g fill="#0f87fa">
<circle cx="620.8" cy="148.6" r="1.5"/>
</g>
<g fill="#ad22bd">
<circle cx="622.0" cy="148.5" r="1.5"/>
</g>
<g fill="#d81196">
<circle cx="577.3" cy="149.6" r="1.5"/>
</g>
<g fill="#c019af">
<circle cx="594.1" cy="142.9" r="1.5"/>
</g>
<g fill="#1e82f8">
<circle cx="620.8" cy="147.1" r="1.5"/>
</g>
<g fill="#ff0051">
<circle cx="594.6" cy="151.4" r="1.5"/>
</g>
<g fill="#ce14a2">
<circle cx="587.1" cy="152.5" r="1.5"/>
</g>
<g fill="#f10872">
<circle cx="575.1" cy="150.0" r="1.5"/>
</g>
<g fill="#0f87fa">
<circle cx="609.5" cy="150.0" r="1.5"/>
</g>
<g fill="#008bfb">
<circle cx="607.7" cy="145.5" r="1.5"/>
</g>
<g fill="#ad22bd">
<circle cx="597.4" cy="150.2" r="1.5"/>
</g>
<g fill="#3c7af5">
<circle cx="611.5" cy="150.0" r="1.5"/>
</g>
<g fill="#e20d8a">
<circle cx="584.0" cy="151.4" r="1.5"/>
</g>
<g fill="#d81196">
<circle cx="573.8" cy="148.8" r="1.5"/>
<circle cx="573.5" cy="149.9" r="1.5"/>
</g>
<g fill="#e20d8a">
<circle cx="602.4" cy="145.6" r="1.5"/>
</g>
<g fill="#d81196">
<circle cx="596.8" cy="151.4" r="1.5"/>
</g>
<g fill="#883bd4">
<circle cx="602.2" cy="148.5" r="1.5"/>
</g>
<g fill="#008bfb">
<circle cx="611.7" cy="146.7" r="1.5"/>
</g>
<g fill="#774bde">
<circle cx="617.2" cy="147.1" r="1.5"/>
</g>
<g fill="#008bfb">
<circle cx="610.1" cy="146.9" r="1.5"/>
</g>
<g fill="#d81196">
<circle cx="597.5" cy="146.9" r="1.5"/>
</g>
<g fill="#c019af">
<circle cx="594.0" cy="152.5" r="1.5"/>
</g>
<g fill="#3c7af5">
<circle cx="597.8" cy="145.7" r="1.5"/>
</g>
<g fill="#c019af">
<circle cx="595.7" cy="154.5" r="1.5"/>
</g>
<g fill="#4a6ff0">
<circle cx="602.0" cy="143.9" r="1.5"/>
</g>
<g fill="#008bfb">
<circle cx="608.9" cy="147.1" r="1.5"/>
</g>
<g fill="#5964ea">
<circle cx="607.7" cy="147.1" r="1.5"/>
</g>
<g fill="#883bd4">
<circle cx="603.4" cy="144.1" r="1.5"/>
</g>
<g fill="#f60567">
<circle cx="587.2" cy="154.5" r="1.5"/>
</g>
<g fill="#4a6ff0">
<circle cx="598.8" cy="148.5" r="1.5"/>
</g>
<g fill="#774bde">
<circle cx="604.9" cy="149.8" r="1.5"/>
</g>
<g fill="#ce14a2">
<circle cx="577.8" cy="148.5" r="1.5"/>
</g>
<g fill="#ad22bd">
<circle cx="631.1" cy="148.8" r="1.5"/>
</g>
<g fill="#f60567">
<circle cx="584.0" cy="145.4" r="1.5"/>
</g>
<g fill="#008bfb">
<circle cx="634.2" cy="148.5" r="1.5"/>
</g>
<g fill="#883bd4">
<circle cx="578.4" cy="153.0" r="1.5"/>
</g>
<g fill="#774bde">
<circle cx="574.3" cy="148.6" r="1.5"/>
</g>
<g fill="#4a6ff0">
<circle cx="589.3" cy="145.3" r="1.5"/>
</g>
<g fill="#ff0051">
<circle cx="595.2" cy="151.4" r="1.5"/>
</g>
<g fill="#0f87fa">
<circle cx="619.7" cy="150.0" r="1.5"/>
</g>
<g fill="#774bde">
<circle cx="604.9" cy="142.7" r="1.5"/>
</g>
<g fill="#5964ea">
<circle cx="609.0" cy="148.6" r="1.5"/>
</g>
<g fill="#d81196">
<circle cx="577.0" cy="148.4" r="1.5"/>
</g>
<g fill="#ce14a2">
<circle cx="583.8" cy="147.1" r="1.5"/>
</g>
<g fill="#6759e5">
<circle cx="606.6" cy="151.3" r="1.5"/>
</g>
<g fill="#ff0051">
<circle cx="604.7" cy="148.6" r="1.5"/>
</g>
<g fill="#6759e5">
<circle cx="606.1" cy="143.9" r="1.5"/>
</g>
<g fill="#4a6ff0">
<circle cx="597.5" cy="148.3" r="1.5"/>
</g>
<g fill="#774bde">
<circle cx="604.9" cy="147.4" r="1.5"/>
<circle cx="579.4" cy="149.8" r="1.5"/>
</g>
<g fill="#008bfb">
<circle cx="632.0" cy="148.3" r="1.5"/>
</g>
<g fill="#e20d8a">
<circle cx="613.5" cy="148.3" r="1.5"/>
</g>
<g fill="#ec0a7d">
<circle cx="556.5" cy="148.5" r="1.5"/>
</g>
<g fill="#d81196">
<circle cx="571.0" cy="149.8" r="1.5"/>
</g>
<g fill="#ff0051">
<circle cx="596.3" cy="150.2" r="1.5"/>
</g>
<g fill="#ce14a2">
<circle cx="608.3" cy="151.1" r="1.5"/>
</g>
<g fill="#d81196">
<circle cx="572.8" cy="148.5" r="1.5"/>
</g>
<g fill="#1e82f8">
<circle cx="589.9" cy="147.2" r="1.5"/>
</g>
<g fill="#d81196">
<circle cx="572.6" cy="149.7" r="1.5"/>
</g>
<g fill="#ff0051">
<circle cx="581.6" cy="152.7" r="1.5"/>
</g>
<g fill="#e20d8a">
<circle cx="563.2" cy="148.7" r="1.5"/>
</g>
<g fill="#5964ea">
<circle cx="607.9" cy="144.1" r="1.5"/>
</g>
<g fill="#0f87fa">
<circle cx="610.2" cy="150.0" r="1.5"/>
</g>
<g fill="#ce14a2">
<circle cx="583.9" cy="143.8" r="1.5"/>
</g>
<g fill="#ff0051">
<circle cx="585.9" cy="148.8" r="1.5"/>
</g>
<g fill="#ce14a2">
<circle cx="587.7" cy="145.5" r="1.5"/>
</g>
<g fill="#774bde">
<circle cx="605.0" cy="154.0" r="1.5"/>
</g>
<g fill="#883bd4">
<circle cx="597.4" cy="152.8" r="1.5"/>
</g>
<g fill="#3c7af5">
<circle cx="633.0" cy="148.7" r="1.5"/>
</g>
<g fill="#ad22bd">
<circle cx="619.7" cy="148.3" r="1.5"/>
</g>
<g fill="#008bfb">
<circle cx="639.9" cy="148.2" r="1.5"/>
</g>
<g fill="#e20d8a">
<circle cx="580.4" cy="149.8" r="1.5"/>
</g>
<g fill="#ff0051">
<circle cx="581.9" cy="151.4" r="1.5"/>
</g>
<g fill="#008bfb">
<circle cx="625.5" cy="148.8" r="1.5"/>
</g>
<g fill="#ce14a2">
<circle cx="589.7" cy="142.6" r="1.5"/>
</g>
<g fill="#d81196">
<circle cx="567.6" cy="148.2" r="1.5"/>
</g>
<g fill="#ce14a2">
<circle cx="584.0" cy="142.4" r="1.5"/>
</g>
<g fill="#fa035c">
<circle cx="562.0" cy="148.4" r="1.5"/>
<circle cx="593.9" cy="145.9" r="1.5"/>
</g>
<g fill="#ad22bd">
<circle cx="605.7" cy="152.7" r="1.5"/>
</g>
<g fill="#fa035c">
<circle cx="557.2" cy="148.5" r="1.5"/>
</g>
<g fill="#d81196">
<circle cx="590.7" cy="143.9" r="1.5"/>
</g>
<g fill="#ff0051">
<circle cx="590.8" cy="142.5" r="1.5"/>
</g>
<g fill="#ad22bd">
<circle cx="583.1" cy="147.3" r="1.5"/>
</g>
<g fill="#774bde">
<circle cx="581.8" cy="149.9" r="1.5"/>
</g>
<g fill="#ff0051">
<circle cx="588.1" cy="144.2" r="1.5"/>
</g>
<g fill="#ce14a2">
<circle cx="578.1" cy="151.7" r="1.5"/>
</g>
<g fill="#9a2aca">
<circle cx="591.7" cy="151.7" r="1.5"/>
</g>
<g fill="#883bd4">
<circle cx="603.5" cy="145.3" r="1.5"/>
<circle cx="601.9" cy="146.9" r="1.5"/>
</g>
<g fill="#e20d8a">
<circle cx="589.4" cy="139.5" r="1.5"/>
</g>
<g fill="#6759e5">
<circle cx="613.6" cy="150.2" r="1.5"/>
</g>
<g fill="#2d7ef6">
<circle cx="626.1" cy="148.8" r="1.5"/>
</g>
<g fill="#d81196">
<circle cx="596.4" cy="145.9" r="1.5"/>
</g>
<g fill="#774bde">
<circle cx="615.3" cy="148.7" r="1.5"/>
</g>
<g fill="#ce14a2">
<circle cx="588.6" cy="147.4" r="1.5"/>
</g>
<g fill="#1e82f8">
<circle cx="602.4" cy="150.3" r="1.5"/>
</g>
<g fill="#e20d8a">
<circle cx="558.4" cy="148.4" r="1.5"/>
</g>
<g fill="#c019af">
<circle cx="593.9" cy="148.3" r="1.5"/>
<circle cx="575.7" cy="148.8" r="1.5"/>
</g>
<g fill="#0f87fa">
<circle cx="623.9" cy="148.4" r="1.5"/>
</g>
<g fill="#774bde">
<circle cx="605.4" cy="145.5" r="1.5"/>
</g>
<g fill="#008bfb">
<circle cx="618.6" cy="148.5" r="1.5"/>
</g>
<g fill="#ce14a2">
<circle cx="577.0" cy="151.2" r="1.5"/>
</g>
<g fill="#e20d8a">
<circle cx="600.0" cy="145.9" r="1.5"/>
</g>
<g fill="#008bfb">
<circle cx="591.7" cy="144.2" r="1.5"/>
<circle cx="618.6" cy="147.0" r="1.5"/>
</g>
<g fill="#d81196">
<circle cx="591.8" cy="155.7" r="1.5"/>
</g>
<g fill="#ff0051">
<circle cx="600.9" cy="147.1" r="1.5"/>
</g>
<g fill="#d81196">
<circle cx="606.1" cy="151.1" r="1.5"/>
<circle cx="600.9" cy="149.7" r="1.5"/>
</g>
<g fill="#3c7af5">
<circle cx="611.5" cy="145.9" r="1.5"/>
</g>
<g fill="#5964ea">
<circle cx="586.1" cy="149.8" r="1.5"/>
</g>
<g fill="#c019af">
<circle cx="588.8" cy="141.0" r="1.5"/>
<circle cx="593.5" cy="152.8" r="1.5"/>
</g>
<g fill="#ec0a7d">
<circle cx="579.0" cy="146.9" r="1.5"/>
</g>
<g fill="#ce14a2">
<circle cx="588.9" cy="153.1" r="1.5"/>
</g>
<g fill="#d81196">
<circle cx="570.2" cy="147.0" r="1.5"/>
</g>
<g fill="#ce14a2">
<circle cx="589.9" cy="154.5" r="1.5"/>
</g>
<g fill="#c019af">
<circle cx="582.9" cy="144.4" r="1.5"/>
</g>
<g fill="#9a2aca">
<circle cx="580.6" cy="148.3" r="1.5"/>
</g>
<g fill="#6759e5">
<circle cx="608.1" cy="148.6" r="1.5"/>
</g>
<g fill="#c019af">
<circle cx="595.0" cy="146.9" r="1.5"/>
<circle cx="580.3" cy="147.3" r="1.5"/>
</g>
<g fill="#ce14a2">
<circle cx="591.8" cy="141.1" r="1.5"/>
</g>
<g fill="#4a6ff0">
<circle cx="569.3" cy="147.4" r="1.5"/>
</g>
<g fill="#008bfb">
<circle cx="614.9" cy="149.8" r="1.5"/>
</g>
<g fill="#ff0051">
<circle cx="559.6" cy="148.6" r="1.5"/>
</g>
<g fill="#0f87fa">
<circle cx="623.1" cy="148.2" r="1.5"/>
</g>
<g fill="#9a2aca">
<circle cx="588.3" cy="155.9" r="1.5"/>
</g>
<g fill="#ff0051">
<circle cx="586.1" cy="145.9" r="1.5"/>
</g>
<g fill="#9a2aca">
<circle cx="601.5" cy="151.4" r="1.5"/>
</g>
<g fill="#f60567">
<circle cx="605.0" cy="151.3" r="1.5"/>
</g>
<g fill="#5964ea">
<circle cx="604.7" cy="144.0" r="1.5"/>
</g>
<g fill="#ff0051">
<circle cx="570.1" cy="150.0" r="1.5"/>
</g>
<g fill="#3c7af5">
<circle cx="596.4" cy="155.7" r="1.5"/>
</g>
<g fill="#6759e5">
<circle cx="606.9" cy="146.7" r="1.5"/>
</g>
<g fill="#ce14a2">
<circle cx="582.8" cy="151.1" r="1.5"/>
</g>
<g fill="#774bde">
<circle cx="604.3" cy="153.2" r="1.5"/>
</g>
<g fill="#9a2aca">
<circle cx="582.6" cy="152.6" r="1.5"/>
</g>
<g fill="#d81196">
<circle cx="575.9" cy="147.2" r="1.5"/>
</g>
<g fill="#3c7af5">
<circle cx="612.5" cy="150.2" r="1.5"/>
</g>
<g fill="#ce14a2">
<circle cx="585.8" cy="144.1" r="1.5"/>
</g>
<g fill="#ad22bd">
<circle cx="566.6" cy="148.7" r="1.5"/>
</g>
<g fill="#ce14a2">
<circle cx="590.8" cy="148.5" r="1.5"/>
</g>
<g fill="#883bd4">
<circle cx="602.3" cy="152.7" r="1.5"/>
</g>
<g fill="#fa035c">
<circle cx="592.8" cy="144.4" r="1.5"/>
</g>
<g fill="#3c7af5">
<circle cx="596.6" cy="152.8" r="1.5"/>
</g>
<g fill="#ce14a2">
<circle cx="580.6" cy="143.9" r="1.5"/>
</g>
<g fill="#4a6ff0">
<circle cx="610.6" cy="151.2" r="1.5"/>
</g>
<g fill="#ec0a7d">
<circle cx="617.3" cy="149.7" r="1.5"/>
</g>
<g fill="#f60567">
<circle cx="555.3" cy="148.4" r="1.5"/>
</g>
<g fill="#ce14a2">
<circle cx="579.3" cy="145.5" r="1.5"/>
</g>
<g fill="#4a6ff0">
<circle cx="610.2" cy="148.2" r="1.5"/>
</g>
<g fill="#c019af">
<circle cx="593.1" cy="155.6" r="1.5"/>
</g>
<g fill="#9a2aca">
<circle cx="599.2" cy="150.1" r="1.5"/>
</g>
<g fill="#e20d8a">
<circle cx="576.0" cy="151.3" r="1.5"/>
</g>
<g fill="#ce14a2">
<circle cx="580.5" cy="151.2" r="1.5"/>
</g>
<g fill="#e20d8a">
<circle cx="585.0" cy="150.2" r="1.5"/>
</g>
<g fill="#ff0051">
<circle cx="598.7" cy="152.7" r="1.5"/>
</g>
<g fill="#c019af">
<circle cx="593.1" cy="142.7" r="1.5"/>
</g>
<g fill="#774bde">
<circle cx="604.2" cy="145.9" r="1.5"/>
</g>
<g fill="#ce14a2">
<circle cx="578.5" cy="145.6" r="1.5"/>
</g>
<g fill="#ad22bd">
<circle cx="569.1" cy="148.5" r="1.5"/>
</g>
<g fill="#883bd4">
<circle cx="565.2" cy="148.5" r="1.5"/>
</g>
<g fill="#1e82f8">
<circle cx="616.0" cy="148.2" r="1.5"/>
</g>
<g fill="#008bfb">
<circle cx="641.6" cy="148.3" r="1.5"/>
</g>
<g fill="#c019af">
<circle cx="591.8" cy="148.8" r="1.5"/>
</g>
<g fill="#ce14a2">
<circle cx="585.1" cy="145.7" r="1.5"/>
</g>
<g fill="#4a6ff0">
<circle cx="610.7" cy="145.4" r="1.5"/>
</g>
<g fill="#ce14a2">
<circle cx="584.7" cy="148.6" r="1.5"/>
</g>
<g fill="#3c7af5">
<circle cx="591.8" cy="146.7" r="1.5"/>
</g>
<g fill="#f10872">
<circle cx="594.0" cy="155.8" r="1.5"/>
</g>
<g fill="#ff0051">
<circle cx="599.1" cy="144.0" r="1.5"/>
</g>
<g fill="#ad22bd">
<circle cx="603.4" cy="150.1" r="1.5"/>
</g>
<g fill="#c019af">
<circle cx="601.1" cy="142.5" r="1.5"/>
</g>
<g fill="#008bfb">
<circle cx="618.5" cy="149.8" r="1.5"/>
</g>
<g fill="#ad22bd">
<circle cx="591.7" cy="154.1" r="1.5"/>
</g>
<g fill="#3c7af5">
<circle cx="639.0" cy="148.4" r="1.5"/>
</g>
<g fill="#fa035c">
<circle cx="588.4" cy="154.5" r="1.5"/>
</g>
<g fill="#5964ea">
<circle cx="607.0" cy="148.7" r="1.5"/>
</g>
<g fill="#2d7ef6">
<circle cx="613.0" cy="151.1" r="1.5"/>
</g>
<g fill="#d81196">
<circle cx="575.5" cy="145.6" r="1.5"/>
</g>
<g fill="#2d7ef6">
<circle cx="615.9" cy="149.7" r="1.5"/>
</g>
<g fill="#ec0a7d">
<circle cx="590.8" cy="151.6" r="1.5"/>
</g>
<g fill="#f60567">
<circle cx="569.9" cy="148.5" r="1.5"/>
</g>
<g fill="#5964ea">
<circle cx="592.2" cy="142.4" r="1.5"/>
</g>
<g fill="#ce14a2">
<circle cx="584.3" cy="153.2" r="1.5"/>
</g>
<g fill="#ff0051">
<circle cx="587.5" cy="148.4" r="1.5"/>
</g>
<g fill="#0f87fa">
<circle cx="600.9" cy="145.6" r="1.5"/>
</g>
<g fill="#6759e5">
<circle cx="601.4" cy="148.2" r="1.5"/>
</g>
<g fill="#f60567">
<circle cx="593.4" cy="146.8" r="1.5"/>
</g>
<g fill="#c019af">
<circle cx="598.5" cy="145.3" r="1.5"/>
</g>
<g fill="#ff0051">
<circle cx="573.2" cy="147.2" r="1.5"/>
</g>
<g fill="#3c7af5">
<circle cx="600.0" cy="146.7" r="1.5"/>
</g>
<g fill="#c019af">
<circle cx="594.0" cy="157.0" r="1.5"/>
</g>
<g fill="#2d7ef6">
<circle cx="590.7" cy="153.1" r="1.5"/>
</g>
<g fill="#e20d8a">
<circle cx="599.7" cy="149.7" r="1.5"/>
</g>
<g fill="#ce14a2">
<circle cx="581.3" cy="147.2" r="1.5"/>
</g>
<g fill="#c019af">
<circle cx="587.1" cy="144.4" r="1.5"/>
</g>
<g fill="#3c7af5">
<circle cx="615.0" cy="146.9" r="1.5"/>
</g>
<g fill="#ce14a2">
<circle cx="588.7" cy="149.7" r="1.5"/>
</g>
<g fill="#1e82f8">
<circle cx="611.3" cy="151.1" r="1.5"/>
</g>
<g fill="#774bde">
<circle cx="605.5" cy="148.4" r="1.5"/>
</g>
<g fill="#d81196">
<circle cx="603.1" cy="152.5" r="1.5"/>
</g>
<g fill="#9a2aca">
<circle cx="606.0" cy="147.0" r="1.5"/>
</g>
<g fill="#5964ea">
<circle cx="609.3" cy="145.3" r="1.5"/>
</g>
<g fill="#774bde">
<circle cx="599.0" cy="147.0" r="1.5"/>
</g>
<g fill="#9a2aca">
<circle cx="601.4" cy="154.4" r="1.5"/>
</g>
<g fill="#883bd4">
<circle cx="603.7" cy="151.4" r="1.5"/>
</g>
<g fill="#ce14a2">
<circle cx="582.6" cy="148.2" r="1.5"/>
</g>
<g fill="#ff0051">
<circle cx="589.4" cy="144.3" r="1.5"/>
</g>
<g fill="#ce14a2">
<circle cx="607.8" cy="150.0" r="1.5"/>
</g>
<g fill="#008bfb">
<circle cx="603.1" cy="147.2" r="1.5"/>
</g>
<g fill="#ff0051">
<circle cx="578.2" cy="144.1" r="1.5"/>
</g>
<g fill="#c019af">
<circle cx="606.6" cy="150.2" r="1.5"/>
</g>
<g fill="#ce14a2">
<circle cx="596.9" cy="144.2" r="1.5"/>
</g>
<g fill="#ec0a7d">
<circle cx="596.5" cy="146.9" r="1.5"/>
</g>
<g fill="#ff0051">
<circle cx="599.0" cy="143.0" r="1.5"/>
</g>
<g fill="#6759e5">
<circle cx="584.7" cy="144.3" r="1.5"/>
</g>
<g fill="#c019af">
<circle cx="594.1" cy="147.0" r="1.5"/>
</g>
<g fill="#9a2aca">
<circle cx="589.5" cy="155.7" r="1.5"/>
</g>
<g fill="#ff0051">
<circle cx="577.8" cy="150.1" r="1.5"/>
</g>
<g fill="#883bd4">
<circle cx="585.4" cy="152.7" r="1.5"/>
</g>
<g fill="#2d7ef6">
<circle cx="628.5" cy="148.6" r="1.5"/>
</g>
<g fill="#9a2aca">
<circle cx="599.7" cy="143.8" r="1.5"/>
</g>
<g fill="#ce14a2">
<circle cx="582.7" cy="145.4" r="1.5"/>
</g>
<g fill="#e20d8a">
<circle cx="595.1" cy="152.6" r="1.5"/>
</g>
<g fill="#008bfb">
<circle cx="572.1" cy="147.0" r="1.5"/>
<circle cx="613.0" cy="145.4" r="1.5"/>
</g>
<g fill="#ec0a7d">
<circle cx="596.5" cy="141.2" r="1.5"/>
</g>
<g fill="#c019af">
<circle cx="584.1" cy="150.1" r="1.5"/>
</g>
<g fill="#ff0051">
<circle cx="592.9" cy="151.3" r="1.5"/>
</g>
<g fill="#4a6ff0">
<circle cx="590.6" cy="147.4" r="1.5"/>
</g>
<g fill="#ff0051">
<circle cx="579.1" cy="151.2" r="1.5"/>
</g>
<g fill="#ce14a2">
<circle cx="583.9" cy="148.2" r="1.5"/>
</g>
<g fill="#f10872">
<circle cx="578.3" cy="146.9" r="1.5"/>
</g>
<g fill="#008bfb">
<circle cx="628.0" cy="148.5" r="1.5"/>
</g>
<g fill="#d81196">
<circle cx="575.1" cy="146.8" r="1.5"/>
</g>
<g fill="#774bde">
<circle cx="606.0" cy="149.9" r="1.5"/>
</g>
<g fill="#008bfb">
<circle cx="630.2" cy="148.3" r="1.5"/>
</g>
<g fill="#4a6ff0">
<circle cx="585.4" cy="147.2" r="1.5"/>
</g>
<g fill="#ce14a2">
<circle cx="587.7" cy="142.7" r="1.5"/>
</g>
<g fill="#f60567">
<circle cx="595.4" cy="150.1" r="1.5"/>
</g>
<g fill="#008bfb">
<circle cx="636.0" cy="148.3" r="1.5"/>
</g>
<g fill="#ce14a2">
<circle cx="587.7" cy="151.2" r="1.5"/>
</g>
<g fill="#d81196">
<circle cx="571.6" cy="147.0" r="1.5"/>
</g>
<g fill="#ce14a2">
<circle cx="580.8" cy="145.3" r="1.5"/>
</g>
<g fill="#6759e5">
<circle cx="591.7" cy="152.7" r="1.5"/>
</g>
<g fill="#9a2aca">
<circle cx="600.2" cy="153.2" r="1.5"/>
</g>
<g fill="#ce14a2">
<circle cx="588.2" cy="142.5" r="1.5"/>
<circle cx="579.4" cy="148.7" r="1.5"/>
</g>
<g fill="#e20d8a">
<circle cx="564.5" cy="148.5" r="1.5"/>
</g>
<g fill="#fa035c">
<circle cx="590.7" cy="154.3" r="1.5"/>
</g>
<g fill="#c019af">
<circle cx="596.4" cy="148.8" r="1.5"/>
<circle cx="594.6" cy="154.4" r="1.5"/>
</g>
<g fill="#6759e5">
<circle cx="595.7" cy="145.6" r="1.5"/>
</g>
<g fill="#ff0051">
<circle cx="588.1" cy="145.5" r="1.5"/>
</g>
<g fill="#6759e5">
<circle cx="607.2" cy="144.4" r="1.5"/>
</g>
<g fill="#883bd4">
<circle cx="603.6" cy="148.7" r="1.5"/>
</g>
<g fill="#008bfb">
<circle cx="607.9" cy="152.8" r="1.5"/>
</g>
<g fill="#ad22bd">
<circle cx="601.5" cy="152.9" r="1.5"/>
</g>
<g fill="#ff0051">
<circle cx="510.2" cy="149.0" r="1.5"/>
<circle cx="512.5" cy="148.0" r="1.5"/>
<circle cx="515.0" cy="148.4" r="1.5"/>
<circle cx="519.0" cy="148.2" r="1.5"/>
<circle cx="521.5" cy="148.8" r="1.5"/>
<circle cx="524.0" cy="148.3" r="1.5"/>
<circle cx="526.5" cy="148.7" r="1.5"/>
<circle cx="529.0" cy="148.7" r="1.5"/>
<circle cx="531.5" cy="148.0" r="1.5"/>
<circle cx="534.0" cy="148.6" r="1.5"/>
<circle cx="536.5" cy="148.3" r="1.5"/>
<circle cx="539.0" cy="148.3" r="1.5"/>
<circle cx="541.5" cy="148.6" r="1.5"/>
<circle cx="543.5" cy="148.6" r="1.5"/>
</g>
<g fill="#fa035c">
<circle cx="546.5" cy="148.2" r="1.5"/>
<circle cx="549.0" cy="148.7" r="1.5"/>
</g>
<g fill="#ec0a7d">
<circle cx="552.0" cy="148.1" r="1.5"/>
</g>
<g fill="#008bfb">
<circle cx="646.6" cy="148.1" r="1.5"/>
<circle cx="649.0" cy="148.9" r="1.5"/>
<circle cx="651.5" cy="148.9" r="1.5"/>
<circle cx="654.0" cy="148.9" r="1.5"/>
<circle cx="656.5" cy="149.0" r="1.5"/>
<circle cx="659.0" cy="148.7" r="1.5"/>
<circle cx="661.5" cy="148.6" r="1.5"/>
<circle cx="664.0" cy="148.5" r="1.5"/>
<circle cx="666.0" cy="148.5" r="1.5"/>
<circle cx="668.0" cy="148.9" r="1.5"/>
<circle cx="679.8" cy="149.0" r="1.5"/>
</g>
<g fill="#ff0051">
<circle cx="656.5" cy="172.6" r="1.5"/>
</g>
<g fill="#9a2aca">
<circle cx="599.8" cy="168.4" r="1.5"/>
</g>
<g fill="#f60567">
<circle cx="616.8" cy="172.5" r="1.5"/>
</g>
<g fill="#d81196">
<circle cx="587.4" cy="177.1" r="1.5"/>
</g>
<g fill="#ff0051">
<circle cx="634.4" cy="172.8" r="1.5"/>
</g>
<g fill="#ec0a7d">
<circle cx="598.5" cy="171.5" r="1.5"/>
</g>
<g fill="#883bd4">
<circle cx="598.5" cy="180.0" r="1.5"/>
</g>
<g fill="#ad22bd">
<circle cx="602.5" cy="168.2" r="1.5"/>
</g>
<g fill="#f60567">
<circle cx="587.0" cy="174.3" r="1.5"/>
</g>
<g fill="#c019af">
<circle cx="602.5" cy="169.4" r="1.5"/>
</g>
<g fill="#fa035c">
<circle cx="637.8" cy="172.7" r="1.5"/>
<circle cx="645.9" cy="172.4" r="1.5"/>
</g>
<g fill="#5964ea">
<circle cx="583.9" cy="173.9" r="1.5"/>
</g>
<g fill="#d81196">
<circle cx="603.0" cy="178.1" r="1.5"/>
</g>
<g fill="#883bd4">
<circle cx="597.4" cy="167.9" r="1.5"/>
</g>
<g fill="#774bde">
<circle cx="603.0" cy="177.2" r="1.5"/>
</g>
<g fill="#883bd4">
<circle cx="588.1" cy="172.6" r="1.5"/>
</g>
<g fill="#f10872">
<circle cx="607.9" cy="174.2" r="1.5"/>
</g>
<g fill="#e20d8a">
<circle cx="580.4" cy="175.5" r="1.5"/>
</g>
<g fill="#f60567">
<circle cx="611.7" cy="174.0" r="1.5"/>
</g>
<g fill="#883bd4">
<circle cx="596.2" cy="174.1" r="1.5"/>
</g>
<g fill="#774bde">
<circle cx="588.2" cy="174.1" r="1.5"/>
</g>
<g fill="#2d7ef6">
<circle cx="618.2" cy="172.5" r="1.5"/>
</g>
<g fill="#f60567">
<circle cx="580.0" cy="169.7" r="1.5"/>
</g>
<g fill="#ad22bd">
<circle cx="587.0" cy="169.5" r="1.5"/>
</g>
<g fill="#883bd4">
<circle cx="595.4" cy="172.9" r="1.5"/>
</g>
<g fill="#9a2aca">
<circle cx="590.5" cy="170.9" r="1.5"/>
</g>
<g fill="#008bfb">
<circle cx="585.2" cy="174.0" r="1.5"/>
</g>
<g fill="#ff0051">
<circle cx="658.5" cy="172.7" r="1.5"/>
</g>
<g fill="#ec0a7d">
<circle cx="600.1" cy="169.5" r="1.5"/>
<circle cx="597.5" cy="167.1" r="1.5"/>
</g>
<g fill="#774bde">
<circle cx="578.1" cy="172.4" r="1.5"/>
</g>
<g fill="#f60567">
<circle cx="625.0" cy="172.5" r="1.5"/>
</g>
<g fill="#883bd4">
<circle cx="593.0" cy="168.2" r="1.5"/>
</g>
<g fill="#774bde">
<circle cx="578.2" cy="174.1" r="1.5"/>
</g>
<g fill="#883bd4">
<circle cx="597.8" cy="171.4" r="1.5"/>
</g>
<g fill="#ff0051">
<circle cx="612.7" cy="172.4" r="1.5"/>
</g>
<g fill="#c019af">
<circle cx="649.6" cy="172.3" r="1.5"/>
</g>
<g fill="#4a6ff0">
<circle cx="606.6" cy="171.0" r="1.5"/>
</g>
<g fill="#ff0051">
<circle cx="640.2" cy="172.9" r="1.5"/>
<circle cx="630.6" cy="172.4" r="1.5"/>
</g>
<g fill="#883bd4">
<circle cx="595.3" cy="173.9" r="1.5"/>
</g>
<g fill="#9a2aca">
<circle cx="590.4" cy="173.9" r="1.5"/>
<circle cx="590.9" cy="169.4" r="1.5"/>
<circle cx="592.7" cy="178.4" r="1.5"/>
</g>
<g fill="#d81196">
<circle cx="591.9" cy="177.2" r="1.5"/>
</g>
<g fill="#fa035c">
<circle cx="588.4" cy="168.5" r="1.5"/>
<circle cx="572.4" cy="172.9" r="1.5"/>
</g>
<g fill="#ff0051">
<circle cx="611.5" cy="172.3" r="1.5"/>
</g>
<g fill="#d81196">
<circle cx="599.1" cy="175.4" r="1.5"/>
</g>
<g fill="#ff0051">
<circle cx="590.3" cy="177.2" r="1.5"/>
</g>
<g fill="#5964ea">
<circle cx="597.7" cy="176.7" r="1.5"/>
</g>
<g fill="#9a2aca">
<circle cx="589.5" cy="165.6" r="1.5"/>
</g>
<g fill="#e20d8a">
<circle cx="579.5" cy="172.9" r="1.5"/>
</g>
<g fill="#9a2aca">
<circle cx="588.0" cy="165.5" r="1.5"/>
</g>
<g fill="#6759e5">
<circle cx="600.8" cy="172.5" r="1.5"/>
</g>
<g fill="#f60567">
<circle cx="596.8" cy="168.0" r="1.5"/>
</g>
<g fill="#883bd4">
<circle cx="593.8" cy="169.7" r="1.5"/>
</g>
<g fill="#9a2aca">
<circle cx="591.8" cy="170.0" r="1.5"/>
</g>
<g fill="#f60567">
<circle cx="601.4" cy="170.9" r="1.5"/>
</g>
<g fill="#883bd4">
<circle cx="588.4" cy="167.1" r="1.5"/>
<circle cx="596.1" cy="172.7" r="1.5"/>
</g>
<g fill="#6759e5">
<circle cx="585.2" cy="175.4" r="1.5"/>
</g>
<g fill="#774bde">
<circle cx="582.3" cy="175.5" r="1.5"/>
</g>
<g fill="#9a2aca">
<circle cx="588.7" cy="171.0" r="1.5"/>
</g>
<g fill="#883bd4">
<circle cx="601.8" cy="174.2" r="1.5"/>
</g>
<g fill="#d81196">
<circle cx="581.5" cy="169.4" r="1.5"/>
</g>
<g fill="#ad22bd">
<circle cx="597.7" cy="172.3" r="1.5"/>
</g>
<g fill="#1e82f8">
<circle cx="595.2" cy="165.6" r="1.5"/>
</g>
<g fill="#6759e5">
<circle cx="613.8" cy="172.4" r="1.5"/>
</g>
<g fill="#c019af">
<circle cx="603.4" cy="168.0" r="1.5"/>
</g>
<g fill="#f60567">
<circle cx="622.6" cy="172.8" r="1.5"/>
</g>
<g fill="#c019af">
<circle cx="605.6" cy="172.5" r="1.5"/>
</g>
<g fill="#883bd4">
<circle cx="596.1" cy="178.5" r="1.5"/>
</g>
<g fill="#f10872">
<circle cx="610.5" cy="172.9" r="1.5"/>
</g>
<g fill="#883bd4">
<circle cx="596.4" cy="177.0" r="1.5"/>
</g>
<g fill="#ad22bd">
<circle cx="602.1" cy="175.8" r="1.5"/>
</g>
<g fill="#ce14a2">
<circle cx="585.1" cy="178.4" r="1.5"/>
</g>
<g fill="#9a2aca">
<circle cx="600.2" cy="179.5" r="1.5"/>
</g>
<g fill="#ce14a2">
<circle cx="605.3" cy="173.7" r="1.5"/>
</g>
<g fill="#d81196">
<circle cx="594.4" cy="168.0" r="1.5"/>
</g>
<g fill="#ce14a2">
<circle cx="582.4" cy="172.7" r="1.5"/>
</g>
<g fill="#5964ea">
<circle cx="599.9" cy="176.6" r="1.5"/>
</g>
<g fill="#774bde">
<circle cx="586.0" cy="169.7" r="1.5"/>
</g>
<g fill="#ff0051">
<circle cx="624.2" cy="172.6" r="1.5"/>
</g>
<g fill="#ad22bd">
<circle cx="586.0" cy="175.8" r="1.5"/>
</g>
<g fill="#008bfb">
<circle cx="593.2" cy="166.9" r="1.5"/>
</g>
<g fill="#fa035c">
<circle cx="648.1" cy="172.3" r="1.5"/>
</g>
<g fill="#774bde">
<circle cx="593.9" cy="172.7" r="1.5"/>
</g>
<g fill="#c019af">
<circle cx="589.8" cy="164.2" r="1.5"/>
</g>
<g fill="#ec0a7d">
<circle cx="611.5" cy="171.0" r="1.5"/>
</g>
<g fill="#5964ea">
<circle cx="599.0" cy="178.4" r="1.5"/>
</g>
<g fill="#3c7af5">
<circle cx="607.8" cy="172.3" r="1.5"/>
</g>
<g fill="#5964ea">
<circle cx="599.7" cy="178.3" r="1.5"/>
</g>
<g fill="#c019af">
<circle cx="604.1" cy="170.0" r="1.5"/>
</g>
<g fill="#fa035c">
<circle cx="632.5" cy="172.9" r="1.5"/>
</g>
<g fill="#6759e5">
<circle cx="589.3" cy="179.5" r="1.5"/>
</g>
<g fill="#c019af">
<circle cx="651.3" cy="172.9" r="1.5"/>
</g>
<g fill="#3c7af5">
<circle cx="587.0" cy="172.7" r="1.5"/>
</g>
<g fill="#f60567">
<circle cx="608.9" cy="174.4" r="1.5"/>
</g>
<g fill="#008bfb">
<circle cx="589.4" cy="170.9" r="1.5"/>
</g>
<g fill="#6759e5">
<circle cx="580.0" cy="174.2" r="1.5"/>
</g>
<g fill="#9a2aca">
<circle cx="588.2" cy="175.2" r="1.5"/>
</g>
<g fill="#ce14a2">
<circle cx="588.2" cy="177.1" r="1.5"/>
</g>
<g fill="#9a2aca">
<circle cx="590.5" cy="179.9" r="1.5"/>
</g>
<g fill="#f10872">
<circle cx="576.7" cy="172.5" r="1.5"/>
</g>
<g fill="#774bde">
<circle cx="599.1" cy="165.6" r="1.5"/>
</g>
<g fill="#ce14a2">
<circle cx="605.5" cy="168.6" r="1.5"/>
</g>
<g fill="#f10872">
<circle cx="620.8" cy="172.9" r="1.5"/>
<circle cx="610.5" cy="174.4" r="1.5"/>
</g>
<g fill="#ce14a2">
<circle cx="601.1" cy="174.2" r="1.5"/>
</g>
<g fill="#ec0a7d">
<circle cx="592.0" cy="168.0" r="1.5"/>
</g>
<g fill="#008bfb">
<circle cx="595.2" cy="167.1" r="1.5"/>
</g>
<g fill="#f60567">
<circle cx="619.2" cy="172.5" r="1.5"/>
</g>
<g fill="#883bd4">
<circle cx="597.4" cy="178.7" r="1.5"/>
</g>
<g fill="#6759e5">
<circle cx="587.3" cy="175.5" r="1.5"/>
</g>
<g fill="#9a2aca">
<circle cx="589.6" cy="168.3" r="1.5"/>
</g>
<g fill="#ff0051">
<circle cx="635.5" cy="172.4" r="1.5"/>
</g>
<g fill="#e20d8a">
<circle cx="638.8" cy="172.7" r="1.5"/>
<circle cx="609.9" cy="171.5" r="1.5"/>
</g>
<g fill="#f10872">
<circle cx="599.7" cy="165.6" r="1.5"/>
</g>
<g fill="#ce14a2">
<circle cx="583.0" cy="169.9" r="1.5"/>
</g>
<g fill="#5964ea">
<circle cx="573.2" cy="172.6" r="1.5"/>
</g>
<g fill="#ad22bd">
<circle cx="586.9" cy="171.2" r="1.5"/>
<circle cx="601.4" cy="176.8" r="1.5"/>
</g>
<g fill="#883bd4">
<circle cx="595.0" cy="181.1" r="1.5"/>
</g>
<g fill="#fa035c">
<circle cx="632.9" cy="172.3" r="1.5"/>
</g>
<g fill="#883bd4">
<circle cx="587.2" cy="168.5" r="1.5"/>
</g>
<g fill="#c019af">
<circle cx="570.9" cy="172.6" r="1.5"/>
</g>
<g fill="#ce14a2">
<circle cx="584.6" cy="171.1" r="1.5"/>
</g>
<g fill="#e20d8a">
<circle cx="593.3" cy="165.2" r="1.5"/>
</g>
<g fill="#ff0051">
<circle cx="626.0" cy="172.3" r="1.5"/>
</g>
<g fill="#c019af">
<circle cx="604.2" cy="175.4" r="1.5"/>
</g>
<g fill="#0f87fa">
<circle cx="594.4" cy="174.1" r="1.5"/>
<circle cx="603.7" cy="172.5" r="1.5"/>
</g>
<g fill="#d81196">
<circle cx="607.2" cy="175.6" r="1.5"/>
</g>
<g fill="#e20d8a">
<circle cx="594.4" cy="170.9" r="1.5"/>
</g>
<g fill="#1e82f8">
<circle cx="605.8" cy="171.1" r="1.5"/>
</g>
<g fill="#883bd4">
<circle cx="595.0" cy="168.0" r="1.5"/>
<circle cx="598.4" cy="166.6" r="1.5"/>
</g>
<g fill="#d81196">
<circle cx="584.7" cy="168.3" r="1.5"/>
</g>
<g fill="#6759e5">
<circle cx="591.9" cy="166.5" r="1.5"/>
</g>
<g fill="#9a2aca">
<circle cx="601.0" cy="168.6" r="1.5"/>
</g>
<g fill="#ad22bd">
<circle cx="602.1" cy="172.5" r="1.5"/>
</g>
<g fill="#c019af">
<circle cx="604.7" cy="172.3" r="1.5"/>
</g>
<g fill="#9a2aca">
<circle cx="599.5" cy="167.1" r="1.5"/>
</g>
<g fill="#fa035c">
<circle cx="604.6" cy="171.2" r="1.5"/>
</g>
<g fill="#ff0051">
<circle cx="663.3" cy="172.4" r="1.5"/>
</g>
<g fill="#e20d8a">
<circle cx="608.1" cy="170.0" r="1.5"/>
</g>
<g fill="#008bfb">
<circle cx="583.5" cy="172.9" r="1.5"/>
</g>
<g fill="#ff0051">
<circle cx="654.7" cy="172.8" r="1.5"/>
<circle cx="657.8" cy="172.6" r="1.5"/>
<circle cx="585.7" cy="174.0" r="1.5"/>
</g>
<g fill="#c019af">
<circle cx="603.0" cy="170.8" r="1.5"/>
</g>
<g fill="#0f87fa">
<circle cx="583.7" cy="175.3" r="1.5"/>
</g>
<g fill="#fa035c">
<circle cx="629.7" cy="172.4" r="1.5"/>
</g>
<g fill="#9a2aca">
<circle cx="589.4" cy="172.5" r="1.5"/>
</g>
<g fill="#883bd4">
<circle cx="597.7" cy="169.6" r="1.5"/>
<circle cx="595.2" cy="178.6" r="1.5"/>
</g>
<g fill="#ce14a2">
<circle cx="605.9" cy="175.7" r="1.5"/>
</g>
<g fill="#9a2aca">
<circle cx="591.9" cy="171.1" r="1.5"/>
</g>
<g fill="#4a6ff0">
<circle cx="586.5" cy="168.2" r="1.5"/>
</g>
<g fill="#ec0a7d">
<circle cx="590.7" cy="168.1" r="1.5"/>
</g>
<g fill="#f60567">
<circle cx="580.1" cy="170.9" r="1.5"/>
</g>
<g fill="#ce14a2">
<circle cx="660.8" cy="172.6" r="1.5"/>
</g>
<g fill="#883bd4">
<circle cx="604.6" cy="168.2" r="1.5"/>
<circle cx="607.1" cy="169.5" r="1.5"/>
</g>
<g fill="#774bde">
<circle cx="596.2" cy="179.6" r="1.5"/>
</g>
<g fill="#ff0051">
<circle cx="652.8" cy="172.6" r="1.5"/>
</g>
<g fill="#9a2aca">
<circle cx="602.2" cy="171.4" r="1.5"/>
</g>
<g fill="#ff0051">
<circle cx="606.6" cy="172.3" r="1.5"/>
</g>
<g fill="#f60567">
<circle cx="615.8" cy="172.7" r="1.5"/>
</g>
<g fill="#d81196">
<circle cx="594.2" cy="177.3" r="1.5"/>
</g>
<g fill="#f10872">
<circle cx="594.5" cy="166.7" r="1.5"/>
</g>
<g fill="#9a2aca">
<circle cx="589.4" cy="175.8" r="1.5"/>
</g>
<g fill="#ec0a7d">
<circle cx="578.0" cy="171.2" r="1.5"/>
</g>
<g fill="#3c7af5">
<circle cx="599.7" cy="171.0" r="1.5"/>
</g>
<g fill="#c019af">
<circle cx="593.2" cy="169.6" r="1.5"/>
</g>
<g fill="#fa035c">
<circle cx="629.0" cy="172.7" r="1.5"/>
</g>
<g fill="#3c7af5">
<circle cx="596.6" cy="165.6" r="1.5"/>
</g>
<g fill="#ff0051">
<circle cx="653.6" cy="172.5" r="1.5"/>
</g>
<g fill="#9a2aca">
<circle cx="590.5" cy="167.1" r="1.5"/>
</g>
<g fill="#ff0051">
<circle cx="603.5" cy="175.7" r="1.5"/>
<circle cx="650.6" cy="172.6" r="1.5"/>
</g>
<g fill="#ad22bd">
<circle cx="601.0" cy="175.8" r="1.5"/>
</g>
<g fill="#ec0a7d">
<circle cx="585.2" cy="176.8" r="1.5"/>
</g>
<g fill="#883bd4">
<circle cx="598.8" cy="177.0" r="1.5"/>
</g>
<g fill="#ec0a7d">
<circle cx="642.8" cy="172.7" r="1.5"/>
</g>
<g fill="#774bde">
<circle cx="647.0" cy="172.3" r="1.5"/>
</g>
<g fill="#883bd4">
<circle cx="594.0" cy="175.6" r="1.5"/>
</g>
<g fill="#1e82f8">
<circle cx="595.2" cy="164.2" r="1.5"/>
</g>
<g fill="#883bd4">
<circle cx="595.4" cy="169.4" r="1.5"/>
</g>
<g fill="#6759e5">
<circle cx="593.8" cy="165.2" r="1.5"/>
</g>
<g fill="#e20d8a">
<circle cx="574.3" cy="172.6" r="1.5"/>
</g>
<g fill="#ad22bd">
<circle cx="590.8" cy="165.0" r="1.5"/>
</g>
<g fill="#fa035c">
<circle cx="627.8" cy="172.6" r="1.5"/>
</g>
<g fill="#883bd4">
<circle cx="586.2" cy="171.0" r="1.5"/>
</g>
<g fill="#ad22bd">
<circle cx="589.2" cy="174.1" r="1.5"/>
</g>
<g fill="#5964ea">
<circle cx="596.2" cy="166.9" r="1.5"/>
</g>
<g fill="#e20d8a">
<circle cx="608.2" cy="171.1" r="1.5"/>
</g>
<g fill="#ff0051">
<circle cx="600.7" cy="169.6" r="1.5"/>
</g>
<g fill="#fa035c">
<circle cx="641.4" cy="172.7" r="1.5"/>
</g>
<g fill="#ce14a2">
<circle cx="603.0" cy="173.8" r="1.5"/>
</g>
<g fill="#f60567">
<circle cx="637.1" cy="172.6" r="1.5"/>
</g>
<g fill="#ff0051">
<circle cx="598.7" cy="172.6" r="1.5"/>
</g>
<g fill="#f10872">
<circle cx="581.7" cy="171.3" r="1.5"/>
</g>
<g fill="#6759e5">
<circle cx="599.7" cy="174.0" r="1.5"/>
</g>
<g fill="#883bd4">
<circle cx="598.6" cy="170.0" r="1.5"/>
<circle cx="595.5" cy="177.3" r="1.5"/>
</g>
<g fill="#9a2aca">
<circle cx="592.9" cy="177.2" r="1.5"/>
</g>
<g fill="#883bd4">
<circle cx="594.5" cy="178.7" r="1.5"/>
</g>
<g fill="#ff0051">
<circle cx="609.0" cy="172.4" r="1.5"/>
</g>
<g fill="#008bfb">
<circle cx="586.3" cy="177.2" r="1.5"/>
</g>
<g fill="#ff0051">
<circle cx="579.3" cy="170.9" r="1.5"/>
</g>
<g fill="#9a2aca">
<circle cx="588.1" cy="178.5" r="1.5"/>
</g>
<g fill="#e20d8a">
<circle cx="608.9" cy="170.9" r="1.5"/>
</g>
<g fill="#883bd4">
<circle cx="589.8" cy="167.1" r="1.5"/>
</g>
<g fill="#9a2aca">
<circle cx="582.6" cy="173.9" r="1.5"/>
</g>
<g fill="#5964ea">
<circle cx="589.8" cy="176.9" r="1.5"/>
</g>
<g fill="#fa035c">
<circle cx="645.1" cy="172.8" r="1.5"/>
</g>
<g fill="#ff0051">
<circle cx="598.0" cy="174.2" r="1.5"/>
</g>
<g fill="#9a2aca">
<circle cx="600.1" cy="172.3" r="1.5"/>
</g>
<g fill="#2d7ef6">
<circle cx="583.8" cy="168.3" r="1.5"/>
<circle cx="589.3" cy="178.3" r="1.5"/>
</g>
<g fill="#e20d8a">
<circle cx="579.5" cy="173.9" r="1.5"/>
</g>
<g fill="#9a2aca">
<circle cx="596.1" cy="169.6" r="1.5"/>
</g>
<g fill="#ad22bd">
<circle cx="591.0" cy="178.1" r="1.5"/>
</g>
<g fill="#c019af">
<circle cx="612.4" cy="173.8" r="1.5"/>
</g>
<g fill="#883bd4">
<circle cx="601.8" cy="177.2" r="1.5"/>
</g>
<g fill="#9a2aca">
<circle cx="589.7" cy="170.0" r="1.5"/>
<circle cx="591.8" cy="174.2" r="1.5"/>
</g>
<g fill="#883bd4">
<circle cx="603.3" cy="169.7" r="1.5"/>
</g>
<g fill="#1e82f8">
<circle cx="591.5" cy="175.8" r="1.5"/>
</g>
<g fill="#f10872">
<circle cx="586.1" cy="172.9" r="1.5"/>
</g>
<g fill="#ce14a2">
<circle cx="592.6" cy="171.4" r="1.5"/>
</g>
<g fill="#9a2aca">
<circle cx="591.7" cy="172.3" r="1.5"/>
</g>
<g fill="#883bd4">
<circle cx="588.7" cy="180.2" r="1.5"/>
</g>
<g fill="#f60567">
<circle cx="607.0" cy="174.0" r="1.5"/>
</g>
<g fill="#ff0051">
<circle cx="660.1" cy="172.6" r="1.5"/>
</g>
<g fill="#2d7ef6">
<circle cx="621.4" cy="172.4" r="1.5"/>
</g>
<g fill="#f60567">
<circle cx="612.8" cy="171.4" r="1.5"/>
</g>
<g fill="#f10872">
<circle cx="643.4" cy="172.6" r="1.5"/>
</g>
<g fill="#ff0051">
<circle cx="575.7" cy="172.9" r="1.5"/>
</g>
<g fill="#774bde">
<circle cx="592.0" cy="178.5" r="1.5"/>
</g>
<g fill="#ff0051">
<circle cx="615.0" cy="172.8" r="1.5"/>
</g>
<g fill="#9a2aca">
<circle cx="595.5" cy="179.7" r="1.5"/>
</g>
<g fill="#ce14a2">
<circle cx="583.7" cy="169.5" r="1.5"/>
</g>
<g fill="#883bd4">
<circle cx="593.3" cy="173.9" r="1.5"/>
</g>
<g fill="#d81196">
<circle cx="662.1" cy="172.4" r="1.5"/>
</g>
<g fill="#9a2aca">
<circle cx="590.3" cy="175.4" r="1.5"/>
</g>
<g fill="#e20d8a">
<circle cx="580.4" cy="172.8" r="1.5"/>
</g>
<g fill="#883bd4">
<circle cx="598.9" cy="168.1" r="1.5"/>
</g>
<g fill="#ff0051">
<circle cx="595.1" cy="175.8" r="1.5"/>
<circle cx="667.5" cy="172.6" r="1.5"/>
<circle cx="671.5" cy="172.5" r="1.5"/>
</g>
<g fill="#fa035c">
<circle cx="599.6" cy="201.2" r="1.5"/>
</g>
<g fill="#ff0051">
<circle cx="585.6" cy="195.4" r="1.5"/>
</g>
<g fill="#c019af">
<circle cx="589.9" cy="196.5" r="1.5"/>
</g>
<g fill="#ad22bd">
<circle cx="603.9" cy="193.7" r="1.5"/>
</g>
<g fill="#9a2aca">
<circle cx="601.5" cy="198.0" r="1.5"/>
</g>
<g fill="#2d7ef6">
<circle cx="615.5" cy="195.1" r="1.5"/>
</g>
<g fill="#1e82f8">
<circle cx="592.1" cy="194.0" r="1.5"/>
</g>
<g fill="#3c7af5">
<circle cx="602.6" cy="196.6" r="1.5"/>
</g>
<g fill="#9a2aca">
<circle cx="590.4" cy="199.7" r="1.5"/>
</g>
<g fill="#4a6ff0">
<circle cx="598.1" cy="199.3" r="1.5"/>
</g>
<g fill="#883bd4">
<circle cx="608.6" cy="198.3" r="1.5"/>
</g>
<g fill="#d81196">
<circle cx="590.0" cy="194.1" r="1.5"/>
</g>
<g fill="#ad22bd">
<circle cx="603.7" cy="196.7" r="1.5"/>
</g>
<g fill="#c019af">
<circle cx="612.2" cy="198.0" r="1.5"/>
</g>
<g fill="#ce14a2">
<circle cx="593.7" cy="188.2" r="1.5"/>
</g>
<g fill="#1e82f8">
<circle cx="617.6" cy="196.4" r="1.5"/>
</g>
<g fill="#ff0051">
<circle cx="592.0" cy="192.6" r="1.5"/>
</g>
<g fill="#f60567">
<circle cx="598.9" cy="195.6" r="1.5"/>
</g>
<g fill="#4a6ff0">
<circle cx="614.3" cy="196.8" r="1.5"/>
</g>
<g fill="#883bd4">
<circle cx="597.3" cy="201.0" r="1.5"/>
</g>
<g fill="#9a2aca">
<circle cx="606.1" cy="199.4" r="1.5"/>
</g>
<g fill="#774bde">
<circle cx="598.1" cy="202.5" r="1.5"/>
</g>
<g fill="#ce14a2">
<circle cx="606.2" cy="198.1" r="1.5"/>
</g>
<g fill="#008bfb">
<circle cx="618.6" cy="198.0" r="1.5"/>
</g>
<g fill="#9a2aca">
<circle cx="596.0" cy="195.2" r="1.5"/>
</g>
<g fill="#5964ea">
<circle cx="622.2" cy="196.7" r="1.5"/>
</g>
<g fill="#774bde">
<circle cx="624.2" cy="196.6" r="1.5"/>
</g>
<g fill="#883bd4">
<circle cx="601.9" cy="191.2" r="1.5"/>
</g>
<g fill="#2d7ef6">
<circle cx="616.4" cy="198.3" r="1.5"/>
</g>
<g fill="#ce14a2">
<circle cx="591.6" cy="195.2" r="1.5"/>
</g>
<g fill="#9a2aca">
<circle cx="603.9" cy="199.9" r="1.5"/>
</g>
<g fill="#ff0051">
<circle cx="594.7" cy="192.5" r="1.5"/>
</g>
<g fill="#0f87fa">
<circle cx="623.2" cy="196.9" r="1.5"/>
</g>
<g fill="#fa035c">
<circle cx="602.8" cy="198.2" r="1.5"/>
</g>
<g fill="#f10872">
<circle cx="584.5" cy="196.6" r="1.5"/>
</g>
<g fill="#4a6ff0">
<circle cx="595.0" cy="202.7" r="1.5"/>
</g>
<g fill="#5964ea">
<circle cx="626.8" cy="197.0" r="1.5"/>
</g>
<g fill="#008bfb">
<circle cx="632.8" cy="197.0" r="1.5"/>
</g>
<g fill="#ce14a2">
<circle cx="615.1" cy="196.9" r="1.5"/>
<circle cx="600.0" cy="199.4" r="1.5"/>
</g>
<g fill="#ad22bd">
<circle cx="592.7" cy="191.2" r="1.5"/>
</g>
<g fill="#9a2aca">
<circle cx="608.7" cy="195.5" r="1.5"/>
</g>
<g fill="#f10872">
<circle cx="611.5" cy="195.2" r="1.5"/>
</g>
<g fill="#008bfb">
<circle cx="600.5" cy="193.9" r="1.5"/>
</g>
<g fill="#883bd4">
<circle cx="600.7" cy="195.2" r="1.5"/>
</g>
<g fill="#3c7af5">
<circle cx="615.5" cy="198.2" r="1.5"/>
</g>
<g fill="#4a6ff0">
<circle cx="600.6" cy="198.0" r="1.5"/>
</g>
<g fill="#ec0a7d">
<circle cx="593.8" cy="196.5" r="1.5"/>
</g>
<g fill="#774bde">
<circle cx="590.3" cy="192.1" r="1.5"/>
</g>
<g fill="#ad22bd">
<circle cx="604.7" cy="199.7" r="1.5"/>
</g>
<g fill="#c019af">
<circle cx="590.4" cy="190.6" r="1.5"/>
</g>
<g fill="#ce14a2">
<circle cx="589.2" cy="195.6" r="1.5"/>
</g>
<g fill="#774bde">
<circle cx="610.8" cy="197.9" r="1.5"/>
</g>
<g fill="#c019af">
<circle cx="601.7" cy="200.8" r="1.5"/>
</g>
<g fill="#883bd4">
<circle cx="599.3" cy="202.7" r="1.5"/>
<circle cx="598.1" cy="195.2" r="1.5"/>
</g>
<g fill="#774bde">
<circle cx="616.7" cy="195.3" r="1.5"/>
</g>
<g fill="#e20d8a">
<circle cx="585.3" cy="196.9" r="1.5"/>
</g>
<g fill="#c019af">
<circle cx="590.9" cy="191.0" r="1.5"/>
</g>
<g fill="#9a2aca">
<circle cx="587.5" cy="198.1" r="1.5"/>
</g>
<g fill="#ff0051">
<circle cx="601.6" cy="192.6" r="1.5"/>
</g>
<g fill="#008bfb">
<circle cx="631.2" cy="196.9" r="1.5"/>
</g>
<g fill="#3c7af5">
<circle cx="613.2" cy="195.3" r="1.5"/>
</g>
<g fill="#4a6ff0">
<circle cx="603.6" cy="197.8" r="1.5"/>
</g>
<g fill="#ad22bd">
<circle cx="593.1" cy="202.6" r="1.5"/>
</g>
<g fill="#c019af">
<circle cx="593.7" cy="203.7" r="1.5"/>
</g>
<g fill="#774bde">
<circle cx="606.4" cy="195.5" r="1.5"/>
</g>
<g fill="#9a2aca">
<circle cx="605.3" cy="198.4" r="1.5"/>
</g>
<g fill="#774bde">
<circle cx="593.8" cy="198.2" r="1.5"/>
</g>
<g fill="#e20d8a">
<circle cx="598.0" cy="190.9" r="1.5"/>
</g>
<g fill="#d81196">
<circle cx="589.7" cy="202.2" r="1.5"/>
</g>
<g fill="#883bd4">
<circle cx="596.7" cy="196.4" r="1.5"/>
</g>
<g fill="#4a6ff0">
<circle cx="598.4" cy="198.1" r="1.5"/>
</g>
<g fill="#9a2aca">
<circle cx="590.4" cy="197.9" r="1.5"/>
</g>
<g fill="#2d7ef6">
<circle cx="597.1" cy="194.9" r="1.5"/>
</g>
<g fill="#4a6ff0">
<circle cx="600.6" cy="201.3" r="1.5"/>
</g>
<g fill="#883bd4">
<circle cx="601.9" cy="194.9" r="1.5"/>
<circle cx="597.0" cy="192.2" r="1.5"/>
</g>
<g fill="#ff0051">
<circle cx="599.5" cy="192.4" r="1.5"/>
<circle cx="594.4" cy="198.2" r="1.5"/>
</g>
<g fill="#5964ea">
<circle cx="592.6" cy="196.5" r="1.5"/>
</g>
<g fill="#ad22bd">
<circle cx="593.5" cy="199.9" r="1.5"/>
</g>
<g fill="#0f87fa">
<circle cx="610.8" cy="193.7" r="1.5"/>
</g>
<g fill="#008bfb">
<circle cx="606.9" cy="195.5" r="1.5"/>
</g>
<g fill="#883bd4">
<circle cx="596.0" cy="199.5" r="1.5"/>
</g>
<g fill="#9a2aca">
<circle cx="594.4" cy="190.9" r="1.5"/>
</g>
<g fill="#2d7ef6">
<circle cx="602.7" cy="195.6" r="1.5"/>
</g>
<g fill="#4a6ff0">
<circle cx="596.8" cy="194.1" r="1.5"/>
</g>
<g fill="#ad22bd">
<circle cx="592.7" cy="189.7" r="1.5"/>
</g>
<g fill="#9a2aca">
<circle cx="604.9" cy="197.0" r="1.5"/>
</g>
<g fill="#ff0051">
<circle cx="596.8" cy="202.5" r="1.5"/>
</g>
<g fill="#6759e5">
<circle cx="605.1" cy="195.1" r="1.5"/>
</g>
<g fill="#9a2aca">
<circle cx="604.1" cy="192.1" r="1.5"/>
</g>
<g fill="#4a6ff0">
<circle cx="599.3" cy="196.5" r="1.5"/>
</g>
<g fill="#ce14a2">
<circle cx="589.0" cy="193.8" r="1.5"/>
</g>
<g fill="#774bde">
<circle cx="609.8" cy="195.5" r="1.5"/>
</g>
<g fill="#ff0051">
<circle cx="606.2" cy="196.6" r="1.5"/>
</g>
<g fill="#008bfb">
<circle cx="594.5" cy="196.5" r="1.5"/>
</g>
<g fill="#ad22bd">
<circle cx="595.6" cy="191.1" r="1.5"/>
</g>
<g fill="#9a2aca">
<circle cx="593.8" cy="190.9" r="1.5"/>
</g>
<g fill="#4a6ff0">
<circle cx="614.0" cy="194.1" r="1.5"/>
</g>
<g fill="#d81196">
<circle cx="586.4" cy="195.4" r="1.5"/>
</g>
<g fill="#9a2aca">
<circle cx="594.4" cy="194.0" r="1.5"/>
</g>
<g fill="#008bfb">
<circle cx="616.6" cy="196.7" r="1.5"/>
</g>
<g fill="#9a2aca">
<circle cx="596.1" cy="201.4" r="1.5"/>
</g>
<g fill="#008bfb">
<circle cx="614.5" cy="199.4" r="1.5"/>
</g>
<g fill="#883bd4">
<circle cx="595.0" cy="195.5" r="1.5"/>
</g>
<g fill="#e20d8a">
<circle cx="609.3" cy="197.9" r="1.5"/>
</g>
<g fill="#d81196">
<circle cx="587.9" cy="193.8" r="1.5"/>
<circle cx="593.4" cy="195.1" r="1.5"/>
</g>
<g fill="#9a2aca">
<circle cx="603.9" cy="200.9" r="1.5"/>
</g>
<g fill="#6759e5">
<circle cx="612.8" cy="196.4" r="1.5"/>
<circle cx="611.7" cy="196.5" r="1.5"/>
</g>
<g fill="#0f87fa">
<circle cx="625.6" cy="196.6" r="1.5"/>
</g>
<g fill="#c019af">
<circle cx="599.2" cy="197.9" r="1.5"/>
</g>
<g fill="#008bfb">
<circle cx="590.8" cy="198.5" r="1.5"/>
</g>
<g fill="#883bd4">
<circle cx="601.5" cy="196.7" r="1.5"/>
</g>
<g fill="#ad22bd">
<circle cx="595.8" cy="192.0" r="1.5"/>
</g>
<g fill="#008bfb">
<circle cx="633.8" cy="196.8" r="1.5"/>
</g>
<g fill="#0f87fa">
<circle cx="597.8" cy="193.9" r="1.5"/>
</g>
<g fill="#ad22bd">
<circle cx="593.7" cy="205.4" r="1.5"/>
</g>
<g fill="#f60567">
<circle cx="591.1" cy="192.2" r="1.5"/>
</g>
<g fill="#ff0051">
<circle cx="589.3" cy="198.1" r="1.5"/>
</g>
<g fill="#9a2aca">
<circle cx="595.9" cy="202.2" r="1.5"/>
</g>
<g fill="#ff0051">
<circle cx="586.5" cy="196.8" r="1.5"/>
</g>
<g fill="#883bd4">
<circle cx="592.1" cy="201.2" r="1.5"/>
<circle cx="601.9" cy="202.6" r="1.5"/>
</g>
<g fill="#ad22bd">
<circle cx="592.5" cy="194.9" r="1.5"/>
</g>
<g fill="#1e82f8">
<circle cx="618.9" cy="196.7" r="1.5"/>
</g>
<g fill="#d81196">
<circle cx="587.4" cy="196.5" r="1.5"/>
</g>
<g fill="#ff0051">
<circle cx="589.0" cy="199.7" r="1.5"/>
<circle cx="586.4" cy="198.4" r="1.5"/>
</g>
<g fill="#ad22bd">
<circle cx="593.9" cy="201.3" r="1.5"/>
</g>
<g fill="#fa035c">
<circle cx="601.3" cy="193.5" r="1.5"/>
</g>
<g fill="#ec0a7d">
<circle cx="605.1" cy="193.8" r="1.5"/>
</g>
<g fill="#4a6ff0">
<circle cx="614.3" cy="198.4" r="1.5"/>
</g>
<g fill="#883bd4">
<circle cx="593.4" cy="193.6" r="1.5"/>
</g>
<g fill="#3c7af5">
<circle cx="601.8" cy="199.8" r="1.5"/>
</g>
<g fill="#883bd4">
<circle cx="600.7" cy="196.6" r="1.5"/>
</g>
<g fill="#f10872">
<circle cx="599.2" cy="199.6" r="1.5"/>
</g>
<g fill="#d81196">
<circle cx="599.2" cy="190.6" r="1.5"/>
</g>
<g fill="#3c7af5">
<circle cx="611.1" cy="197.0" r="1.5"/>
</g>
<g fill="#774bde">
<circle cx="610.8" cy="199.9" r="1.5"/>
</g>
<g fill="#d81196">
<circle cx="602.8" cy="193.9" r="1.5"/>
</g>
<g fill="#9a2aca">
<circle cx="594.4" cy="201.1" r="1.5"/>
</g>
<g fill="#0f87fa">
<circle cx="619.6" cy="197.0" r="1.5"/>
</g>
<g fill="#4a6ff0">
<circle cx="614.0" cy="195.3" r="1.5"/>
</g>
<g fill="#883bd4">
<circle cx="608.2" cy="196.9" r="1.5"/>
</g>
<g fill="#008bfb">
<circle cx="617.4" cy="195.4" r="1.5"/>
</g>
<g fill="#ff0051">
<circle cx="594.5" cy="203.6" r="1.5"/>
</g>
<g fill="#1e82f8">
<circle cx="597.7" cy="201.4" r="1.5"/>
</g>
<g fill="#d81196">
<circle cx="587.7" cy="195.3" r="1.5"/>
</g>
<g fill="#5964ea">
<circle cx="617.5" cy="198.0" r="1.5"/>
</g>
<g fill="#c019af">
<circle cx="590.9" cy="202.5" r="1.5"/>
</g>
<g fill="#6759e5">
<circle cx="611.8" cy="199.3" r="1.5"/>
</g>
<g fill="#883bd4">
<circle cx="598.2" cy="192.2" r="1.5"/>
</g>
<g fill="#e20d8a">
<circle cx="587.8" cy="199.6" r="1.5"/>
</g>
<g fill="#883bd4">
<circle cx="600.6" cy="192.3" r="1.5"/>
</g>
<g fill="#ff0051">
<circle cx="593.2" cy="192.2" r="1.5"/>
</g>
<g fill="#883bd4">
<circle cx="602.8" cy="199.7" r="1.5"/>
</g>
<g fill="#4a6ff0">
<circle cx="595.7" cy="193.8" r="1.5"/>
</g>
<g fill="#008bfb">
<circle cx="628.4" cy="196.6" r="1.5"/>
</g>
<g fill="#5964ea">
<circle cx="613.4" cy="197.9" r="1.5"/>
</g>
<g fill="#883bd4">
<circle cx="598.0" cy="196.4" r="1.5"/>
</g>
<g fill="#d81196">
<circle cx="606.0" cy="194.0" r="1.5"/>
</g>
<g fill="#ad22bd">
<circle cx="593.4" cy="189.2" r="1.5"/>
</g>
<g fill="#c019af">
<circle cx="591.0" cy="194.0" r="1.5"/>
</g>
<g fill="#008bfb">
<circle cx="621.2" cy="196.6" r="1.5"/>
<circle cx="599.3" cy="193.7" r="1.5"/>
<circle cx="607.0" cy="197.9" r="1.5"/>
</g>
<g fill="#ce14a2">
<circle cx="582.9" cy="196.9" r="1.5"/>
</g>
<g fill="#774bde">
<circle cx="609.9" cy="199.3" r="1.5"/>
</g>
<g fill="#ce14a2">
<circle cx="588.8" cy="196.7" r="1.5"/>
</g>
<g fill="#ff0051">
<circle cx="573.0" cy="196.9" r="1.5"/>
<circle cx="577.0" cy="197.1" r="1.5"/>
<circle cx="580.2" cy="196.2" r="1.5"/>
</g>
<line x1="599.3" y1="3.9" x2="599.3" y2="221.7" stroke="#8a8a8a" stroke-width="0.9" opacity="0.8"/>
<line x1="500.2" y1="221.7" x2="751.6" y2="221.7" stroke="#444" stroke-width="0.9"/>
<line x1="503.3" y1="221.7" x2="503.3" y2="224.0" stroke="#555" stroke-width="0.8"/>
<text x="503.3" y="235.0" font-size="8.00" text-anchor="middle" fill="#222" stroke="#222" stroke-width="0.30" >−1.5</text>
<line x1="535.3" y1="221.7" x2="535.3" y2="224.0" stroke="#555" stroke-width="0.8"/>
<text x="535.3" y="235.0" font-size="8.00" text-anchor="middle" fill="#222" stroke="#222" stroke-width="0.30" >−1.0</text>
<line x1="567.3" y1="221.7" x2="567.3" y2="224.0" stroke="#555" stroke-width="0.8"/>
<text x="567.3" y="235.0" font-size="8.00" text-anchor="middle" fill="#222" stroke="#222" stroke-width="0.30" >−0.5</text>
<line x1="599.3" y1="221.7" x2="599.3" y2="224.0" stroke="#555" stroke-width="0.8"/>
<text x="599.3" y="235.0" font-size="8.00" text-anchor="middle" fill="#222" stroke="#222" stroke-width="0.30" >0.0</text>
<line x1="631.3" y1="221.7" x2="631.3" y2="224.0" stroke="#555" stroke-width="0.8"/>
<text x="631.3" y="235.0" font-size="8.00" text-anchor="middle" fill="#222" stroke="#222" stroke-width="0.30" >0.5</text>
<line x1="663.3" y1="221.7" x2="663.3" y2="224.0" stroke="#555" stroke-width="0.8"/>
<text x="663.3" y="235.0" font-size="8.00" text-anchor="middle" fill="#222" stroke="#222" stroke-width="0.30" >1.0</text>
<line x1="695.3" y1="221.7" x2="695.3" y2="224.0" stroke="#555" stroke-width="0.8"/>
<text x="695.3" y="235.0" font-size="8.00" text-anchor="middle" fill="#222" stroke="#222" stroke-width="0.30" >1.5</text>
<line x1="727.3" y1="221.7" x2="727.3" y2="224.0" stroke="#555" stroke-width="0.8"/>
<text x="727.3" y="235.0" font-size="8.00" text-anchor="middle" fill="#222" stroke="#222" stroke-width="0.30" >2.0</text>
<text x="530.0" y="249.3" font-size="10.80" text-anchor="start" fill="#111" stroke="#111" stroke-width="0.45" textLength="190.0" lengthAdjust="spacingAndGlyphs" >SHAP value (impact on model output)</text>
<defs><linearGradient id="cb" x1="0" y1="1" x2="0" y2="0">
<stop offset="0.00" stop-color="#008bfb"/>
<stop offset="0.20" stop-color="#3c7af5"/>
<stop offset="0.38" stop-color="#7052e2"/>
<stop offset="0.50" stop-color="#9a2aca"/>
<stop offset="0.62" stop-color="#c816aa"/>
<stop offset="0.80" stop-color="#ec0a7d"/>
<stop offset="1.00" stop-color="#ff0051"/>
</linearGradient></defs>
<rect x="766.1" y="3.5" width="3.3" height="217.8" fill="url(#cb)"/>
<text x="771.6" y="7.7" font-size="7.50" text-anchor="start" fill="#000" stroke="#000" stroke-width="0.30" textLength="16.5" lengthAdjust="spacingAndGlyphs" >High</text>
<text x="771.8" y="225.4" font-size="7.50" text-anchor="start" fill="#000" stroke="#000" stroke-width="0.30" textLength="13.8" lengthAdjust="spacingAndGlyphs" >Low</text>
<text transform="translate(796,109) rotate(-90)"  font-size="9.5" text-anchor="middle" fill="#111" stroke="#111" stroke-width="0.5" textLength="59.5" lengthAdjust="spacingAndGlyphs">Feature value</text>
</svg>
</body></html>
